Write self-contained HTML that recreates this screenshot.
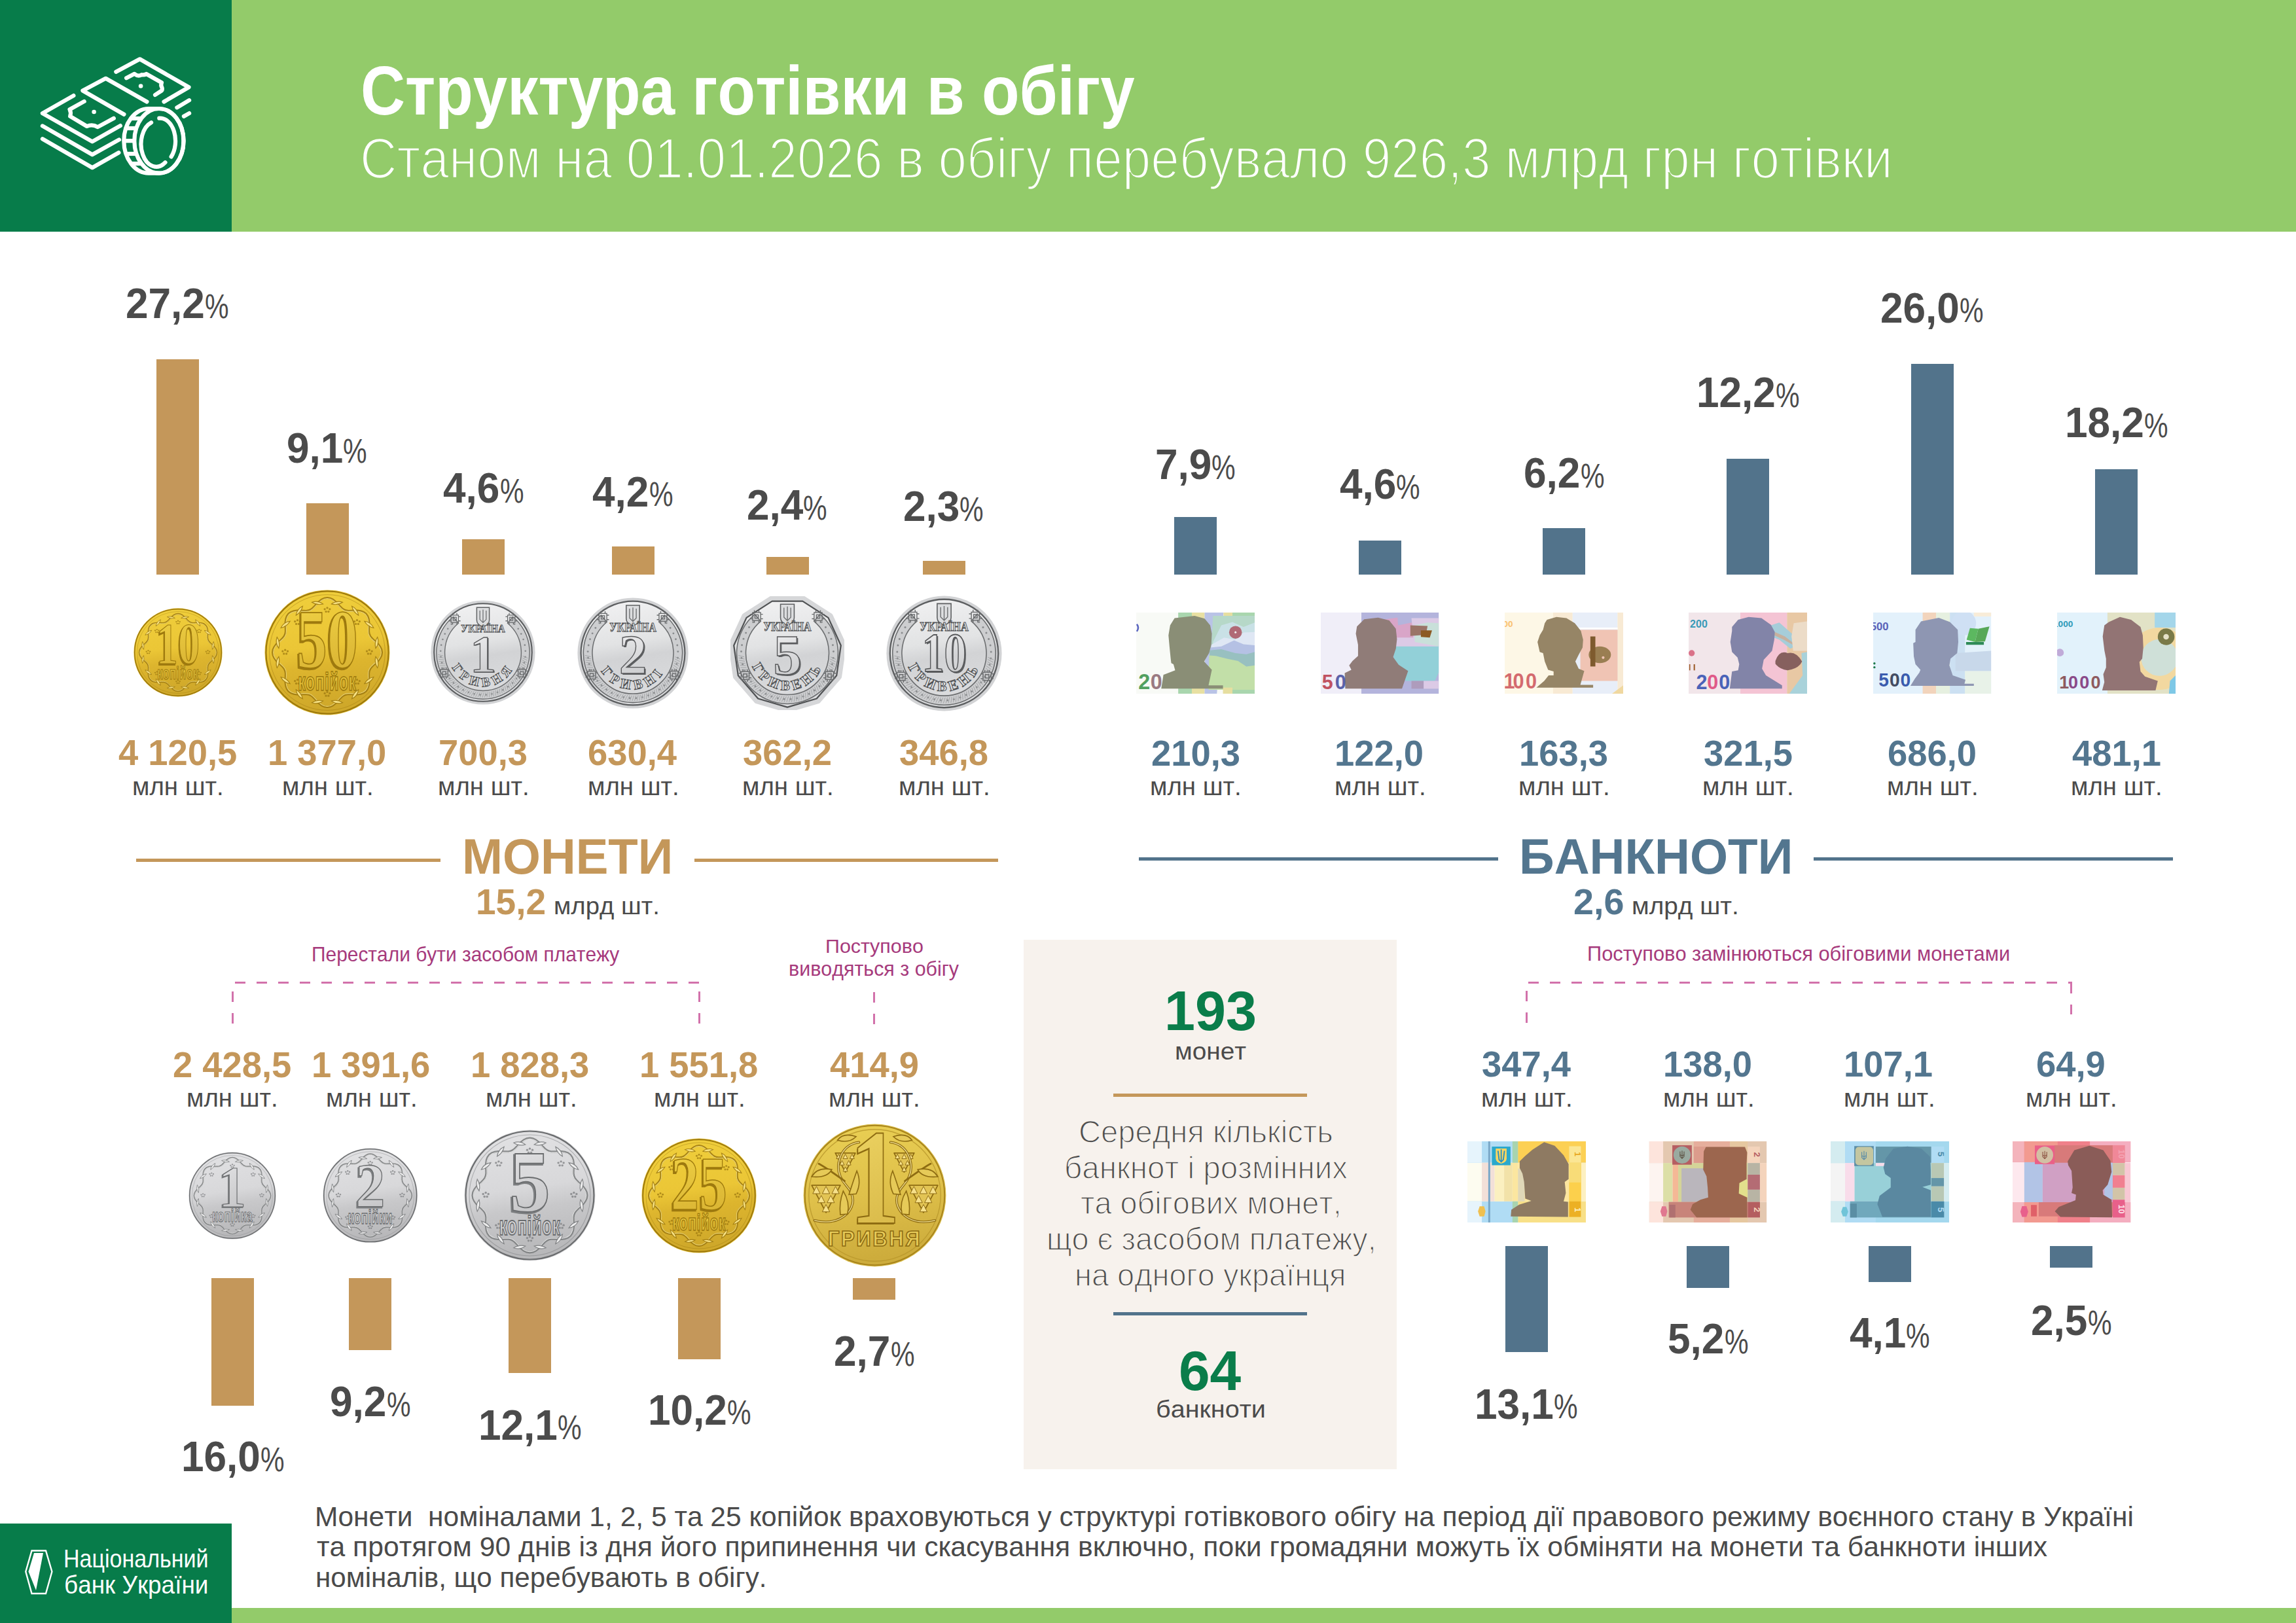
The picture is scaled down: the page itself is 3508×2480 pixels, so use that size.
<!DOCTYPE html>
<html lang="uk"><head><meta charset="utf-8"><title>Структура готівки в обігу</title>
<style>
html,body{margin:0;padding:0;}
body{width:3508px;height:2480px;position:relative;overflow:hidden;background:#fff;font-family:"Liberation Sans",sans-serif;}
.t{position:absolute;white-space:nowrap;line-height:1;transform-origin:0 0;font-kerning:none;font-family:"Liberation Sans",sans-serif;}
svg{overflow:hidden}
</style></head><body>
<div style="position:absolute;left:0.0px;top:0.0px;width:354.3px;height:354.4px;background:#077c4a;"></div>
<div style="position:absolute;left:354.3px;top:0.0px;width:3153.7px;height:354.4px;background:#93cb6a;"></div>
<svg style="position:absolute;left:0;top:0" width="354" height="354" viewBox="0 0 354 354"><g fill="none" stroke="#fff" stroke-width="6.2" stroke-linecap="round" stroke-linejoin="round"><path d="M177.3,109.8 L213.6,90.3 L288.5,133.3 L250.5,155.5"/><path d="M193.1,119.2 L205.4,112.8 Q210.7,117.5 216.5,114.2 Q220.0,115.1 223.6,113.0 L247.0,126.2 Q245.2,130.3 247.6,134.1 Q248.7,137.9 245.2,139.7 L237.0,145.0"/><path d="M224.4,155.5 L161.5,119.8 L126.4,138.5 L189.4,174.8"/><path d="M112.4,146.1 L64.9,173.1 L141.0,216.4 L183.8,192.1"/><path d="M128.7,154.9 L106.5,167.2 Q109.1,172.5 107.1,177.7 L132.8,193.0 Q141.0,189.1 149.2,194.1 L173.8,180.7"/><path d="M64.9,192.4 L141.0,236.3 L182.0,213.4"/><path d="M64.9,212.3 L141.0,256.2 L181.4,233.3"/><path d="M270.4,164.3 L289.1,153.2"/><path d="M280.9,177.7 L289.1,173.1"/><path d="M226.9,166.0 L242.9,166.0 A37.6,49.3 0 0 1 242.9,264.6 L226.9,264.6 A37.6,49.3 0 0 1 226.9,166.0 Z" fill="#077c4a"/><ellipse cx="242.9" cy="215.3" rx="37.6" ry="49.3"/><path d="M199.9,181 L215.9,181" stroke-linecap="butt"/><path d="M192.3,196 L208.3,196" stroke-linecap="butt"/><path d="M189.3,215.2 L205.3,215.2" stroke-linecap="butt"/><path d="M192.4,235 L208.4,235" stroke-linecap="butt"/><path d="M200.2,250 L216.2,250" stroke-linecap="butt"/><path d="M231.1,187.2 A23.3,34.8 0 1 0 252.5,248.2"/><path d="M243.3,180.7 A23.3,34.8 0 0 1 261.6,239.5"/></g><circle cx="215.1" cy="131.5" r="3.3" fill="#fff"/><circle cx="143.6" cy="171.0" r="3.3" fill="#fff"/></svg>
<div class="t" style="left:551.1px;top:86.9px;font-size:104.9px;font-weight:700;color:#fff;font-family:'Liberation Sans',sans-serif;transform:scaleX(0.8989);">Структура готівки в обігу</div>
<div class="t" style="left:549.7px;top:199.1px;font-size:86.8px;font-weight:400;color:#fff;font-family:'Liberation Sans',sans-serif;transform:scaleX(0.9018);-webkit-text-stroke:2.6px #93cb6a;paint-order:normal;">Станом на 01.01.2026 в обігу перебувало 926,3 млрд грн готівки</div>
<div style="position:absolute;left:239.0px;top:549.0px;width:65.0px;height:329.0px;background:#c4975a;"></div>
<div style="position:absolute;left:467.5px;top:769.0px;width:65.0px;height:109.0px;background:#c4975a;"></div>
<div style="position:absolute;left:705.5px;top:824.0px;width:65.0px;height:54.0px;background:#c4975a;"></div>
<div style="position:absolute;left:934.5px;top:834.5px;width:65.0px;height:43.5px;background:#c4975a;"></div>
<div style="position:absolute;left:1170.5px;top:851.0px;width:65.0px;height:27.0px;background:#c4975a;"></div>
<div style="position:absolute;left:1409.5px;top:856.6px;width:65.0px;height:21.4px;background:#c4975a;"></div>
<div class="t" style="left:192.4px;top:431.1px;font-size:65.4px;font-weight:700;color:#4b4b4b;transform:scaleX(0.9500);">27,2</div>
<div class="t" style="left:313.3px;top:441.9px;font-size:52.7px;font-weight:400;color:#4b4b4b;transform:scaleX(0.7800);">%</div>
<div class="t" style="left:437.9px;top:652.2px;font-size:65.4px;font-weight:700;color:#4b4b4b;transform:scaleX(0.9500);">9,1</div>
<div class="t" style="left:524.3px;top:663.0px;font-size:52.7px;font-weight:400;color:#4b4b4b;transform:scaleX(0.7800);">%</div>
<div class="t" style="left:677.1px;top:713.4px;font-size:65.4px;font-weight:700;color:#4b4b4b;transform:scaleX(0.9500);">4,6</div>
<div class="t" style="left:763.5px;top:724.2px;font-size:52.7px;font-weight:400;color:#4b4b4b;transform:scaleX(0.7800);">%</div>
<div class="t" style="left:905.3px;top:718.5px;font-size:65.4px;font-weight:700;color:#4b4b4b;transform:scaleX(0.9500);">4,2</div>
<div class="t" style="left:991.7px;top:729.3px;font-size:52.7px;font-weight:400;color:#4b4b4b;transform:scaleX(0.7800);">%</div>
<div class="t" style="left:1141.0px;top:739.3px;font-size:65.4px;font-weight:700;color:#4b4b4b;transform:scaleX(0.9500);">2,4</div>
<div class="t" style="left:1227.4px;top:750.1px;font-size:52.7px;font-weight:400;color:#4b4b4b;transform:scaleX(0.7800);">%</div>
<div class="t" style="left:1379.7px;top:741.2px;font-size:65.4px;font-weight:700;color:#4b4b4b;transform:scaleX(0.9500);">2,3</div>
<div class="t" style="left:1466.1px;top:752.0px;font-size:52.7px;font-weight:400;color:#4b4b4b;transform:scaleX(0.7800);">%</div>
<svg style="position:absolute;left:203.9px;top:928.5px" width="136.0" height="136.0" viewBox="-100 -100 200 200"><defs><linearGradient id="g1" x1="0" y1="0" x2="0.15" y2="1"><stop offset="0" stop-color="#f0cf3c"/><stop offset="0.5" stop-color="#ebc636"/><stop offset="0.66" stop-color="#ddb52e"/><stop offset="1" stop-color="#cfa82a"/></linearGradient><linearGradient id="gn2" x1="0" y1="0" x2="0.15" y2="1"><stop offset="0" stop-color="#f2d446"/><stop offset="1" stop-color="#d8b232"/></linearGradient></defs><circle r="99.5" fill="#e6c440"/><circle r="97.5" fill="url(#g1)" stroke="#9c780c" stroke-width="2.2"/><circle r="92" fill="none" stroke="#9e7a10" stroke-width="1" opacity="0.5"/><path d="M0.0,-87.0 L4.5,-86.3 L8.9,-84.2 L12.9,-81.2 L16.5,-77.5 L19.8,-73.9 L23.0,-70.7 L26.2,-68.3 L29.8,-66.8 L33.7,-66.2 L38.2,-66.3 L43.2,-66.5 L48.3,-66.5 L53.3,-65.8 L57.8,-64.2 L61.5,-61.5 L64.2,-57.8 L65.8,-53.3 L66.5,-48.3 L66.5,-43.2 L66.3,-38.3 L66.2,-33.7 L66.8,-29.8 L68.3,-26.2 L70.7,-23.0 L73.9,-19.8 L77.5,-16.5 L81.2,-12.9 L84.2,-8.9 L86.3,-4.5 L87.0,-0.0 L86.3,4.5 L84.2,8.9 L81.2,12.9 L77.5,16.5 L73.9,19.8 L70.7,23.0 L68.3,26.2 L66.8,29.8 L66.2,33.7 L66.3,38.2 L66.5,43.2 L66.5,48.3 L65.8,53.3 L64.2,57.8 L61.5,61.5 L57.8,64.2 L53.3,65.8 L48.3,66.5 L43.2,66.5 L38.2,66.3 L33.7,66.2 L29.8,66.8 L26.2,68.3 L23.0,70.7 L19.8,73.9 L16.5,77.5 L12.9,81.2 L8.9,84.2 L4.5,86.3 L0.0,87.0 L-4.5,86.3 L-8.9,84.2 L-12.9,81.2 L-16.5,77.5 L-19.8,73.9 L-23.0,70.7 L-26.2,68.3 L-29.8,66.8 L-33.7,66.2 L-38.3,66.3 L-43.2,66.5 L-48.3,66.5 L-53.3,65.8 L-57.8,64.2 L-61.5,61.5 L-64.2,57.8 L-65.8,53.3 L-66.5,48.3 L-66.5,43.2 L-66.3,38.3 L-66.2,33.7 L-66.8,29.8 L-68.3,26.2 L-70.7,23.0 L-73.9,19.8 L-77.5,16.5 L-81.2,12.9 L-84.2,8.9 L-86.3,4.5 L-87.0,0.0 L-86.3,-4.5 L-84.2,-8.9 L-81.2,-12.9 L-77.5,-16.5 L-73.9,-19.8 L-70.7,-23.0 L-68.3,-26.2 L-66.8,-29.8 L-66.2,-33.7 L-66.3,-38.3 L-66.5,-43.2 L-66.5,-48.3 L-65.8,-53.3 L-64.2,-57.8 L-61.5,-61.5 L-57.8,-64.2 L-53.3,-65.8 L-48.3,-66.5 L-43.2,-66.5 L-38.3,-66.3 L-33.7,-66.2 L-29.8,-66.8 L-26.2,-68.3 L-23.0,-70.7 L-19.8,-73.9 L-16.5,-77.5 L-12.9,-81.2 L-8.9,-84.2 L-4.5,-86.3 L-0.0,-87.0Z" fill="none" stroke="#9e7a10" stroke-width="3.2" opacity="0.9"/><path d="M0.0,-85.8 L4.5,-85.1 L8.7,-83.0 L12.7,-80.0 L16.2,-76.4 L19.5,-72.7 L22.6,-69.6 L25.8,-67.2 L29.3,-65.7 L33.2,-65.2 L37.6,-65.2 L42.5,-65.5 L47.6,-65.5 L52.5,-64.9 L57.0,-63.3 L60.7,-60.7 L63.3,-57.0 L64.9,-52.5 L65.5,-47.6 L65.5,-42.5 L65.2,-37.7 L65.2,-33.2 L65.7,-29.3 L67.2,-25.8 L69.6,-22.6 L72.7,-19.5 L76.4,-16.2 L80.0,-12.7 L83.0,-8.7 L85.1,-4.5 L85.8,-0.0 L85.1,4.5 L83.0,8.7 L80.0,12.7 L76.4,16.2 L72.7,19.5 L69.6,22.6 L67.2,25.8 L65.7,29.3 L65.2,33.2 L65.2,37.6 L65.5,42.5 L65.5,47.6 L64.9,52.5 L63.3,57.0 L60.7,60.7 L57.0,63.3 L52.5,64.9 L47.6,65.5 L42.5,65.5 L37.6,65.2 L33.2,65.2 L29.3,65.7 L25.8,67.2 L22.6,69.6 L19.5,72.7 L16.2,76.4 L12.7,80.0 L8.7,83.0 L4.5,85.1 L0.0,85.8 L-4.5,85.1 L-8.7,83.0 L-12.7,80.0 L-16.2,76.4 L-19.5,72.7 L-22.6,69.6 L-25.8,67.2 L-29.3,65.7 L-33.2,65.2 L-37.7,65.2 L-42.5,65.5 L-47.6,65.5 L-52.5,64.9 L-57.0,63.3 L-60.7,60.7 L-63.3,57.0 L-64.9,52.5 L-65.5,47.6 L-65.5,42.5 L-65.2,37.7 L-65.2,33.2 L-65.7,29.3 L-67.2,25.8 L-69.6,22.6 L-72.7,19.5 L-76.4,16.2 L-80.0,12.7 L-83.0,8.7 L-85.1,4.5 L-85.8,0.0 L-85.1,-4.5 L-83.0,-8.7 L-80.0,-12.7 L-76.4,-16.2 L-72.7,-19.5 L-69.6,-22.6 L-67.2,-25.8 L-65.7,-29.3 L-65.2,-33.2 L-65.2,-37.7 L-65.5,-42.5 L-65.5,-47.6 L-64.9,-52.5 L-63.3,-57.0 L-60.7,-60.7 L-57.0,-63.3 L-52.5,-64.9 L-47.6,-65.5 L-42.5,-65.5 L-37.7,-65.2 L-33.2,-65.2 L-29.3,-65.7 L-25.8,-67.2 L-22.6,-69.6 L-19.5,-72.7 L-16.2,-76.4 L-12.7,-80.0 L-8.7,-83.0 L-4.5,-85.1 L-0.0,-85.8Z" fill="none" stroke="#fae68a" stroke-width="1.2" opacity="0.8"/><path d="M-9,0 Q0,-5 9,0 Q0,4 -9,0Z" transform="translate(15.6,-78.5) rotate(-9)" fill="#fae68a" stroke="#9e7a10" stroke-width="1.2" opacity="0.9"/><path d="M-9,0 Q0,-5 9,0 Q0,4 -9,0Z" transform="translate(44.4,-66.5) rotate(54)" fill="#fae68a" stroke="#9e7a10" stroke-width="1.2" opacity="0.9"/><path d="M-9,0 Q0,-5 9,0 Q0,4 -9,0Z" transform="translate(66.5,-44.4) rotate(36)" fill="#fae68a" stroke="#9e7a10" stroke-width="1.2" opacity="0.9"/><path d="M-9,0 Q0,-5 9,0 Q0,4 -9,0Z" transform="translate(78.5,-15.6) rotate(99)" fill="#fae68a" stroke="#9e7a10" stroke-width="1.2" opacity="0.9"/><path d="M-9,0 Q0,-5 9,0 Q0,4 -9,0Z" transform="translate(78.5,15.6) rotate(81)" fill="#fae68a" stroke="#9e7a10" stroke-width="1.2" opacity="0.9"/><path d="M-9,0 Q0,-5 9,0 Q0,4 -9,0Z" transform="translate(66.5,44.4) rotate(144)" fill="#fae68a" stroke="#9e7a10" stroke-width="1.2" opacity="0.9"/><path d="M-9,0 Q0,-5 9,0 Q0,4 -9,0Z" transform="translate(44.4,66.5) rotate(126)" fill="#fae68a" stroke="#9e7a10" stroke-width="1.2" opacity="0.9"/><path d="M-9,0 Q0,-5 9,0 Q0,4 -9,0Z" transform="translate(15.6,78.5) rotate(189)" fill="#fae68a" stroke="#9e7a10" stroke-width="1.2" opacity="0.9"/><path d="M-9,0 Q0,-5 9,0 Q0,4 -9,0Z" transform="translate(-15.6,78.5) rotate(171)" fill="#fae68a" stroke="#9e7a10" stroke-width="1.2" opacity="0.9"/><path d="M-9,0 Q0,-5 9,0 Q0,4 -9,0Z" transform="translate(-44.4,66.5) rotate(234)" fill="#fae68a" stroke="#9e7a10" stroke-width="1.2" opacity="0.9"/><path d="M-9,0 Q0,-5 9,0 Q0,4 -9,0Z" transform="translate(-66.5,44.4) rotate(216)" fill="#fae68a" stroke="#9e7a10" stroke-width="1.2" opacity="0.9"/><path d="M-9,0 Q0,-5 9,0 Q0,4 -9,0Z" transform="translate(-78.5,15.6) rotate(279)" fill="#fae68a" stroke="#9e7a10" stroke-width="1.2" opacity="0.9"/><path d="M-9,0 Q0,-5 9,0 Q0,4 -9,0Z" transform="translate(-78.5,-15.6) rotate(261)" fill="#fae68a" stroke="#9e7a10" stroke-width="1.2" opacity="0.9"/><path d="M-9,0 Q0,-5 9,0 Q0,4 -9,0Z" transform="translate(-66.5,-44.4) rotate(324)" fill="#fae68a" stroke="#9e7a10" stroke-width="1.2" opacity="0.9"/><path d="M-9,0 Q0,-5 9,0 Q0,4 -9,0Z" transform="translate(-44.4,-66.5) rotate(306)" fill="#fae68a" stroke="#9e7a10" stroke-width="1.2" opacity="0.9"/><path d="M-9,0 Q0,-5 9,0 Q0,4 -9,0Z" transform="translate(-15.6,-78.5) rotate(369)" fill="#fae68a" stroke="#9e7a10" stroke-width="1.2" opacity="0.9"/><circle cx="-4.0" cy="-69.0" r="1.7" fill="#9e7a10" opacity="0.75"/><circle cx="0.0" cy="-71.0" r="1.7" fill="#9e7a10" opacity="0.75"/><circle cx="4.0" cy="-69.0" r="1.7" fill="#9e7a10" opacity="0.75"/><circle cx="-2.0" cy="-65.0" r="1.7" fill="#9e7a10" opacity="0.75"/><circle cx="2.0" cy="-65.0" r="1.7" fill="#9e7a10" opacity="0.75"/><circle cx="43.4" cy="-49.4" r="1.7" fill="#9e7a10" opacity="0.75"/><circle cx="47.4" cy="-51.4" r="1.7" fill="#9e7a10" opacity="0.75"/><circle cx="51.4" cy="-49.4" r="1.7" fill="#9e7a10" opacity="0.75"/><circle cx="45.4" cy="-45.4" r="1.7" fill="#9e7a10" opacity="0.75"/><circle cx="49.4" cy="-45.4" r="1.7" fill="#9e7a10" opacity="0.75"/><circle cx="63.0" cy="-2.0" r="1.7" fill="#9e7a10" opacity="0.75"/><circle cx="67.0" cy="-4.0" r="1.7" fill="#9e7a10" opacity="0.75"/><circle cx="71.0" cy="-2.0" r="1.7" fill="#9e7a10" opacity="0.75"/><circle cx="65.0" cy="2.0" r="1.7" fill="#9e7a10" opacity="0.75"/><circle cx="69.0" cy="2.0" r="1.7" fill="#9e7a10" opacity="0.75"/><circle cx="43.4" cy="45.4" r="1.7" fill="#9e7a10" opacity="0.75"/><circle cx="47.4" cy="43.4" r="1.7" fill="#9e7a10" opacity="0.75"/><circle cx="51.4" cy="45.4" r="1.7" fill="#9e7a10" opacity="0.75"/><circle cx="45.4" cy="49.4" r="1.7" fill="#9e7a10" opacity="0.75"/><circle cx="49.4" cy="49.4" r="1.7" fill="#9e7a10" opacity="0.75"/><circle cx="-4.0" cy="65.0" r="1.7" fill="#9e7a10" opacity="0.75"/><circle cx="0.0" cy="63.0" r="1.7" fill="#9e7a10" opacity="0.75"/><circle cx="4.0" cy="65.0" r="1.7" fill="#9e7a10" opacity="0.75"/><circle cx="-2.0" cy="69.0" r="1.7" fill="#9e7a10" opacity="0.75"/><circle cx="2.0" cy="69.0" r="1.7" fill="#9e7a10" opacity="0.75"/><circle cx="-51.4" cy="45.4" r="1.7" fill="#9e7a10" opacity="0.75"/><circle cx="-47.4" cy="43.4" r="1.7" fill="#9e7a10" opacity="0.75"/><circle cx="-43.4" cy="45.4" r="1.7" fill="#9e7a10" opacity="0.75"/><circle cx="-49.4" cy="49.4" r="1.7" fill="#9e7a10" opacity="0.75"/><circle cx="-45.4" cy="49.4" r="1.7" fill="#9e7a10" opacity="0.75"/><circle cx="-71.0" cy="-2.0" r="1.7" fill="#9e7a10" opacity="0.75"/><circle cx="-67.0" cy="-4.0" r="1.7" fill="#9e7a10" opacity="0.75"/><circle cx="-63.0" cy="-2.0" r="1.7" fill="#9e7a10" opacity="0.75"/><circle cx="-69.0" cy="2.0" r="1.7" fill="#9e7a10" opacity="0.75"/><circle cx="-65.0" cy="2.0" r="1.7" fill="#9e7a10" opacity="0.75"/><circle cx="-51.4" cy="-49.4" r="1.7" fill="#9e7a10" opacity="0.75"/><circle cx="-47.4" cy="-51.4" r="1.7" fill="#9e7a10" opacity="0.75"/><circle cx="-43.4" cy="-49.4" r="1.7" fill="#9e7a10" opacity="0.75"/><circle cx="-49.4" cy="-45.4" r="1.7" fill="#9e7a10" opacity="0.75"/><circle cx="-45.4" cy="-45.4" r="1.7" fill="#9e7a10" opacity="0.75"/><text x="-2.4" y="26.0" transform="scale(0.74,1)" text-anchor="middle" font-family="Liberation Serif" font-weight="700" font-size="132" fill="#9e7a10" stroke="#9e7a10" stroke-width="2.8">10</text><text x="0.0" y="24" transform="scale(0.74,1)" text-anchor="middle" font-family="Liberation Serif" font-weight="700" font-size="132" fill="url(#gn2)" stroke="#9c780c" stroke-width="1.8">10</text><text x="0" y="60" transform="scale(0.6,1)" text-anchor="middle" font-family="Liberation Sans" font-weight="700" font-size="40" fill="url(#gn2)" stroke="#9c780c" stroke-width="1.8" letter-spacing="1">копійок</text></svg>
<svg style="position:absolute;left:403.7px;top:901.3px" width="192.0" height="192.0" viewBox="-100 -100 200 200"><defs><linearGradient id="g3" x1="0" y1="0" x2="0.15" y2="1"><stop offset="0" stop-color="#f0cf3c"/><stop offset="0.5" stop-color="#ebc636"/><stop offset="0.66" stop-color="#ddb52e"/><stop offset="1" stop-color="#cfa82a"/></linearGradient><linearGradient id="gn4" x1="0" y1="0" x2="0.15" y2="1"><stop offset="0" stop-color="#f2d446"/><stop offset="1" stop-color="#d8b232"/></linearGradient></defs><circle r="99.5" fill="#e6c440"/><circle r="97.5" fill="url(#g3)" stroke="#9c780c" stroke-width="2.2"/><circle r="92" fill="none" stroke="#9e7a10" stroke-width="1" opacity="0.5"/><path d="M0.0,-87.0 L4.5,-86.3 L8.9,-84.2 L12.9,-81.2 L16.5,-77.5 L19.8,-73.9 L23.0,-70.7 L26.2,-68.3 L29.8,-66.8 L33.7,-66.2 L38.2,-66.3 L43.2,-66.5 L48.3,-66.5 L53.3,-65.8 L57.8,-64.2 L61.5,-61.5 L64.2,-57.8 L65.8,-53.3 L66.5,-48.3 L66.5,-43.2 L66.3,-38.3 L66.2,-33.7 L66.8,-29.8 L68.3,-26.2 L70.7,-23.0 L73.9,-19.8 L77.5,-16.5 L81.2,-12.9 L84.2,-8.9 L86.3,-4.5 L87.0,-0.0 L86.3,4.5 L84.2,8.9 L81.2,12.9 L77.5,16.5 L73.9,19.8 L70.7,23.0 L68.3,26.2 L66.8,29.8 L66.2,33.7 L66.3,38.2 L66.5,43.2 L66.5,48.3 L65.8,53.3 L64.2,57.8 L61.5,61.5 L57.8,64.2 L53.3,65.8 L48.3,66.5 L43.2,66.5 L38.2,66.3 L33.7,66.2 L29.8,66.8 L26.2,68.3 L23.0,70.7 L19.8,73.9 L16.5,77.5 L12.9,81.2 L8.9,84.2 L4.5,86.3 L0.0,87.0 L-4.5,86.3 L-8.9,84.2 L-12.9,81.2 L-16.5,77.5 L-19.8,73.9 L-23.0,70.7 L-26.2,68.3 L-29.8,66.8 L-33.7,66.2 L-38.3,66.3 L-43.2,66.5 L-48.3,66.5 L-53.3,65.8 L-57.8,64.2 L-61.5,61.5 L-64.2,57.8 L-65.8,53.3 L-66.5,48.3 L-66.5,43.2 L-66.3,38.3 L-66.2,33.7 L-66.8,29.8 L-68.3,26.2 L-70.7,23.0 L-73.9,19.8 L-77.5,16.5 L-81.2,12.9 L-84.2,8.9 L-86.3,4.5 L-87.0,0.0 L-86.3,-4.5 L-84.2,-8.9 L-81.2,-12.9 L-77.5,-16.5 L-73.9,-19.8 L-70.7,-23.0 L-68.3,-26.2 L-66.8,-29.8 L-66.2,-33.7 L-66.3,-38.3 L-66.5,-43.2 L-66.5,-48.3 L-65.8,-53.3 L-64.2,-57.8 L-61.5,-61.5 L-57.8,-64.2 L-53.3,-65.8 L-48.3,-66.5 L-43.2,-66.5 L-38.3,-66.3 L-33.7,-66.2 L-29.8,-66.8 L-26.2,-68.3 L-23.0,-70.7 L-19.8,-73.9 L-16.5,-77.5 L-12.9,-81.2 L-8.9,-84.2 L-4.5,-86.3 L-0.0,-87.0Z" fill="none" stroke="#9e7a10" stroke-width="3.2" opacity="0.9"/><path d="M0.0,-85.8 L4.5,-85.1 L8.7,-83.0 L12.7,-80.0 L16.2,-76.4 L19.5,-72.7 L22.6,-69.6 L25.8,-67.2 L29.3,-65.7 L33.2,-65.2 L37.6,-65.2 L42.5,-65.5 L47.6,-65.5 L52.5,-64.9 L57.0,-63.3 L60.7,-60.7 L63.3,-57.0 L64.9,-52.5 L65.5,-47.6 L65.5,-42.5 L65.2,-37.7 L65.2,-33.2 L65.7,-29.3 L67.2,-25.8 L69.6,-22.6 L72.7,-19.5 L76.4,-16.2 L80.0,-12.7 L83.0,-8.7 L85.1,-4.5 L85.8,-0.0 L85.1,4.5 L83.0,8.7 L80.0,12.7 L76.4,16.2 L72.7,19.5 L69.6,22.6 L67.2,25.8 L65.7,29.3 L65.2,33.2 L65.2,37.6 L65.5,42.5 L65.5,47.6 L64.9,52.5 L63.3,57.0 L60.7,60.7 L57.0,63.3 L52.5,64.9 L47.6,65.5 L42.5,65.5 L37.6,65.2 L33.2,65.2 L29.3,65.7 L25.8,67.2 L22.6,69.6 L19.5,72.7 L16.2,76.4 L12.7,80.0 L8.7,83.0 L4.5,85.1 L0.0,85.8 L-4.5,85.1 L-8.7,83.0 L-12.7,80.0 L-16.2,76.4 L-19.5,72.7 L-22.6,69.6 L-25.8,67.2 L-29.3,65.7 L-33.2,65.2 L-37.7,65.2 L-42.5,65.5 L-47.6,65.5 L-52.5,64.9 L-57.0,63.3 L-60.7,60.7 L-63.3,57.0 L-64.9,52.5 L-65.5,47.6 L-65.5,42.5 L-65.2,37.7 L-65.2,33.2 L-65.7,29.3 L-67.2,25.8 L-69.6,22.6 L-72.7,19.5 L-76.4,16.2 L-80.0,12.7 L-83.0,8.7 L-85.1,4.5 L-85.8,0.0 L-85.1,-4.5 L-83.0,-8.7 L-80.0,-12.7 L-76.4,-16.2 L-72.7,-19.5 L-69.6,-22.6 L-67.2,-25.8 L-65.7,-29.3 L-65.2,-33.2 L-65.2,-37.7 L-65.5,-42.5 L-65.5,-47.6 L-64.9,-52.5 L-63.3,-57.0 L-60.7,-60.7 L-57.0,-63.3 L-52.5,-64.9 L-47.6,-65.5 L-42.5,-65.5 L-37.7,-65.2 L-33.2,-65.2 L-29.3,-65.7 L-25.8,-67.2 L-22.6,-69.6 L-19.5,-72.7 L-16.2,-76.4 L-12.7,-80.0 L-8.7,-83.0 L-4.5,-85.1 L-0.0,-85.8Z" fill="none" stroke="#fae68a" stroke-width="1.2" opacity="0.8"/><path d="M-9,0 Q0,-5 9,0 Q0,4 -9,0Z" transform="translate(15.6,-78.5) rotate(-9)" fill="#fae68a" stroke="#9e7a10" stroke-width="1.2" opacity="0.9"/><path d="M-9,0 Q0,-5 9,0 Q0,4 -9,0Z" transform="translate(44.4,-66.5) rotate(54)" fill="#fae68a" stroke="#9e7a10" stroke-width="1.2" opacity="0.9"/><path d="M-9,0 Q0,-5 9,0 Q0,4 -9,0Z" transform="translate(66.5,-44.4) rotate(36)" fill="#fae68a" stroke="#9e7a10" stroke-width="1.2" opacity="0.9"/><path d="M-9,0 Q0,-5 9,0 Q0,4 -9,0Z" transform="translate(78.5,-15.6) rotate(99)" fill="#fae68a" stroke="#9e7a10" stroke-width="1.2" opacity="0.9"/><path d="M-9,0 Q0,-5 9,0 Q0,4 -9,0Z" transform="translate(78.5,15.6) rotate(81)" fill="#fae68a" stroke="#9e7a10" stroke-width="1.2" opacity="0.9"/><path d="M-9,0 Q0,-5 9,0 Q0,4 -9,0Z" transform="translate(66.5,44.4) rotate(144)" fill="#fae68a" stroke="#9e7a10" stroke-width="1.2" opacity="0.9"/><path d="M-9,0 Q0,-5 9,0 Q0,4 -9,0Z" transform="translate(44.4,66.5) rotate(126)" fill="#fae68a" stroke="#9e7a10" stroke-width="1.2" opacity="0.9"/><path d="M-9,0 Q0,-5 9,0 Q0,4 -9,0Z" transform="translate(15.6,78.5) rotate(189)" fill="#fae68a" stroke="#9e7a10" stroke-width="1.2" opacity="0.9"/><path d="M-9,0 Q0,-5 9,0 Q0,4 -9,0Z" transform="translate(-15.6,78.5) rotate(171)" fill="#fae68a" stroke="#9e7a10" stroke-width="1.2" opacity="0.9"/><path d="M-9,0 Q0,-5 9,0 Q0,4 -9,0Z" transform="translate(-44.4,66.5) rotate(234)" fill="#fae68a" stroke="#9e7a10" stroke-width="1.2" opacity="0.9"/><path d="M-9,0 Q0,-5 9,0 Q0,4 -9,0Z" transform="translate(-66.5,44.4) rotate(216)" fill="#fae68a" stroke="#9e7a10" stroke-width="1.2" opacity="0.9"/><path d="M-9,0 Q0,-5 9,0 Q0,4 -9,0Z" transform="translate(-78.5,15.6) rotate(279)" fill="#fae68a" stroke="#9e7a10" stroke-width="1.2" opacity="0.9"/><path d="M-9,0 Q0,-5 9,0 Q0,4 -9,0Z" transform="translate(-78.5,-15.6) rotate(261)" fill="#fae68a" stroke="#9e7a10" stroke-width="1.2" opacity="0.9"/><path d="M-9,0 Q0,-5 9,0 Q0,4 -9,0Z" transform="translate(-66.5,-44.4) rotate(324)" fill="#fae68a" stroke="#9e7a10" stroke-width="1.2" opacity="0.9"/><path d="M-9,0 Q0,-5 9,0 Q0,4 -9,0Z" transform="translate(-44.4,-66.5) rotate(306)" fill="#fae68a" stroke="#9e7a10" stroke-width="1.2" opacity="0.9"/><path d="M-9,0 Q0,-5 9,0 Q0,4 -9,0Z" transform="translate(-15.6,-78.5) rotate(369)" fill="#fae68a" stroke="#9e7a10" stroke-width="1.2" opacity="0.9"/><circle cx="-4.0" cy="-69.0" r="1.7" fill="#9e7a10" opacity="0.75"/><circle cx="0.0" cy="-71.0" r="1.7" fill="#9e7a10" opacity="0.75"/><circle cx="4.0" cy="-69.0" r="1.7" fill="#9e7a10" opacity="0.75"/><circle cx="-2.0" cy="-65.0" r="1.7" fill="#9e7a10" opacity="0.75"/><circle cx="2.0" cy="-65.0" r="1.7" fill="#9e7a10" opacity="0.75"/><circle cx="43.4" cy="-49.4" r="1.7" fill="#9e7a10" opacity="0.75"/><circle cx="47.4" cy="-51.4" r="1.7" fill="#9e7a10" opacity="0.75"/><circle cx="51.4" cy="-49.4" r="1.7" fill="#9e7a10" opacity="0.75"/><circle cx="45.4" cy="-45.4" r="1.7" fill="#9e7a10" opacity="0.75"/><circle cx="49.4" cy="-45.4" r="1.7" fill="#9e7a10" opacity="0.75"/><circle cx="63.0" cy="-2.0" r="1.7" fill="#9e7a10" opacity="0.75"/><circle cx="67.0" cy="-4.0" r="1.7" fill="#9e7a10" opacity="0.75"/><circle cx="71.0" cy="-2.0" r="1.7" fill="#9e7a10" opacity="0.75"/><circle cx="65.0" cy="2.0" r="1.7" fill="#9e7a10" opacity="0.75"/><circle cx="69.0" cy="2.0" r="1.7" fill="#9e7a10" opacity="0.75"/><circle cx="43.4" cy="45.4" r="1.7" fill="#9e7a10" opacity="0.75"/><circle cx="47.4" cy="43.4" r="1.7" fill="#9e7a10" opacity="0.75"/><circle cx="51.4" cy="45.4" r="1.7" fill="#9e7a10" opacity="0.75"/><circle cx="45.4" cy="49.4" r="1.7" fill="#9e7a10" opacity="0.75"/><circle cx="49.4" cy="49.4" r="1.7" fill="#9e7a10" opacity="0.75"/><circle cx="-4.0" cy="65.0" r="1.7" fill="#9e7a10" opacity="0.75"/><circle cx="0.0" cy="63.0" r="1.7" fill="#9e7a10" opacity="0.75"/><circle cx="4.0" cy="65.0" r="1.7" fill="#9e7a10" opacity="0.75"/><circle cx="-2.0" cy="69.0" r="1.7" fill="#9e7a10" opacity="0.75"/><circle cx="2.0" cy="69.0" r="1.7" fill="#9e7a10" opacity="0.75"/><circle cx="-51.4" cy="45.4" r="1.7" fill="#9e7a10" opacity="0.75"/><circle cx="-47.4" cy="43.4" r="1.7" fill="#9e7a10" opacity="0.75"/><circle cx="-43.4" cy="45.4" r="1.7" fill="#9e7a10" opacity="0.75"/><circle cx="-49.4" cy="49.4" r="1.7" fill="#9e7a10" opacity="0.75"/><circle cx="-45.4" cy="49.4" r="1.7" fill="#9e7a10" opacity="0.75"/><circle cx="-71.0" cy="-2.0" r="1.7" fill="#9e7a10" opacity="0.75"/><circle cx="-67.0" cy="-4.0" r="1.7" fill="#9e7a10" opacity="0.75"/><circle cx="-63.0" cy="-2.0" r="1.7" fill="#9e7a10" opacity="0.75"/><circle cx="-69.0" cy="2.0" r="1.7" fill="#9e7a10" opacity="0.75"/><circle cx="-65.0" cy="2.0" r="1.7" fill="#9e7a10" opacity="0.75"/><circle cx="-51.4" cy="-49.4" r="1.7" fill="#9e7a10" opacity="0.75"/><circle cx="-47.4" cy="-51.4" r="1.7" fill="#9e7a10" opacity="0.75"/><circle cx="-43.4" cy="-49.4" r="1.7" fill="#9e7a10" opacity="0.75"/><circle cx="-49.4" cy="-45.4" r="1.7" fill="#9e7a10" opacity="0.75"/><circle cx="-45.4" cy="-45.4" r="1.7" fill="#9e7a10" opacity="0.75"/><text x="-2.4" y="26.0" transform="scale(0.74,1)" text-anchor="middle" font-family="Liberation Serif" font-weight="700" font-size="132" fill="#9e7a10" stroke="#9e7a10" stroke-width="2.8">50</text><text x="0.0" y="24" transform="scale(0.74,1)" text-anchor="middle" font-family="Liberation Serif" font-weight="700" font-size="132" fill="url(#gn4)" stroke="#9c780c" stroke-width="1.8">50</text><text x="0" y="60" transform="scale(0.6,1)" text-anchor="middle" font-family="Liberation Sans" font-weight="700" font-size="40" fill="url(#gn4)" stroke="#9c780c" stroke-width="1.8" letter-spacing="1">копійок</text></svg>
<svg style="position:absolute;left:658.4px;top:917.3px" width="160.0" height="160.0" viewBox="-100 -100 200 200"><defs><linearGradient id="g5" x1="0" y1="0" x2="0.15" y2="1"><stop offset="0" stop-color="#f2f2f3"/><stop offset="0.45" stop-color="#e2e3e4"/><stop offset="0.6" stop-color="#d2d3d5"/><stop offset="1" stop-color="#dcdddf"/></linearGradient><linearGradient id="gn6" x1="0" y1="0" x2="0.15" y2="1"><stop offset="0" stop-color="#f4f4f5"/><stop offset="1" stop-color="#c8c9cb"/></linearGradient><path id="p7" d="M-66,-1 A66,66 0 0 0 66,-1"/></defs><circle r="99.5" fill="#d2d3d5"/><circle r="93.5" fill="url(#g5)" stroke="#5c5e60" stroke-width="2.6"/><path d="M57.2,-68.2 A89,89 0 1 1 -57.2,-68.2 L-46.9,-55.9 A73,73 0 1 0 46.9,-55.9Z" fill="#cdced0" stroke="#6c6e70" stroke-width="1.8"/><circle cx="60.2" cy="-54.2" r="1.7" fill="#8a8c8e"/><circle cx="67.2" cy="-45.3" r="1.7" fill="#8a8c8e"/><circle cx="72.8" cy="-35.5" r="1.7" fill="#8a8c8e"/><circle cx="77.0" cy="-25.0" r="1.7" fill="#8a8c8e"/><circle cx="79.8" cy="-14.1" r="1.7" fill="#8a8c8e"/><circle cx="81.0" cy="-2.8" r="1.7" fill="#8a8c8e"/><circle cx="80.6" cy="8.5" r="1.7" fill="#8a8c8e"/><circle cx="78.6" cy="19.6" r="1.7" fill="#8a8c8e"/><circle cx="75.1" cy="30.3" r="1.7" fill="#8a8c8e"/><circle cx="70.1" cy="40.5" r="1.7" fill="#8a8c8e"/><circle cx="63.8" cy="49.9" r="1.7" fill="#8a8c8e"/><circle cx="56.3" cy="58.3" r="1.7" fill="#8a8c8e"/><circle cx="47.6" cy="65.5" r="1.7" fill="#8a8c8e"/><circle cx="38.0" cy="71.5" r="1.7" fill="#8a8c8e"/><circle cx="27.7" cy="76.1" r="1.7" fill="#8a8c8e"/><circle cx="16.8" cy="79.2" r="1.7" fill="#8a8c8e"/><circle cx="5.7" cy="80.8" r="1.7" fill="#8a8c8e"/><circle cx="-5.7" cy="80.8" r="1.7" fill="#8a8c8e"/><circle cx="-16.8" cy="79.2" r="1.7" fill="#8a8c8e"/><circle cx="-27.7" cy="76.1" r="1.7" fill="#8a8c8e"/><circle cx="-38.0" cy="71.5" r="1.7" fill="#8a8c8e"/><circle cx="-47.6" cy="65.5" r="1.7" fill="#8a8c8e"/><circle cx="-56.3" cy="58.3" r="1.7" fill="#8a8c8e"/><circle cx="-63.8" cy="49.9" r="1.7" fill="#8a8c8e"/><circle cx="-70.1" cy="40.5" r="1.7" fill="#8a8c8e"/><circle cx="-75.1" cy="30.3" r="1.7" fill="#8a8c8e"/><circle cx="-78.6" cy="19.6" r="1.7" fill="#8a8c8e"/><circle cx="-80.6" cy="8.5" r="1.7" fill="#8a8c8e"/><circle cx="-81.0" cy="-2.8" r="1.7" fill="#8a8c8e"/><circle cx="-79.8" cy="-14.1" r="1.7" fill="#8a8c8e"/><circle cx="-77.0" cy="-25.0" r="1.7" fill="#8a8c8e"/><circle cx="-72.8" cy="-35.5" r="1.7" fill="#8a8c8e"/><circle cx="-67.2" cy="-45.3" r="1.7" fill="#8a8c8e"/><circle cx="-60.2" cy="-54.2" r="1.7" fill="#8a8c8e"/><path d="M75.7,6.6 L85.3,10.9" stroke="#9c9ea0" stroke-width="1"/><path d="M75.3,10.4 L84.6,15.2" stroke="#9c9ea0" stroke-width="1"/><path d="M74.7,14.2 L83.8,19.4" stroke="#9c9ea0" stroke-width="1"/><path d="M73.9,17.9 L82.7,23.6" stroke="#9c9ea0" stroke-width="1"/><path d="M72.9,21.6 L81.4,27.7" stroke="#9c9ea0" stroke-width="1"/><path d="M71.7,25.3 L79.9,31.8" stroke="#9c9ea0" stroke-width="1"/><path d="M70.3,28.8 L78.2,35.8" stroke="#9c9ea0" stroke-width="1"/><path d="M68.8,32.3 L76.3,39.7" stroke="#9c9ea0" stroke-width="1"/><path d="M67.1,35.7 L74.2,43.4" stroke="#9c9ea0" stroke-width="1"/><path d="M65.2,39.1 L71.9,47.1" stroke="#9c9ea0" stroke-width="1"/><path d="M63.1,42.3 L69.5,50.7" stroke="#9c9ea0" stroke-width="1"/><path d="M60.9,45.4 L66.8,54.1" stroke="#9c9ea0" stroke-width="1"/><path d="M58.6,48.4 L64.0,57.4" stroke="#9c9ea0" stroke-width="1"/><path d="M56.1,51.3 L61.1,60.5" stroke="#9c9ea0" stroke-width="1"/><path d="M53.4,54.1 L58.0,63.5" stroke="#9c9ea0" stroke-width="1"/><path d="M50.6,56.7 L54.7,66.4" stroke="#9c9ea0" stroke-width="1"/><path d="M47.7,59.1 L51.3,69.0" stroke="#9c9ea0" stroke-width="1"/><path d="M44.7,61.5 L47.7,71.5" stroke="#9c9ea0" stroke-width="1"/><path d="M41.5,63.6 L44.1,73.8" stroke="#9c9ea0" stroke-width="1"/><path d="M38.3,65.6 L40.3,76.0" stroke="#9c9ea0" stroke-width="1"/><path d="M34.9,67.5 L36.5,77.9" stroke="#9c9ea0" stroke-width="1"/><path d="M31.5,69.2 L32.5,79.6" stroke="#9c9ea0" stroke-width="1"/><path d="M28.0,70.7 L28.5,81.2" stroke="#9c9ea0" stroke-width="1"/><path d="M24.4,72.0 L24.3,82.5" stroke="#9c9ea0" stroke-width="1"/><path d="M20.8,73.1 L20.2,83.6" stroke="#9c9ea0" stroke-width="1"/><path d="M17.1,74.1 L15.9,84.5" stroke="#9c9ea0" stroke-width="1"/><path d="M13.3,74.8 L11.7,85.2" stroke="#9c9ea0" stroke-width="1"/><path d="M9.5,75.4 L7.4,85.7" stroke="#9c9ea0" stroke-width="1"/><path d="M5.7,75.8 L3.0,85.9" stroke="#9c9ea0" stroke-width="1"/><path d="M1.9,76.0 L-1.3,86.0" stroke="#9c9ea0" stroke-width="1"/><path d="M-1.9,76.0 L-5.6,85.8" stroke="#9c9ea0" stroke-width="1"/><path d="M-5.7,75.8 L-9.9,85.4" stroke="#9c9ea0" stroke-width="1"/><path d="M-9.5,75.4 L-14.2,84.8" stroke="#9c9ea0" stroke-width="1"/><path d="M-13.3,74.8 L-18.4,84.0" stroke="#9c9ea0" stroke-width="1"/><path d="M-17.1,74.1 L-22.6,83.0" stroke="#9c9ea0" stroke-width="1"/><path d="M-20.8,73.1 L-26.8,81.7" stroke="#9c9ea0" stroke-width="1"/><path d="M-24.4,72.0 L-30.8,80.3" stroke="#9c9ea0" stroke-width="1"/><path d="M-28.0,70.7 L-34.8,78.6" stroke="#9c9ea0" stroke-width="1"/><path d="M-31.5,69.2 L-38.8,76.8" stroke="#9c9ea0" stroke-width="1"/><path d="M-34.9,67.5 L-42.6,74.7" stroke="#9c9ea0" stroke-width="1"/><path d="M-38.3,65.6 L-46.3,72.5" stroke="#9c9ea0" stroke-width="1"/><path d="M-41.5,63.6 L-49.9,70.1" stroke="#9c9ea0" stroke-width="1"/><path d="M-44.7,61.5 L-53.3,67.5" stroke="#9c9ea0" stroke-width="1"/><path d="M-47.7,59.1 L-56.6,64.7" stroke="#9c9ea0" stroke-width="1"/><path d="M-50.6,56.7 L-59.8,61.8" stroke="#9c9ea0" stroke-width="1"/><path d="M-53.4,54.1 L-62.8,58.7" stroke="#9c9ea0" stroke-width="1"/><path d="M-56.1,51.3 L-65.7,55.5" stroke="#9c9ea0" stroke-width="1"/><path d="M-58.6,48.4 L-68.4,52.1" stroke="#9c9ea0" stroke-width="1"/><path d="M-60.9,45.4 L-71.0,48.6" stroke="#9c9ea0" stroke-width="1"/><path d="M-63.1,42.3 L-73.3,45.0" stroke="#9c9ea0" stroke-width="1"/><path d="M-65.2,39.1 L-75.5,41.2" stroke="#9c9ea0" stroke-width="1"/><path d="M-67.1,35.7 L-77.5,37.4" stroke="#9c9ea0" stroke-width="1"/><path d="M-68.8,32.3 L-79.2,33.4" stroke="#9c9ea0" stroke-width="1"/><path d="M-70.3,28.8 L-80.8,29.4" stroke="#9c9ea0" stroke-width="1"/><path d="M-71.7,25.3 L-82.2,25.3" stroke="#9c9ea0" stroke-width="1"/><path d="M-72.9,21.6 L-83.4,21.1" stroke="#9c9ea0" stroke-width="1"/><path d="M-73.9,17.9 L-84.3,16.9" stroke="#9c9ea0" stroke-width="1"/><path d="M-74.7,14.2 L-85.1,12.7" stroke="#9c9ea0" stroke-width="1"/><path d="M-75.3,10.4 L-85.6,8.4" stroke="#9c9ea0" stroke-width="1"/><path d="M-75.7,6.6 L-85.9,4.1" stroke="#9c9ea0" stroke-width="1"/><g transform="translate(54.0,-64.3) scale(1.0)" fill="none" stroke="#6a6c6e" stroke-width="1.6"><rect x="-7" y="-7" width="14" height="14"/><rect x="-3" y="-3" width="6" height="6"/><path d="M-11,-4 L-7,-4 M-11,4 L-7,4 M7,-4 L11,-4 M7,4 L11,4 M-4,-11 L-4,-7 M4,-11 L4,-7 M-4,7 L-4,11 M4,7 L4,11"/></g><g transform="translate(-54.0,-64.3) scale(1.0)" fill="none" stroke="#6a6c6e" stroke-width="1.6"><rect x="-7" y="-7" width="14" height="14"/><rect x="-3" y="-3" width="6" height="6"/><path d="M-11,-4 L-7,-4 M-11,4 L-7,4 M7,-4 L11,-4 M7,4 L11,4 M-4,-11 L-4,-7 M4,-11 L4,-7 M-4,7 L-4,11 M4,7 L4,11"/></g><g transform="translate(74.2,39.4) scale(1.0)" fill="none" stroke="#6a6c6e" stroke-width="1.6"><rect x="-7" y="-7" width="14" height="14"/><rect x="-3" y="-3" width="6" height="6"/><path d="M-11,-4 L-7,-4 M-11,4 L-7,4 M7,-4 L11,-4 M7,4 L11,4 M-4,-11 L-4,-7 M4,-11 L4,-7 M-4,7 L-4,11 M4,7 L4,11"/></g><g transform="translate(-74.2,39.4) scale(1.0)" fill="none" stroke="#6a6c6e" stroke-width="1.6"><rect x="-7" y="-7" width="14" height="14"/><rect x="-3" y="-3" width="6" height="6"/><path d="M-11,-4 L-7,-4 M-11,4 L-7,4 M7,-4 L11,-4 M7,4 L11,4 M-4,-11 L-4,-7 M4,-11 L4,-7 M-4,7 L-4,11 M4,7 L4,11"/></g><path d="M-12,-86 L12,-86 L12,-62 Q12,-53 0,-49 Q-12,-53 -12,-62Z" fill="#dcdddf" stroke="#5e6062" stroke-width="1.8"/><path d="M-6,-80 L-6,-63 L0,-57 L6,-63 L6,-80 M0,-82 L0,-57" fill="none" stroke="#6e7072" stroke-width="1.6"/><text x="0" y="-39" transform="scale(0.88,1)" text-anchor="middle" font-family="Liberation Serif" font-weight="700" font-size="21" fill="#e2e3e5" stroke="#4e5052" stroke-width="1.1">УКРАЇНА</text><text font-family="Liberation Serif" font-weight="700" font-size="25" fill="#e2e3e5" stroke="#4e5052" stroke-width="1.2" text-anchor="middle" letter-spacing="7"><textPath href="#p7" startOffset="50%">ГРИВНЯ</textPath></text><text x="2.2" y="39" transform="scale(1,1)" text-anchor="middle" font-family="Liberation Serif" font-weight="700" font-size="100" fill="#5e6062">1</text><text x="0" y="37" transform="scale(1,1)" text-anchor="middle" font-family="Liberation Serif" font-weight="700" font-size="100" fill="url(#gn6)" stroke="#58595b" stroke-width="1.6">1</text></svg>
<svg style="position:absolute;left:882.0px;top:913.0px" width="170.0" height="170.0" viewBox="-100 -100 200 200"><defs><linearGradient id="g8" x1="0" y1="0" x2="0.15" y2="1"><stop offset="0" stop-color="#f2f2f3"/><stop offset="0.45" stop-color="#e2e3e4"/><stop offset="0.6" stop-color="#d2d3d5"/><stop offset="1" stop-color="#dcdddf"/></linearGradient><linearGradient id="gn9" x1="0" y1="0" x2="0.15" y2="1"><stop offset="0" stop-color="#f4f4f5"/><stop offset="1" stop-color="#c8c9cb"/></linearGradient><path id="p10" d="M-66,-1 A66,66 0 0 0 66,-1"/></defs><circle r="99.5" fill="#d2d3d5"/><circle r="93.5" fill="url(#g8)" stroke="#5c5e60" stroke-width="2.6"/><path d="M57.2,-68.2 A89,89 0 1 1 -57.2,-68.2 L-46.9,-55.9 A73,73 0 1 0 46.9,-55.9Z" fill="#cdced0" stroke="#6c6e70" stroke-width="1.8"/><circle cx="60.2" cy="-54.2" r="1.7" fill="#8a8c8e"/><circle cx="67.2" cy="-45.3" r="1.7" fill="#8a8c8e"/><circle cx="72.8" cy="-35.5" r="1.7" fill="#8a8c8e"/><circle cx="77.0" cy="-25.0" r="1.7" fill="#8a8c8e"/><circle cx="79.8" cy="-14.1" r="1.7" fill="#8a8c8e"/><circle cx="81.0" cy="-2.8" r="1.7" fill="#8a8c8e"/><circle cx="80.6" cy="8.5" r="1.7" fill="#8a8c8e"/><circle cx="78.6" cy="19.6" r="1.7" fill="#8a8c8e"/><circle cx="75.1" cy="30.3" r="1.7" fill="#8a8c8e"/><circle cx="70.1" cy="40.5" r="1.7" fill="#8a8c8e"/><circle cx="63.8" cy="49.9" r="1.7" fill="#8a8c8e"/><circle cx="56.3" cy="58.3" r="1.7" fill="#8a8c8e"/><circle cx="47.6" cy="65.5" r="1.7" fill="#8a8c8e"/><circle cx="38.0" cy="71.5" r="1.7" fill="#8a8c8e"/><circle cx="27.7" cy="76.1" r="1.7" fill="#8a8c8e"/><circle cx="16.8" cy="79.2" r="1.7" fill="#8a8c8e"/><circle cx="5.7" cy="80.8" r="1.7" fill="#8a8c8e"/><circle cx="-5.7" cy="80.8" r="1.7" fill="#8a8c8e"/><circle cx="-16.8" cy="79.2" r="1.7" fill="#8a8c8e"/><circle cx="-27.7" cy="76.1" r="1.7" fill="#8a8c8e"/><circle cx="-38.0" cy="71.5" r="1.7" fill="#8a8c8e"/><circle cx="-47.6" cy="65.5" r="1.7" fill="#8a8c8e"/><circle cx="-56.3" cy="58.3" r="1.7" fill="#8a8c8e"/><circle cx="-63.8" cy="49.9" r="1.7" fill="#8a8c8e"/><circle cx="-70.1" cy="40.5" r="1.7" fill="#8a8c8e"/><circle cx="-75.1" cy="30.3" r="1.7" fill="#8a8c8e"/><circle cx="-78.6" cy="19.6" r="1.7" fill="#8a8c8e"/><circle cx="-80.6" cy="8.5" r="1.7" fill="#8a8c8e"/><circle cx="-81.0" cy="-2.8" r="1.7" fill="#8a8c8e"/><circle cx="-79.8" cy="-14.1" r="1.7" fill="#8a8c8e"/><circle cx="-77.0" cy="-25.0" r="1.7" fill="#8a8c8e"/><circle cx="-72.8" cy="-35.5" r="1.7" fill="#8a8c8e"/><circle cx="-67.2" cy="-45.3" r="1.7" fill="#8a8c8e"/><circle cx="-60.2" cy="-54.2" r="1.7" fill="#8a8c8e"/><path d="M75.7,6.6 L85.3,10.9" stroke="#9c9ea0" stroke-width="1"/><path d="M75.3,10.4 L84.6,15.2" stroke="#9c9ea0" stroke-width="1"/><path d="M74.7,14.2 L83.8,19.4" stroke="#9c9ea0" stroke-width="1"/><path d="M73.9,17.9 L82.7,23.6" stroke="#9c9ea0" stroke-width="1"/><path d="M72.9,21.6 L81.4,27.7" stroke="#9c9ea0" stroke-width="1"/><path d="M71.7,25.3 L79.9,31.8" stroke="#9c9ea0" stroke-width="1"/><path d="M70.3,28.8 L78.2,35.8" stroke="#9c9ea0" stroke-width="1"/><path d="M68.8,32.3 L76.3,39.7" stroke="#9c9ea0" stroke-width="1"/><path d="M67.1,35.7 L74.2,43.4" stroke="#9c9ea0" stroke-width="1"/><path d="M65.2,39.1 L71.9,47.1" stroke="#9c9ea0" stroke-width="1"/><path d="M63.1,42.3 L69.5,50.7" stroke="#9c9ea0" stroke-width="1"/><path d="M60.9,45.4 L66.8,54.1" stroke="#9c9ea0" stroke-width="1"/><path d="M58.6,48.4 L64.0,57.4" stroke="#9c9ea0" stroke-width="1"/><path d="M56.1,51.3 L61.1,60.5" stroke="#9c9ea0" stroke-width="1"/><path d="M53.4,54.1 L58.0,63.5" stroke="#9c9ea0" stroke-width="1"/><path d="M50.6,56.7 L54.7,66.4" stroke="#9c9ea0" stroke-width="1"/><path d="M47.7,59.1 L51.3,69.0" stroke="#9c9ea0" stroke-width="1"/><path d="M44.7,61.5 L47.7,71.5" stroke="#9c9ea0" stroke-width="1"/><path d="M41.5,63.6 L44.1,73.8" stroke="#9c9ea0" stroke-width="1"/><path d="M38.3,65.6 L40.3,76.0" stroke="#9c9ea0" stroke-width="1"/><path d="M34.9,67.5 L36.5,77.9" stroke="#9c9ea0" stroke-width="1"/><path d="M31.5,69.2 L32.5,79.6" stroke="#9c9ea0" stroke-width="1"/><path d="M28.0,70.7 L28.5,81.2" stroke="#9c9ea0" stroke-width="1"/><path d="M24.4,72.0 L24.3,82.5" stroke="#9c9ea0" stroke-width="1"/><path d="M20.8,73.1 L20.2,83.6" stroke="#9c9ea0" stroke-width="1"/><path d="M17.1,74.1 L15.9,84.5" stroke="#9c9ea0" stroke-width="1"/><path d="M13.3,74.8 L11.7,85.2" stroke="#9c9ea0" stroke-width="1"/><path d="M9.5,75.4 L7.4,85.7" stroke="#9c9ea0" stroke-width="1"/><path d="M5.7,75.8 L3.0,85.9" stroke="#9c9ea0" stroke-width="1"/><path d="M1.9,76.0 L-1.3,86.0" stroke="#9c9ea0" stroke-width="1"/><path d="M-1.9,76.0 L-5.6,85.8" stroke="#9c9ea0" stroke-width="1"/><path d="M-5.7,75.8 L-9.9,85.4" stroke="#9c9ea0" stroke-width="1"/><path d="M-9.5,75.4 L-14.2,84.8" stroke="#9c9ea0" stroke-width="1"/><path d="M-13.3,74.8 L-18.4,84.0" stroke="#9c9ea0" stroke-width="1"/><path d="M-17.1,74.1 L-22.6,83.0" stroke="#9c9ea0" stroke-width="1"/><path d="M-20.8,73.1 L-26.8,81.7" stroke="#9c9ea0" stroke-width="1"/><path d="M-24.4,72.0 L-30.8,80.3" stroke="#9c9ea0" stroke-width="1"/><path d="M-28.0,70.7 L-34.8,78.6" stroke="#9c9ea0" stroke-width="1"/><path d="M-31.5,69.2 L-38.8,76.8" stroke="#9c9ea0" stroke-width="1"/><path d="M-34.9,67.5 L-42.6,74.7" stroke="#9c9ea0" stroke-width="1"/><path d="M-38.3,65.6 L-46.3,72.5" stroke="#9c9ea0" stroke-width="1"/><path d="M-41.5,63.6 L-49.9,70.1" stroke="#9c9ea0" stroke-width="1"/><path d="M-44.7,61.5 L-53.3,67.5" stroke="#9c9ea0" stroke-width="1"/><path d="M-47.7,59.1 L-56.6,64.7" stroke="#9c9ea0" stroke-width="1"/><path d="M-50.6,56.7 L-59.8,61.8" stroke="#9c9ea0" stroke-width="1"/><path d="M-53.4,54.1 L-62.8,58.7" stroke="#9c9ea0" stroke-width="1"/><path d="M-56.1,51.3 L-65.7,55.5" stroke="#9c9ea0" stroke-width="1"/><path d="M-58.6,48.4 L-68.4,52.1" stroke="#9c9ea0" stroke-width="1"/><path d="M-60.9,45.4 L-71.0,48.6" stroke="#9c9ea0" stroke-width="1"/><path d="M-63.1,42.3 L-73.3,45.0" stroke="#9c9ea0" stroke-width="1"/><path d="M-65.2,39.1 L-75.5,41.2" stroke="#9c9ea0" stroke-width="1"/><path d="M-67.1,35.7 L-77.5,37.4" stroke="#9c9ea0" stroke-width="1"/><path d="M-68.8,32.3 L-79.2,33.4" stroke="#9c9ea0" stroke-width="1"/><path d="M-70.3,28.8 L-80.8,29.4" stroke="#9c9ea0" stroke-width="1"/><path d="M-71.7,25.3 L-82.2,25.3" stroke="#9c9ea0" stroke-width="1"/><path d="M-72.9,21.6 L-83.4,21.1" stroke="#9c9ea0" stroke-width="1"/><path d="M-73.9,17.9 L-84.3,16.9" stroke="#9c9ea0" stroke-width="1"/><path d="M-74.7,14.2 L-85.1,12.7" stroke="#9c9ea0" stroke-width="1"/><path d="M-75.3,10.4 L-85.6,8.4" stroke="#9c9ea0" stroke-width="1"/><path d="M-75.7,6.6 L-85.9,4.1" stroke="#9c9ea0" stroke-width="1"/><g transform="translate(54.0,-64.3) scale(1.0)" fill="none" stroke="#6a6c6e" stroke-width="1.6"><rect x="-7" y="-7" width="14" height="14"/><rect x="-3" y="-3" width="6" height="6"/><path d="M-11,-4 L-7,-4 M-11,4 L-7,4 M7,-4 L11,-4 M7,4 L11,4 M-4,-11 L-4,-7 M4,-11 L4,-7 M-4,7 L-4,11 M4,7 L4,11"/></g><g transform="translate(-54.0,-64.3) scale(1.0)" fill="none" stroke="#6a6c6e" stroke-width="1.6"><rect x="-7" y="-7" width="14" height="14"/><rect x="-3" y="-3" width="6" height="6"/><path d="M-11,-4 L-7,-4 M-11,4 L-7,4 M7,-4 L11,-4 M7,4 L11,4 M-4,-11 L-4,-7 M4,-11 L4,-7 M-4,7 L-4,11 M4,7 L4,11"/></g><g transform="translate(74.2,39.4) scale(1.0)" fill="none" stroke="#6a6c6e" stroke-width="1.6"><rect x="-7" y="-7" width="14" height="14"/><rect x="-3" y="-3" width="6" height="6"/><path d="M-11,-4 L-7,-4 M-11,4 L-7,4 M7,-4 L11,-4 M7,4 L11,4 M-4,-11 L-4,-7 M4,-11 L4,-7 M-4,7 L-4,11 M4,7 L4,11"/></g><g transform="translate(-74.2,39.4) scale(1.0)" fill="none" stroke="#6a6c6e" stroke-width="1.6"><rect x="-7" y="-7" width="14" height="14"/><rect x="-3" y="-3" width="6" height="6"/><path d="M-11,-4 L-7,-4 M-11,4 L-7,4 M7,-4 L11,-4 M7,4 L11,4 M-4,-11 L-4,-7 M4,-11 L4,-7 M-4,7 L-4,11 M4,7 L4,11"/></g><path d="M-12,-86 L12,-86 L12,-62 Q12,-53 0,-49 Q-12,-53 -12,-62Z" fill="#dcdddf" stroke="#5e6062" stroke-width="1.8"/><path d="M-6,-80 L-6,-63 L0,-57 L6,-63 L6,-80 M0,-82 L0,-57" fill="none" stroke="#6e7072" stroke-width="1.6"/><text x="0" y="-39" transform="scale(0.88,1)" text-anchor="middle" font-family="Liberation Serif" font-weight="700" font-size="21" fill="#e2e3e5" stroke="#4e5052" stroke-width="1.1">УКРАЇНА</text><text font-family="Liberation Serif" font-weight="700" font-size="25" fill="#e2e3e5" stroke="#4e5052" stroke-width="1.2" text-anchor="middle" letter-spacing="7"><textPath href="#p10" startOffset="50%">ГРИВНІ</textPath></text><text x="2.2" y="39" transform="scale(1,1)" text-anchor="middle" font-family="Liberation Serif" font-weight="700" font-size="100" fill="#5e6062">2</text><text x="0" y="37" transform="scale(1,1)" text-anchor="middle" font-family="Liberation Serif" font-weight="700" font-size="100" fill="url(#gn9)" stroke="#58595b" stroke-width="1.6">2</text></svg>
<svg style="position:absolute;left:1115.8px;top:910.7px" width="174.0" height="174.0" viewBox="-100 -100 200 200"><defs><linearGradient id="g11" x1="0" y1="0" x2="0.15" y2="1"><stop offset="0" stop-color="#f2f2f3"/><stop offset="0.45" stop-color="#e2e3e4"/><stop offset="0.6" stop-color="#d2d3d5"/><stop offset="1" stop-color="#dcdddf"/></linearGradient><linearGradient id="gn12" x1="0" y1="0" x2="0.15" y2="1"><stop offset="0" stop-color="#f4f4f5"/><stop offset="1" stop-color="#c8c9cb"/></linearGradient><path id="p13" d="M-66,-1 A66,66 0 0 0 66,-1"/></defs><path d="M28.2,-95.9 L75.6,-65.5 L99.0,-14.2 L91.0,41.5 L54.1,84.1 L0.0,100.0 L-54.1,84.1 L-91.0,41.5 L-99.0,-14.2 L-75.6,-65.5 L-28.2,-95.9Z" fill="#d6d7d9" stroke="#d6d7d9" stroke-width="9" stroke-linejoin="round"/><path d="M26.8,-91.2 L71.8,-62.2 L94.0,-13.5 L86.4,39.5 L51.4,79.9 L0.0,95.0 L-51.4,79.9 L-86.4,39.5 L-94.0,-13.5 L-71.8,-62.2 L-26.8,-91.2Z" fill="url(#g11)" stroke="#505254" stroke-width="2.6" stroke-linejoin="round"/><path d="M57.2,-68.2 A89,89 0 1 1 -57.2,-68.2 L-46.9,-55.9 A73,73 0 1 0 46.9,-55.9Z" fill="#cdced0" stroke="#6c6e70" stroke-width="1.8"/><circle cx="60.2" cy="-54.2" r="1.7" fill="#8a8c8e"/><circle cx="67.2" cy="-45.3" r="1.7" fill="#8a8c8e"/><circle cx="72.8" cy="-35.5" r="1.7" fill="#8a8c8e"/><circle cx="77.0" cy="-25.0" r="1.7" fill="#8a8c8e"/><circle cx="79.8" cy="-14.1" r="1.7" fill="#8a8c8e"/><circle cx="81.0" cy="-2.8" r="1.7" fill="#8a8c8e"/><circle cx="80.6" cy="8.5" r="1.7" fill="#8a8c8e"/><circle cx="78.6" cy="19.6" r="1.7" fill="#8a8c8e"/><circle cx="75.1" cy="30.3" r="1.7" fill="#8a8c8e"/><circle cx="70.1" cy="40.5" r="1.7" fill="#8a8c8e"/><circle cx="63.8" cy="49.9" r="1.7" fill="#8a8c8e"/><circle cx="56.3" cy="58.3" r="1.7" fill="#8a8c8e"/><circle cx="47.6" cy="65.5" r="1.7" fill="#8a8c8e"/><circle cx="38.0" cy="71.5" r="1.7" fill="#8a8c8e"/><circle cx="27.7" cy="76.1" r="1.7" fill="#8a8c8e"/><circle cx="16.8" cy="79.2" r="1.7" fill="#8a8c8e"/><circle cx="5.7" cy="80.8" r="1.7" fill="#8a8c8e"/><circle cx="-5.7" cy="80.8" r="1.7" fill="#8a8c8e"/><circle cx="-16.8" cy="79.2" r="1.7" fill="#8a8c8e"/><circle cx="-27.7" cy="76.1" r="1.7" fill="#8a8c8e"/><circle cx="-38.0" cy="71.5" r="1.7" fill="#8a8c8e"/><circle cx="-47.6" cy="65.5" r="1.7" fill="#8a8c8e"/><circle cx="-56.3" cy="58.3" r="1.7" fill="#8a8c8e"/><circle cx="-63.8" cy="49.9" r="1.7" fill="#8a8c8e"/><circle cx="-70.1" cy="40.5" r="1.7" fill="#8a8c8e"/><circle cx="-75.1" cy="30.3" r="1.7" fill="#8a8c8e"/><circle cx="-78.6" cy="19.6" r="1.7" fill="#8a8c8e"/><circle cx="-80.6" cy="8.5" r="1.7" fill="#8a8c8e"/><circle cx="-81.0" cy="-2.8" r="1.7" fill="#8a8c8e"/><circle cx="-79.8" cy="-14.1" r="1.7" fill="#8a8c8e"/><circle cx="-77.0" cy="-25.0" r="1.7" fill="#8a8c8e"/><circle cx="-72.8" cy="-35.5" r="1.7" fill="#8a8c8e"/><circle cx="-67.2" cy="-45.3" r="1.7" fill="#8a8c8e"/><circle cx="-60.2" cy="-54.2" r="1.7" fill="#8a8c8e"/><path d="M75.7,6.6 L85.3,10.9" stroke="#9c9ea0" stroke-width="1"/><path d="M75.3,10.4 L84.6,15.2" stroke="#9c9ea0" stroke-width="1"/><path d="M74.7,14.2 L83.8,19.4" stroke="#9c9ea0" stroke-width="1"/><path d="M73.9,17.9 L82.7,23.6" stroke="#9c9ea0" stroke-width="1"/><path d="M72.9,21.6 L81.4,27.7" stroke="#9c9ea0" stroke-width="1"/><path d="M71.7,25.3 L79.9,31.8" stroke="#9c9ea0" stroke-width="1"/><path d="M70.3,28.8 L78.2,35.8" stroke="#9c9ea0" stroke-width="1"/><path d="M68.8,32.3 L76.3,39.7" stroke="#9c9ea0" stroke-width="1"/><path d="M67.1,35.7 L74.2,43.4" stroke="#9c9ea0" stroke-width="1"/><path d="M65.2,39.1 L71.9,47.1" stroke="#9c9ea0" stroke-width="1"/><path d="M63.1,42.3 L69.5,50.7" stroke="#9c9ea0" stroke-width="1"/><path d="M60.9,45.4 L66.8,54.1" stroke="#9c9ea0" stroke-width="1"/><path d="M58.6,48.4 L64.0,57.4" stroke="#9c9ea0" stroke-width="1"/><path d="M56.1,51.3 L61.1,60.5" stroke="#9c9ea0" stroke-width="1"/><path d="M53.4,54.1 L58.0,63.5" stroke="#9c9ea0" stroke-width="1"/><path d="M50.6,56.7 L54.7,66.4" stroke="#9c9ea0" stroke-width="1"/><path d="M47.7,59.1 L51.3,69.0" stroke="#9c9ea0" stroke-width="1"/><path d="M44.7,61.5 L47.7,71.5" stroke="#9c9ea0" stroke-width="1"/><path d="M41.5,63.6 L44.1,73.8" stroke="#9c9ea0" stroke-width="1"/><path d="M38.3,65.6 L40.3,76.0" stroke="#9c9ea0" stroke-width="1"/><path d="M34.9,67.5 L36.5,77.9" stroke="#9c9ea0" stroke-width="1"/><path d="M31.5,69.2 L32.5,79.6" stroke="#9c9ea0" stroke-width="1"/><path d="M28.0,70.7 L28.5,81.2" stroke="#9c9ea0" stroke-width="1"/><path d="M24.4,72.0 L24.3,82.5" stroke="#9c9ea0" stroke-width="1"/><path d="M20.8,73.1 L20.2,83.6" stroke="#9c9ea0" stroke-width="1"/><path d="M17.1,74.1 L15.9,84.5" stroke="#9c9ea0" stroke-width="1"/><path d="M13.3,74.8 L11.7,85.2" stroke="#9c9ea0" stroke-width="1"/><path d="M9.5,75.4 L7.4,85.7" stroke="#9c9ea0" stroke-width="1"/><path d="M5.7,75.8 L3.0,85.9" stroke="#9c9ea0" stroke-width="1"/><path d="M1.9,76.0 L-1.3,86.0" stroke="#9c9ea0" stroke-width="1"/><path d="M-1.9,76.0 L-5.6,85.8" stroke="#9c9ea0" stroke-width="1"/><path d="M-5.7,75.8 L-9.9,85.4" stroke="#9c9ea0" stroke-width="1"/><path d="M-9.5,75.4 L-14.2,84.8" stroke="#9c9ea0" stroke-width="1"/><path d="M-13.3,74.8 L-18.4,84.0" stroke="#9c9ea0" stroke-width="1"/><path d="M-17.1,74.1 L-22.6,83.0" stroke="#9c9ea0" stroke-width="1"/><path d="M-20.8,73.1 L-26.8,81.7" stroke="#9c9ea0" stroke-width="1"/><path d="M-24.4,72.0 L-30.8,80.3" stroke="#9c9ea0" stroke-width="1"/><path d="M-28.0,70.7 L-34.8,78.6" stroke="#9c9ea0" stroke-width="1"/><path d="M-31.5,69.2 L-38.8,76.8" stroke="#9c9ea0" stroke-width="1"/><path d="M-34.9,67.5 L-42.6,74.7" stroke="#9c9ea0" stroke-width="1"/><path d="M-38.3,65.6 L-46.3,72.5" stroke="#9c9ea0" stroke-width="1"/><path d="M-41.5,63.6 L-49.9,70.1" stroke="#9c9ea0" stroke-width="1"/><path d="M-44.7,61.5 L-53.3,67.5" stroke="#9c9ea0" stroke-width="1"/><path d="M-47.7,59.1 L-56.6,64.7" stroke="#9c9ea0" stroke-width="1"/><path d="M-50.6,56.7 L-59.8,61.8" stroke="#9c9ea0" stroke-width="1"/><path d="M-53.4,54.1 L-62.8,58.7" stroke="#9c9ea0" stroke-width="1"/><path d="M-56.1,51.3 L-65.7,55.5" stroke="#9c9ea0" stroke-width="1"/><path d="M-58.6,48.4 L-68.4,52.1" stroke="#9c9ea0" stroke-width="1"/><path d="M-60.9,45.4 L-71.0,48.6" stroke="#9c9ea0" stroke-width="1"/><path d="M-63.1,42.3 L-73.3,45.0" stroke="#9c9ea0" stroke-width="1"/><path d="M-65.2,39.1 L-75.5,41.2" stroke="#9c9ea0" stroke-width="1"/><path d="M-67.1,35.7 L-77.5,37.4" stroke="#9c9ea0" stroke-width="1"/><path d="M-68.8,32.3 L-79.2,33.4" stroke="#9c9ea0" stroke-width="1"/><path d="M-70.3,28.8 L-80.8,29.4" stroke="#9c9ea0" stroke-width="1"/><path d="M-71.7,25.3 L-82.2,25.3" stroke="#9c9ea0" stroke-width="1"/><path d="M-72.9,21.6 L-83.4,21.1" stroke="#9c9ea0" stroke-width="1"/><path d="M-73.9,17.9 L-84.3,16.9" stroke="#9c9ea0" stroke-width="1"/><path d="M-74.7,14.2 L-85.1,12.7" stroke="#9c9ea0" stroke-width="1"/><path d="M-75.3,10.4 L-85.6,8.4" stroke="#9c9ea0" stroke-width="1"/><path d="M-75.7,6.6 L-85.9,4.1" stroke="#9c9ea0" stroke-width="1"/><g transform="translate(54.0,-64.3) scale(1.0)" fill="none" stroke="#6a6c6e" stroke-width="1.6"><rect x="-7" y="-7" width="14" height="14"/><rect x="-3" y="-3" width="6" height="6"/><path d="M-11,-4 L-7,-4 M-11,4 L-7,4 M7,-4 L11,-4 M7,4 L11,4 M-4,-11 L-4,-7 M4,-11 L4,-7 M-4,7 L-4,11 M4,7 L4,11"/></g><g transform="translate(-54.0,-64.3) scale(1.0)" fill="none" stroke="#6a6c6e" stroke-width="1.6"><rect x="-7" y="-7" width="14" height="14"/><rect x="-3" y="-3" width="6" height="6"/><path d="M-11,-4 L-7,-4 M-11,4 L-7,4 M7,-4 L11,-4 M7,4 L11,4 M-4,-11 L-4,-7 M4,-11 L4,-7 M-4,7 L-4,11 M4,7 L4,11"/></g><g transform="translate(74.2,39.4) scale(1.0)" fill="none" stroke="#6a6c6e" stroke-width="1.6"><rect x="-7" y="-7" width="14" height="14"/><rect x="-3" y="-3" width="6" height="6"/><path d="M-11,-4 L-7,-4 M-11,4 L-7,4 M7,-4 L11,-4 M7,4 L11,4 M-4,-11 L-4,-7 M4,-11 L4,-7 M-4,7 L-4,11 M4,7 L4,11"/></g><g transform="translate(-74.2,39.4) scale(1.0)" fill="none" stroke="#6a6c6e" stroke-width="1.6"><rect x="-7" y="-7" width="14" height="14"/><rect x="-3" y="-3" width="6" height="6"/><path d="M-11,-4 L-7,-4 M-11,4 L-7,4 M7,-4 L11,-4 M7,4 L11,4 M-4,-11 L-4,-7 M4,-11 L4,-7 M-4,7 L-4,11 M4,7 L4,11"/></g><path d="M-12,-86 L12,-86 L12,-62 Q12,-53 0,-49 Q-12,-53 -12,-62Z" fill="#dcdddf" stroke="#5e6062" stroke-width="1.8"/><path d="M-6,-80 L-6,-63 L0,-57 L6,-63 L6,-80 M0,-82 L0,-57" fill="none" stroke="#6e7072" stroke-width="1.6"/><text x="0" y="-39" transform="scale(0.88,1)" text-anchor="middle" font-family="Liberation Serif" font-weight="700" font-size="21" fill="#e2e3e5" stroke="#4e5052" stroke-width="1.1">УКРАЇНА</text><text font-family="Liberation Serif" font-weight="700" font-size="25" fill="#e2e3e5" stroke="#4e5052" stroke-width="1.2" text-anchor="middle" letter-spacing="5.5"><textPath href="#p13" startOffset="50%">ГРИВЕНЬ</textPath></text><text x="2.2" y="39" transform="scale(1,1)" text-anchor="middle" font-family="Liberation Serif" font-weight="700" font-size="100" fill="#5e6062">5</text><text x="0" y="37" transform="scale(1,1)" text-anchor="middle" font-family="Liberation Serif" font-weight="700" font-size="100" fill="url(#gn12)" stroke="#58595b" stroke-width="1.6">5</text></svg>
<svg style="position:absolute;left:1353.5px;top:909.5px" width="177.0" height="177.0" viewBox="-100 -100 200 200"><defs><linearGradient id="g14" x1="0" y1="0" x2="0.15" y2="1"><stop offset="0" stop-color="#f2f2f3"/><stop offset="0.45" stop-color="#e2e3e4"/><stop offset="0.6" stop-color="#d2d3d5"/><stop offset="1" stop-color="#dcdddf"/></linearGradient><linearGradient id="gn15" x1="0" y1="0" x2="0.15" y2="1"><stop offset="0" stop-color="#f4f4f5"/><stop offset="1" stop-color="#c8c9cb"/></linearGradient><path id="p16" d="M-66,-1 A66,66 0 0 0 66,-1"/></defs><circle r="99.5" fill="#d2d3d5"/><circle r="93.5" fill="url(#g14)" stroke="#5c5e60" stroke-width="2.6"/><path d="M57.2,-68.2 A89,89 0 1 1 -57.2,-68.2 L-46.9,-55.9 A73,73 0 1 0 46.9,-55.9Z" fill="#cdced0" stroke="#6c6e70" stroke-width="1.8"/><circle cx="60.2" cy="-54.2" r="1.7" fill="#8a8c8e"/><circle cx="67.2" cy="-45.3" r="1.7" fill="#8a8c8e"/><circle cx="72.8" cy="-35.5" r="1.7" fill="#8a8c8e"/><circle cx="77.0" cy="-25.0" r="1.7" fill="#8a8c8e"/><circle cx="79.8" cy="-14.1" r="1.7" fill="#8a8c8e"/><circle cx="81.0" cy="-2.8" r="1.7" fill="#8a8c8e"/><circle cx="80.6" cy="8.5" r="1.7" fill="#8a8c8e"/><circle cx="78.6" cy="19.6" r="1.7" fill="#8a8c8e"/><circle cx="75.1" cy="30.3" r="1.7" fill="#8a8c8e"/><circle cx="70.1" cy="40.5" r="1.7" fill="#8a8c8e"/><circle cx="63.8" cy="49.9" r="1.7" fill="#8a8c8e"/><circle cx="56.3" cy="58.3" r="1.7" fill="#8a8c8e"/><circle cx="47.6" cy="65.5" r="1.7" fill="#8a8c8e"/><circle cx="38.0" cy="71.5" r="1.7" fill="#8a8c8e"/><circle cx="27.7" cy="76.1" r="1.7" fill="#8a8c8e"/><circle cx="16.8" cy="79.2" r="1.7" fill="#8a8c8e"/><circle cx="5.7" cy="80.8" r="1.7" fill="#8a8c8e"/><circle cx="-5.7" cy="80.8" r="1.7" fill="#8a8c8e"/><circle cx="-16.8" cy="79.2" r="1.7" fill="#8a8c8e"/><circle cx="-27.7" cy="76.1" r="1.7" fill="#8a8c8e"/><circle cx="-38.0" cy="71.5" r="1.7" fill="#8a8c8e"/><circle cx="-47.6" cy="65.5" r="1.7" fill="#8a8c8e"/><circle cx="-56.3" cy="58.3" r="1.7" fill="#8a8c8e"/><circle cx="-63.8" cy="49.9" r="1.7" fill="#8a8c8e"/><circle cx="-70.1" cy="40.5" r="1.7" fill="#8a8c8e"/><circle cx="-75.1" cy="30.3" r="1.7" fill="#8a8c8e"/><circle cx="-78.6" cy="19.6" r="1.7" fill="#8a8c8e"/><circle cx="-80.6" cy="8.5" r="1.7" fill="#8a8c8e"/><circle cx="-81.0" cy="-2.8" r="1.7" fill="#8a8c8e"/><circle cx="-79.8" cy="-14.1" r="1.7" fill="#8a8c8e"/><circle cx="-77.0" cy="-25.0" r="1.7" fill="#8a8c8e"/><circle cx="-72.8" cy="-35.5" r="1.7" fill="#8a8c8e"/><circle cx="-67.2" cy="-45.3" r="1.7" fill="#8a8c8e"/><circle cx="-60.2" cy="-54.2" r="1.7" fill="#8a8c8e"/><path d="M75.7,6.6 L85.3,10.9" stroke="#9c9ea0" stroke-width="1"/><path d="M75.3,10.4 L84.6,15.2" stroke="#9c9ea0" stroke-width="1"/><path d="M74.7,14.2 L83.8,19.4" stroke="#9c9ea0" stroke-width="1"/><path d="M73.9,17.9 L82.7,23.6" stroke="#9c9ea0" stroke-width="1"/><path d="M72.9,21.6 L81.4,27.7" stroke="#9c9ea0" stroke-width="1"/><path d="M71.7,25.3 L79.9,31.8" stroke="#9c9ea0" stroke-width="1"/><path d="M70.3,28.8 L78.2,35.8" stroke="#9c9ea0" stroke-width="1"/><path d="M68.8,32.3 L76.3,39.7" stroke="#9c9ea0" stroke-width="1"/><path d="M67.1,35.7 L74.2,43.4" stroke="#9c9ea0" stroke-width="1"/><path d="M65.2,39.1 L71.9,47.1" stroke="#9c9ea0" stroke-width="1"/><path d="M63.1,42.3 L69.5,50.7" stroke="#9c9ea0" stroke-width="1"/><path d="M60.9,45.4 L66.8,54.1" stroke="#9c9ea0" stroke-width="1"/><path d="M58.6,48.4 L64.0,57.4" stroke="#9c9ea0" stroke-width="1"/><path d="M56.1,51.3 L61.1,60.5" stroke="#9c9ea0" stroke-width="1"/><path d="M53.4,54.1 L58.0,63.5" stroke="#9c9ea0" stroke-width="1"/><path d="M50.6,56.7 L54.7,66.4" stroke="#9c9ea0" stroke-width="1"/><path d="M47.7,59.1 L51.3,69.0" stroke="#9c9ea0" stroke-width="1"/><path d="M44.7,61.5 L47.7,71.5" stroke="#9c9ea0" stroke-width="1"/><path d="M41.5,63.6 L44.1,73.8" stroke="#9c9ea0" stroke-width="1"/><path d="M38.3,65.6 L40.3,76.0" stroke="#9c9ea0" stroke-width="1"/><path d="M34.9,67.5 L36.5,77.9" stroke="#9c9ea0" stroke-width="1"/><path d="M31.5,69.2 L32.5,79.6" stroke="#9c9ea0" stroke-width="1"/><path d="M28.0,70.7 L28.5,81.2" stroke="#9c9ea0" stroke-width="1"/><path d="M24.4,72.0 L24.3,82.5" stroke="#9c9ea0" stroke-width="1"/><path d="M20.8,73.1 L20.2,83.6" stroke="#9c9ea0" stroke-width="1"/><path d="M17.1,74.1 L15.9,84.5" stroke="#9c9ea0" stroke-width="1"/><path d="M13.3,74.8 L11.7,85.2" stroke="#9c9ea0" stroke-width="1"/><path d="M9.5,75.4 L7.4,85.7" stroke="#9c9ea0" stroke-width="1"/><path d="M5.7,75.8 L3.0,85.9" stroke="#9c9ea0" stroke-width="1"/><path d="M1.9,76.0 L-1.3,86.0" stroke="#9c9ea0" stroke-width="1"/><path d="M-1.9,76.0 L-5.6,85.8" stroke="#9c9ea0" stroke-width="1"/><path d="M-5.7,75.8 L-9.9,85.4" stroke="#9c9ea0" stroke-width="1"/><path d="M-9.5,75.4 L-14.2,84.8" stroke="#9c9ea0" stroke-width="1"/><path d="M-13.3,74.8 L-18.4,84.0" stroke="#9c9ea0" stroke-width="1"/><path d="M-17.1,74.1 L-22.6,83.0" stroke="#9c9ea0" stroke-width="1"/><path d="M-20.8,73.1 L-26.8,81.7" stroke="#9c9ea0" stroke-width="1"/><path d="M-24.4,72.0 L-30.8,80.3" stroke="#9c9ea0" stroke-width="1"/><path d="M-28.0,70.7 L-34.8,78.6" stroke="#9c9ea0" stroke-width="1"/><path d="M-31.5,69.2 L-38.8,76.8" stroke="#9c9ea0" stroke-width="1"/><path d="M-34.9,67.5 L-42.6,74.7" stroke="#9c9ea0" stroke-width="1"/><path d="M-38.3,65.6 L-46.3,72.5" stroke="#9c9ea0" stroke-width="1"/><path d="M-41.5,63.6 L-49.9,70.1" stroke="#9c9ea0" stroke-width="1"/><path d="M-44.7,61.5 L-53.3,67.5" stroke="#9c9ea0" stroke-width="1"/><path d="M-47.7,59.1 L-56.6,64.7" stroke="#9c9ea0" stroke-width="1"/><path d="M-50.6,56.7 L-59.8,61.8" stroke="#9c9ea0" stroke-width="1"/><path d="M-53.4,54.1 L-62.8,58.7" stroke="#9c9ea0" stroke-width="1"/><path d="M-56.1,51.3 L-65.7,55.5" stroke="#9c9ea0" stroke-width="1"/><path d="M-58.6,48.4 L-68.4,52.1" stroke="#9c9ea0" stroke-width="1"/><path d="M-60.9,45.4 L-71.0,48.6" stroke="#9c9ea0" stroke-width="1"/><path d="M-63.1,42.3 L-73.3,45.0" stroke="#9c9ea0" stroke-width="1"/><path d="M-65.2,39.1 L-75.5,41.2" stroke="#9c9ea0" stroke-width="1"/><path d="M-67.1,35.7 L-77.5,37.4" stroke="#9c9ea0" stroke-width="1"/><path d="M-68.8,32.3 L-79.2,33.4" stroke="#9c9ea0" stroke-width="1"/><path d="M-70.3,28.8 L-80.8,29.4" stroke="#9c9ea0" stroke-width="1"/><path d="M-71.7,25.3 L-82.2,25.3" stroke="#9c9ea0" stroke-width="1"/><path d="M-72.9,21.6 L-83.4,21.1" stroke="#9c9ea0" stroke-width="1"/><path d="M-73.9,17.9 L-84.3,16.9" stroke="#9c9ea0" stroke-width="1"/><path d="M-74.7,14.2 L-85.1,12.7" stroke="#9c9ea0" stroke-width="1"/><path d="M-75.3,10.4 L-85.6,8.4" stroke="#9c9ea0" stroke-width="1"/><path d="M-75.7,6.6 L-85.9,4.1" stroke="#9c9ea0" stroke-width="1"/><g transform="translate(54.0,-64.3) scale(1.0)" fill="none" stroke="#6a6c6e" stroke-width="1.6"><rect x="-7" y="-7" width="14" height="14"/><rect x="-3" y="-3" width="6" height="6"/><path d="M-11,-4 L-7,-4 M-11,4 L-7,4 M7,-4 L11,-4 M7,4 L11,4 M-4,-11 L-4,-7 M4,-11 L4,-7 M-4,7 L-4,11 M4,7 L4,11"/></g><g transform="translate(-54.0,-64.3) scale(1.0)" fill="none" stroke="#6a6c6e" stroke-width="1.6"><rect x="-7" y="-7" width="14" height="14"/><rect x="-3" y="-3" width="6" height="6"/><path d="M-11,-4 L-7,-4 M-11,4 L-7,4 M7,-4 L11,-4 M7,4 L11,4 M-4,-11 L-4,-7 M4,-11 L4,-7 M-4,7 L-4,11 M4,7 L4,11"/></g><g transform="translate(74.2,39.4) scale(1.0)" fill="none" stroke="#6a6c6e" stroke-width="1.6"><rect x="-7" y="-7" width="14" height="14"/><rect x="-3" y="-3" width="6" height="6"/><path d="M-11,-4 L-7,-4 M-11,4 L-7,4 M7,-4 L11,-4 M7,4 L11,4 M-4,-11 L-4,-7 M4,-11 L4,-7 M-4,7 L-4,11 M4,7 L4,11"/></g><g transform="translate(-74.2,39.4) scale(1.0)" fill="none" stroke="#6a6c6e" stroke-width="1.6"><rect x="-7" y="-7" width="14" height="14"/><rect x="-3" y="-3" width="6" height="6"/><path d="M-11,-4 L-7,-4 M-11,4 L-7,4 M7,-4 L11,-4 M7,4 L11,4 M-4,-11 L-4,-7 M4,-11 L4,-7 M-4,7 L-4,11 M4,7 L4,11"/></g><path d="M-12,-86 L12,-86 L12,-62 Q12,-53 0,-49 Q-12,-53 -12,-62Z" fill="#dcdddf" stroke="#5e6062" stroke-width="1.8"/><path d="M-6,-80 L-6,-63 L0,-57 L6,-63 L6,-80 M0,-82 L0,-57" fill="none" stroke="#6e7072" stroke-width="1.6"/><text x="0" y="-39" transform="scale(0.88,1)" text-anchor="middle" font-family="Liberation Serif" font-weight="700" font-size="21" fill="#e2e3e5" stroke="#4e5052" stroke-width="1.1">УКРАЇНА</text><text font-family="Liberation Serif" font-weight="700" font-size="25" fill="#e2e3e5" stroke="#4e5052" stroke-width="1.2" text-anchor="middle" letter-spacing="5.5"><textPath href="#p16" startOffset="50%">ГРИВЕНЬ</textPath></text><text x="2.8" y="33" transform="scale(0.8,1)" text-anchor="middle" font-family="Liberation Serif" font-weight="700" font-size="96" fill="#5e6062">10</text><text x="0" y="31" transform="scale(0.8,1)" text-anchor="middle" font-family="Liberation Serif" font-weight="700" font-size="96" fill="url(#gn15)" stroke="#58595b" stroke-width="2.0">10</text></svg>
<div class="t" style="left:181.1px;top:1123.3px;font-size:54.9px;font-weight:700;color:#c4975a;font-family:'Liberation Sans',sans-serif;transform:scaleX(0.9900);">4 120,5</div>
<div class="t" style="left:202.2px;top:1182.7px;font-size:38.0px;font-weight:400;color:#4b4b4b;font-family:'Liberation Sans',sans-serif;transform:scaleX(1.0100);">млн шт.</div>
<div class="t" style="left:408.7px;top:1123.3px;font-size:54.9px;font-weight:700;color:#c4975a;font-family:'Liberation Sans',sans-serif;transform:scaleX(0.9900);">1 377,0</div>
<div class="t" style="left:430.7px;top:1182.7px;font-size:38.0px;font-weight:400;color:#4b4b4b;font-family:'Liberation Sans',sans-serif;transform:scaleX(1.0100);">млн шт.</div>
<div class="t" style="left:669.8px;top:1123.3px;font-size:54.9px;font-weight:700;color:#c4975a;font-family:'Liberation Sans',sans-serif;transform:scaleX(0.9900);">700,3</div>
<div class="t" style="left:668.7px;top:1182.7px;font-size:38.0px;font-weight:400;color:#4b4b4b;font-family:'Liberation Sans',sans-serif;transform:scaleX(1.0100);">млн шт.</div>
<div class="t" style="left:898.1px;top:1123.3px;font-size:54.9px;font-weight:700;color:#c4975a;font-family:'Liberation Sans',sans-serif;transform:scaleX(0.9900);">630,4</div>
<div class="t" style="left:897.7px;top:1182.7px;font-size:38.0px;font-weight:400;color:#4b4b4b;font-family:'Liberation Sans',sans-serif;transform:scaleX(1.0100);">млн шт.</div>
<div class="t" style="left:1135.4px;top:1123.3px;font-size:54.9px;font-weight:700;color:#c4975a;font-family:'Liberation Sans',sans-serif;transform:scaleX(0.9900);">362,2</div>
<div class="t" style="left:1133.7px;top:1182.7px;font-size:38.0px;font-weight:400;color:#4b4b4b;font-family:'Liberation Sans',sans-serif;transform:scaleX(1.0100);">млн шт.</div>
<div class="t" style="left:1374.2px;top:1123.3px;font-size:54.9px;font-weight:700;color:#c4975a;font-family:'Liberation Sans',sans-serif;transform:scaleX(0.9900);">346,8</div>
<div class="t" style="left:1372.7px;top:1182.7px;font-size:38.0px;font-weight:400;color:#4b4b4b;font-family:'Liberation Sans',sans-serif;transform:scaleX(1.0100);">млн шт.</div>
<div style="position:absolute;left:1794.1px;top:790.4px;width:65.0px;height:87.6px;background:#52738b;"></div>
<div style="position:absolute;left:2075.5px;top:825.7px;width:65.0px;height:52.3px;background:#52738b;"></div>
<div style="position:absolute;left:2357.0px;top:807.3px;width:65.0px;height:70.7px;background:#52738b;"></div>
<div style="position:absolute;left:2638.2px;top:701.0px;width:65.0px;height:177.0px;background:#52738b;"></div>
<div style="position:absolute;left:2919.5px;top:555.5px;width:65.0px;height:322.5px;background:#52738b;"></div>
<div style="position:absolute;left:3200.9px;top:717.2px;width:65.0px;height:160.8px;background:#52738b;"></div>
<div class="t" style="left:1764.6px;top:677.0px;font-size:65.4px;font-weight:700;color:#4b4b4b;transform:scaleX(0.9500);">7,9</div>
<div class="t" style="left:1851.0px;top:687.8px;font-size:52.7px;font-weight:400;color:#4b4b4b;transform:scaleX(0.7800);">%</div>
<div class="t" style="left:2046.5px;top:706.8px;font-size:65.4px;font-weight:700;color:#4b4b4b;transform:scaleX(0.9500);">4,6</div>
<div class="t" style="left:2132.9px;top:717.6px;font-size:52.7px;font-weight:400;color:#4b4b4b;transform:scaleX(0.7800);">%</div>
<div class="t" style="left:2328.1px;top:690.0px;font-size:65.4px;font-weight:700;color:#4b4b4b;transform:scaleX(0.9500);">6,2</div>
<div class="t" style="left:2414.5px;top:700.8px;font-size:52.7px;font-weight:400;color:#4b4b4b;transform:scaleX(0.7800);">%</div>
<div class="t" style="left:2592.1px;top:566.7px;font-size:65.4px;font-weight:700;color:#4b4b4b;transform:scaleX(0.9500);">12,2</div>
<div class="t" style="left:2713.1px;top:577.5px;font-size:52.7px;font-weight:400;color:#4b4b4b;transform:scaleX(0.7800);">%</div>
<div class="t" style="left:2873.0px;top:437.5px;font-size:65.4px;font-weight:700;color:#4b4b4b;transform:scaleX(0.9500);">26,0</div>
<div class="t" style="left:2993.9px;top:448.3px;font-size:52.7px;font-weight:400;color:#4b4b4b;transform:scaleX(0.7800);">%</div>
<div class="t" style="left:3155.2px;top:613.4px;font-size:65.4px;font-weight:700;color:#4b4b4b;transform:scaleX(0.9500);">18,2</div>
<div class="t" style="left:3276.1px;top:624.2px;font-size:52.7px;font-weight:400;color:#4b4b4b;transform:scaleX(0.7800);">%</div>
<svg style="position:absolute;left:1736px;top:936px" width="181" height="124" viewBox="70 70 2130 1460" preserveAspectRatio="none"><rect x="70" y="70" width="2130" height="1460" fill="#f8faf6" /><rect x="825" y="70" width="245" height="1460" fill="#a9d6ae" /><rect x="1070" y="70" width="230" height="1460" fill="#e8e0a2" /><polygon points="1300,70 1640,70 1520,1530 1300,1530" fill="#b9c3e6" /><polygon points="1640,70 1800,70 1780,1530 1640,1530" fill="#e6dea0" /><rect x="1800" y="70" width="400" height="1460" fill="#a9d6ae" /><polygon points="1450,130 2200,130 2200,1460 1380,1460" fill="#b6d8c8" /><polygon points="1450,600 1600,300 1800,240 2000,330 2200,250 2200,1460 1400,1460" fill="#c9e1e6" /><polygon points="1420,650 1650,520 1850,560 2000,430 2200,420 2200,1460 1400,1460" fill="#dfe7f4" /><polygon points="1400,700 1600,680 1830,570 2000,640 2200,660 2200,1460 1390,1460" fill="#b5c1e4" /><polygon points="1390,750 1600,730 1850,800 2050,820 2200,780 2200,1460 1380,1460" fill="#98c0c0" /><polygon points="1380,840 1500,850 1700,900 1900,940 2050,1040 2200,1020 2200,1460 1370,1460" fill="#c2dfa8" /><rect x="1630" y="1420" width="170" height="110" fill="#e6dea0" /><circle cx="1855" cy="425" r="115" fill="#b06a76"/><circle cx="1855" cy="425" r="18" fill="#f0f0f0"/><polygon points="760,170 1120,130 1300,180 1400,300 1430,450 1420,650 1380,800 1290,950 1430,1100 1370,1380 1630,1380 1630,1440 520,1440 560,1190 770,1110 740,1000 700,980 690,900 670,700 650,480 680,300" fill="#8a8e76" /><text x="226" y="1445" transform="scale(0.95,1)" text-anchor="middle" font-family="Liberation Sans" font-weight="700" font-size="400" fill="#52a060">2</text><text x="455" y="1445" transform="scale(0.95,1)" text-anchor="middle" font-family="Liberation Sans" font-weight="700" font-size="400" fill="#9a7a82">0</text><path d="M80,280 Q130,340 80,410" stroke="#5a64c0" stroke-width="30" fill="none"/></svg>
<svg style="position:absolute;left:2018px;top:936px" width="181" height="124" viewBox="70 70 2130 1460" preserveAspectRatio="none"><rect x="70" y="70" width="2120" height="1460" fill="#f0eef8" /><rect x="800" y="70" width="1390" height="1460" fill="#b4b4dc" /><polygon points="1160,200 1450,160 1460,300 1750,240 1750,600 1440,620" fill="#d9a5c8" /><rect x="1420" y="520" width="770" height="170" fill="#dccae6" /><polygon points="1700,170 2190,170 2190,680 1750,680" fill="#dccae6" /><polygon points="1750,300 1990,250 2190,260 2190,680 1760,600" fill="#c9e0da" /><polygon points="1380,680 2190,680 2190,1150 2120,1300 1600,1300 1380,1100" fill="#92d0d8" /><rect x="1700" y="1300" width="220" height="140" fill="#ae9cbc" /><rect x="1920" y="1300" width="270" height="140" fill="#dccae6" /><polygon points="1680,300 1990,310 1960,470 1680,490" fill="#9a7468" /><polygon points="1870,390 2070,390 2030,520 1870,510" fill="#8c5a24" /><polygon points="850,190 1100,160 1300,210 1420,360 1440,550 1420,720 1370,870 1470,1010 1640,1120 1530,1440 510,1440 500,1160 620,1100 580,1020 640,940 740,850 740,650 700,450 720,320" fill="#907c78" /><text x="200" y="1445" transform="scale(0.95,1)" text-anchor="middle" font-family="Liberation Sans" font-weight="700" font-size="378" fill="#c05262">5</text><text x="447" y="1445" transform="scale(0.95,1)" text-anchor="middle" font-family="Liberation Sans" font-weight="700" font-size="378" fill="#5a62aa">0</text></svg>
<svg style="position:absolute;left:2299px;top:936px" width="181" height="124" viewBox="70 70 2130 1460" preserveAspectRatio="none"><rect x="70" y="70" width="2130" height="1460" fill="#fdf7e6" /><rect x="940" y="70" width="350" height="1460" fill="#f8ead4" /><rect x="1290" y="70" width="810" height="1460" fill="#e8eef8" /><rect x="2100" y="70" width="100" height="1460" fill="#f8ead4" /><rect x="1430" y="380" width="670" height="920" fill="#f0c4b4" /><rect x="1290" y="340" width="810" height="30" fill="#ffffff" /><polygon points="2000,1530 2200,1380 2200,1530" fill="#f0d8a0" /><ellipse cx="1780" cy="830" rx="200" ry="150" fill="#9a7e52"/><circle cx="1840" cy="880" r="25" fill="#f0c4b4"/><rect x="1610" y="500" width="90" height="540" fill="#7e5a2e" /><polygon points="830,200 1000,150 1180,170 1330,260 1440,400 1480,560 1470,700 1400,830 1340,950 1400,1080 1500,1120 1430,1370 1660,1370 1660,1420 640,1420 780,1300 860,1200 950,1200 950,1130 850,1100 790,950 760,800 700,780 660,600 700,480 760,380 790,260" fill="#968566" /><text x="165" y="1435" transform="scale(0.92,1)" text-anchor="middle" font-family="Liberation Sans" font-weight="700" font-size="392" fill="#d46a6e">1</text><text x="345" y="1435" transform="scale(0.92,1)" text-anchor="middle" font-family="Liberation Sans" font-weight="700" font-size="392" fill="#d46a6e">0</text><text x="595" y="1435" transform="scale(0.92,1)" text-anchor="middle" font-family="Liberation Sans" font-weight="700" font-size="392" fill="#d46a6e">0</text><text x="40" y="330" font-family="Liberation Sans" font-weight="700" font-size="160" fill="#fac070" >00</text></svg>
<svg style="position:absolute;left:2580px;top:936px" width="181" height="124" viewBox="70 70 2130 1460" preserveAspectRatio="none"><rect x="70" y="70" width="2130" height="1460" fill="#f2e6ea" /><rect x="1000" y="70" width="840" height="1460" fill="#f4c4d4" /><rect x="1840" y="70" width="360" height="1460" fill="#e8c8a4" /><polygon points="1550,300 1700,250 1960,480 2040,650 1900,720 1700,560 1600,520" fill="#a6cdd9" /><polygon points="1620,420 1800,500 1980,640 1960,660 1780,560 1610,480" fill="#c7b09e" /><polygon points="1960,260 2200,230 2200,760 1950,760 1920,500" fill="#ecdcc8" /><polygon points="2100,800 2200,780 2200,1530 1880,1530 2120,1200" fill="#a9d2da" /><path d="M1630,940 Q1700,740 1850,800 Q2000,760 2110,950 Q2050,1080 1850,1110 Q1700,1090 1630,990Z" fill="#86605e"/><polygon points="850,330 960,200 1150,150 1380,170 1550,290 1620,420 1610,560 1570,760 1420,920 1390,1080 1460,1200 1750,1380 1750,1440 810,1440 850,1130 960,1110 980,1000 950,880 850,780 820,600 850,400" fill="#8284a8" /><text x="321" y="1445" transform="scale(0.95,1)" text-anchor="middle" font-family="Liberation Sans" font-weight="700" font-size="378" fill="#4a62b8">2</text><text x="528" y="1445" transform="scale(0.95,1)" text-anchor="middle" font-family="Liberation Sans" font-weight="700" font-size="378" fill="#e05a88">0</text><text x="753" y="1445" transform="scale(0.95,1)" text-anchor="middle" font-family="Liberation Sans" font-weight="700" font-size="378" fill="#4a62b8">0</text><text x="95" y="345" font-family="Liberation Sans" font-weight="700" font-size="189" fill="#3a9ab8" >200</text><rect x="80" y="1000" width="20" height="110" fill="#a06030" /><rect x="160" y="1000" width="25" height="110" fill="#a06030" /><circle cx="125" cy="800" r="55" fill="#d04060" opacity="0.7"/></svg>
<svg style="position:absolute;left:2862px;top:936px" width="181" height="124" viewBox="70 70 2130 1460" preserveAspectRatio="none"><rect x="70" y="70" width="2120" height="1460" fill="#e3f1fb" /><rect x="960" y="70" width="240" height="1460" fill="#f2d4bc" /><rect x="1200" y="70" width="250" height="1460" fill="#e6f0e0" /><rect x="1450" y="70" width="270" height="1460" fill="#cce0f2" /><rect x="1720" y="1120" width="470" height="410" fill="#e8f2e8" /><circle cx="1700" cy="260" r="220" fill="#cfe0f4"/><rect x="1880" y="70" width="310" height="70" fill="#f8ecd8" /><polygon points="1550,800 2190,760 2190,1120 1550,1120" fill="#c8d8ea" /><polygon points="1750,560 1810,350 1960,360 1900,600" fill="#5cb860" /><polygon points="1900,600 1960,360 2160,320 2080,590" fill="#58a858" /><rect x="1740" y="600" width="320" height="50" fill="#2e8a58" /><polygon points="830,380 930,230 1250,165 1450,240 1590,380 1600,600 1580,800 1460,900 1440,1020 1500,1200 1730,1280 1710,1350 1880,1350 1880,1390 740,1390 820,1260 900,1150 920,1100 830,1000 800,860 790,620 830,600" fill="#8e96b2" /><text x="274" y="1400" transform="scale(0.95,1)" text-anchor="middle" font-family="Liberation Sans" font-weight="700" font-size="349" fill="#3a5cae">5</text><text x="481" y="1400" transform="scale(0.95,1)" text-anchor="middle" font-family="Liberation Sans" font-weight="700" font-size="349" fill="#434c62">0</text><text x="684" y="1400" transform="scale(0.95,1)" text-anchor="middle" font-family="Liberation Sans" font-weight="700" font-size="349" fill="#3a5cae">0</text><text x="20" y="390" font-family="Liberation Sans" font-weight="700" font-size="196" fill="#5a62b8" >500</text><circle cx="92" cy="985" r="20" fill="#1e7a4a"/><circle cx="92" cy="1055" r="20" fill="#1e7a4a"/></svg>
<svg style="position:absolute;left:3143px;top:936px" width="181" height="124" viewBox="70 70 2130 1460" preserveAspectRatio="none"><rect x="70" y="70" width="2130" height="1460" fill="#e2f2fb" /><rect x="975" y="70" width="1225" height="1460" fill="#e2e2c6" /><rect x="1825" y="70" width="375" height="270" fill="#a4d6ea" /><circle cx="1910" cy="900" r="560" fill="#f2d8a0"/><circle cx="1910" cy="880" r="330" fill="#cfe0d8"/><polygon points="2100,1300 2200,1200 2200,1530 2080,1530" fill="#7ec8e6" /><circle cx="2030" cy="505" r="150" fill="#7a7a48"/><circle cx="2030" cy="505" r="50" fill="#e6e2c8"/><polygon points="920,300 1000,240 1200,150 1400,200 1570,330 1610,480 1620,700 1600,900 1550,960 1570,1130 1650,1220 1880,1300 1840,1470 880,1470 920,1320 900,1180 950,1060 950,900 920,750 890,500" fill="#927474" /><text x="207" y="1440" transform="scale(0.95,1)" text-anchor="middle" font-family="Liberation Sans" font-weight="700" font-size="334" fill="#8e5a5e">1</text><text x="376" y="1440" transform="scale(0.95,1)" text-anchor="middle" font-family="Liberation Sans" font-weight="700" font-size="334" fill="#8a4a88">0</text><text x="592" y="1440" transform="scale(0.95,1)" text-anchor="middle" font-family="Liberation Sans" font-weight="700" font-size="334" fill="#8a4a88">0</text><text x="805" y="1440" transform="scale(0.95,1)" text-anchor="middle" font-family="Liberation Sans" font-weight="700" font-size="334" fill="#8e5a5e">0</text><text x="0" y="325" font-family="Liberation Sans" font-weight="700" font-size="160" fill="#2e9ab8" >1000</text><circle cx="120" cy="790" r="70" fill="#b898d0" opacity="0.8"/></svg>
<div class="t" style="left:1758.6px;top:1123.6px;font-size:54.9px;font-weight:700;color:#53768f;font-family:'Liberation Sans',sans-serif;transform:scaleX(0.9900);">210,3</div>
<div class="t" style="left:1757.3px;top:1182.7px;font-size:38.0px;font-weight:400;color:#4b4b4b;font-family:'Liberation Sans',sans-serif;transform:scaleX(1.0100);">млн шт.</div>
<div class="t" style="left:2039.3px;top:1123.6px;font-size:54.9px;font-weight:700;color:#53768f;font-family:'Liberation Sans',sans-serif;transform:scaleX(0.9900);">122,0</div>
<div class="t" style="left:2038.7px;top:1182.7px;font-size:38.0px;font-weight:400;color:#4b4b4b;font-family:'Liberation Sans',sans-serif;transform:scaleX(1.0100);">млн шт.</div>
<div class="t" style="left:2320.7px;top:1123.6px;font-size:54.9px;font-weight:700;color:#53768f;font-family:'Liberation Sans',sans-serif;transform:scaleX(0.9900);">163,3</div>
<div class="t" style="left:2320.2px;top:1182.7px;font-size:38.0px;font-weight:400;color:#4b4b4b;font-family:'Liberation Sans',sans-serif;transform:scaleX(1.0100);">млн шт.</div>
<div class="t" style="left:2602.8px;top:1123.6px;font-size:54.9px;font-weight:700;color:#53768f;font-family:'Liberation Sans',sans-serif;transform:scaleX(0.9900);">321,5</div>
<div class="t" style="left:2601.4px;top:1182.7px;font-size:38.0px;font-weight:400;color:#4b4b4b;font-family:'Liberation Sans',sans-serif;transform:scaleX(1.0100);">млн шт.</div>
<div class="t" style="left:2884.1px;top:1123.6px;font-size:54.9px;font-weight:700;color:#53768f;font-family:'Liberation Sans',sans-serif;transform:scaleX(0.9900);">686,0</div>
<div class="t" style="left:2882.7px;top:1182.7px;font-size:38.0px;font-weight:400;color:#4b4b4b;font-family:'Liberation Sans',sans-serif;transform:scaleX(1.0100);">млн шт.</div>
<div class="t" style="left:3165.7px;top:1123.6px;font-size:54.9px;font-weight:700;color:#53768f;font-family:'Liberation Sans',sans-serif;transform:scaleX(0.9900);">481,1</div>
<div class="t" style="left:3164.1px;top:1182.7px;font-size:38.0px;font-weight:400;color:#4b4b4b;font-family:'Liberation Sans',sans-serif;transform:scaleX(1.0100);">млн шт.</div>
<div style="position:absolute;left:208.0px;top:1312.0px;width:465.0px;height:4.5px;background:#c4975a;"></div>
<div style="position:absolute;left:1060.5px;top:1312.0px;width:464.5px;height:4.5px;background:#c4975a;"></div>
<div class="t" style="left:705.7px;top:1271.0px;font-size:76.7px;font-weight:700;color:#c4975a;font-family:'Liberation Sans',sans-serif;transform:scaleX(0.9708);">МОНЕТИ</div>
<div class="t" style="left:726.7px;top:1351.2px;font-size:55.1px;font-weight:700;color:#c4975a;transform:scaleX(0.9986);">15,2</div>
<div class="t" style="left:845.9px;top:1366.0px;font-size:37.6px;font-weight:400;color:#4b4b4b;transform:scaleX(1.0188);">млрд шт.</div>
<div style="position:absolute;left:1740.0px;top:1310.0px;width:549.0px;height:4.5px;background:#52738b;"></div>
<div style="position:absolute;left:2771.0px;top:1310.0px;width:549.0px;height:4.5px;background:#52738b;"></div>
<div class="t" style="left:2320.7px;top:1271.0px;font-size:76.7px;font-weight:700;color:#53768f;font-family:'Liberation Sans',sans-serif;transform:scaleX(0.9735);">БАНКНОТИ</div>
<div class="t" style="left:2403.8px;top:1351.2px;font-size:55.1px;font-weight:700;color:#53768f;transform:scaleX(1.0106);">2,6</div>
<div class="t" style="left:2493.4px;top:1366.0px;font-size:37.6px;font-weight:400;color:#4b4b4b;transform:scaleX(1.0310);">млрд шт.</div>
<div class="t" style="left:476.0px;top:1442.8px;font-size:30.5px;font-weight:400;color:#a63a7c;font-family:'Liberation Sans',sans-serif;transform:scaleX(0.9807);">Перестали бути засобом платежу</div>
<div class="t" style="left:1260.7px;top:1430.5px;font-size:30.1px;font-weight:400;color:#a63a7c;font-family:'Liberation Sans',sans-serif;transform:scaleX(1.0127);">Поступово</div>
<div class="t" style="left:1205.1px;top:1463.9px;font-size:32.2px;font-weight:400;color:#a63a7c;font-family:'Liberation Sans',sans-serif;transform:scaleX(0.9446);">виводяться з обігу</div>
<div style="position:absolute;left:359.0px;top:1500.0px;width:713.0px;height:3px;background:repeating-linear-gradient(90deg,#d272ab 0 16px,transparent 16px 33px);"></div>
<div style="position:absolute;left:354.0px;top:1515.0px;width:3px;height:51.0px;background:repeating-linear-gradient(180deg,#d272ab 0 16px,transparent 16px 33px);"></div>
<div style="position:absolute;left:1067.0px;top:1515.0px;width:3px;height:51.0px;background:repeating-linear-gradient(180deg,#d272ab 0 16px,transparent 16px 33px);"></div>
<div style="position:absolute;left:1333.9px;top:1515.5px;width:3px;height:50.5px;background:repeating-linear-gradient(180deg,#d272ab 0 16px,transparent 16px 33px);"></div>
<div class="t" style="left:263.7px;top:1599.8px;font-size:54.9px;font-weight:700;color:#c4975a;font-family:'Liberation Sans',sans-serif;transform:scaleX(0.9900);">2 428,5</div>
<div class="t" style="left:285.3px;top:1658.6px;font-size:38.0px;font-weight:400;color:#4b4b4b;font-family:'Liberation Sans',sans-serif;transform:scaleX(1.0100);">млн шт.</div>
<div class="t" style="left:475.5px;top:1599.8px;font-size:54.9px;font-weight:700;color:#c4975a;font-family:'Liberation Sans',sans-serif;transform:scaleX(0.9900);">1 391,6</div>
<div class="t" style="left:497.7px;top:1658.6px;font-size:38.0px;font-weight:400;color:#4b4b4b;font-family:'Liberation Sans',sans-serif;transform:scaleX(1.0100);">млн шт.</div>
<div class="t" style="left:719.3px;top:1599.8px;font-size:54.9px;font-weight:700;color:#c4975a;font-family:'Liberation Sans',sans-serif;transform:scaleX(0.9900);">1 828,3</div>
<div class="t" style="left:741.5px;top:1658.6px;font-size:38.0px;font-weight:400;color:#4b4b4b;font-family:'Liberation Sans',sans-serif;transform:scaleX(1.0100);">млн шт.</div>
<div class="t" style="left:976.9px;top:1599.8px;font-size:54.9px;font-weight:700;color:#c4975a;font-family:'Liberation Sans',sans-serif;transform:scaleX(0.9900);">1 551,8</div>
<div class="t" style="left:999.2px;top:1658.6px;font-size:38.0px;font-weight:400;color:#4b4b4b;font-family:'Liberation Sans',sans-serif;transform:scaleX(1.0100);">млн шт.</div>
<div class="t" style="left:1267.5px;top:1599.8px;font-size:54.9px;font-weight:700;color:#c4975a;font-family:'Liberation Sans',sans-serif;transform:scaleX(0.9900);">414,9</div>
<div class="t" style="left:1265.7px;top:1658.6px;font-size:38.0px;font-weight:400;color:#4b4b4b;font-family:'Liberation Sans',sans-serif;transform:scaleX(1.0100);">млн шт.</div>
<svg style="position:absolute;left:288.0px;top:1759.7px" width="134.0" height="134.0" viewBox="-100 -100 200 200"><defs><linearGradient id="g17" x1="0" y1="0" x2="0.15" y2="1"><stop offset="0" stop-color="#e2e2e4"/><stop offset="0.5" stop-color="#d8d8da"/><stop offset="0.66" stop-color="#c8c8ca"/><stop offset="1" stop-color="#b8b8ba"/></linearGradient><linearGradient id="gn18" x1="0" y1="0" x2="0.15" y2="1"><stop offset="0" stop-color="#e6e6e8"/><stop offset="1" stop-color="#c4c4c6"/></linearGradient></defs><circle r="99.5" fill="#d8d8da"/><circle r="97.5" fill="url(#g17)" stroke="#6a6c6e" stroke-width="2.2"/><circle r="92" fill="none" stroke="#7c7e80" stroke-width="1" opacity="0.5"/><path d="M0.0,-87.0 L4.5,-86.3 L8.9,-84.2 L12.9,-81.2 L16.5,-77.5 L19.8,-73.9 L23.0,-70.7 L26.2,-68.3 L29.8,-66.8 L33.7,-66.2 L38.2,-66.3 L43.2,-66.5 L48.3,-66.5 L53.3,-65.8 L57.8,-64.2 L61.5,-61.5 L64.2,-57.8 L65.8,-53.3 L66.5,-48.3 L66.5,-43.2 L66.3,-38.3 L66.2,-33.7 L66.8,-29.8 L68.3,-26.2 L70.7,-23.0 L73.9,-19.8 L77.5,-16.5 L81.2,-12.9 L84.2,-8.9 L86.3,-4.5 L87.0,-0.0 L86.3,4.5 L84.2,8.9 L81.2,12.9 L77.5,16.5 L73.9,19.8 L70.7,23.0 L68.3,26.2 L66.8,29.8 L66.2,33.7 L66.3,38.2 L66.5,43.2 L66.5,48.3 L65.8,53.3 L64.2,57.8 L61.5,61.5 L57.8,64.2 L53.3,65.8 L48.3,66.5 L43.2,66.5 L38.2,66.3 L33.7,66.2 L29.8,66.8 L26.2,68.3 L23.0,70.7 L19.8,73.9 L16.5,77.5 L12.9,81.2 L8.9,84.2 L4.5,86.3 L0.0,87.0 L-4.5,86.3 L-8.9,84.2 L-12.9,81.2 L-16.5,77.5 L-19.8,73.9 L-23.0,70.7 L-26.2,68.3 L-29.8,66.8 L-33.7,66.2 L-38.3,66.3 L-43.2,66.5 L-48.3,66.5 L-53.3,65.8 L-57.8,64.2 L-61.5,61.5 L-64.2,57.8 L-65.8,53.3 L-66.5,48.3 L-66.5,43.2 L-66.3,38.3 L-66.2,33.7 L-66.8,29.8 L-68.3,26.2 L-70.7,23.0 L-73.9,19.8 L-77.5,16.5 L-81.2,12.9 L-84.2,8.9 L-86.3,4.5 L-87.0,0.0 L-86.3,-4.5 L-84.2,-8.9 L-81.2,-12.9 L-77.5,-16.5 L-73.9,-19.8 L-70.7,-23.0 L-68.3,-26.2 L-66.8,-29.8 L-66.2,-33.7 L-66.3,-38.3 L-66.5,-43.2 L-66.5,-48.3 L-65.8,-53.3 L-64.2,-57.8 L-61.5,-61.5 L-57.8,-64.2 L-53.3,-65.8 L-48.3,-66.5 L-43.2,-66.5 L-38.3,-66.3 L-33.7,-66.2 L-29.8,-66.8 L-26.2,-68.3 L-23.0,-70.7 L-19.8,-73.9 L-16.5,-77.5 L-12.9,-81.2 L-8.9,-84.2 L-4.5,-86.3 L-0.0,-87.0Z" fill="none" stroke="#7c7e80" stroke-width="3.2" opacity="0.9"/><path d="M0.0,-85.8 L4.5,-85.1 L8.7,-83.0 L12.7,-80.0 L16.2,-76.4 L19.5,-72.7 L22.6,-69.6 L25.8,-67.2 L29.3,-65.7 L33.2,-65.2 L37.6,-65.2 L42.5,-65.5 L47.6,-65.5 L52.5,-64.9 L57.0,-63.3 L60.7,-60.7 L63.3,-57.0 L64.9,-52.5 L65.5,-47.6 L65.5,-42.5 L65.2,-37.7 L65.2,-33.2 L65.7,-29.3 L67.2,-25.8 L69.6,-22.6 L72.7,-19.5 L76.4,-16.2 L80.0,-12.7 L83.0,-8.7 L85.1,-4.5 L85.8,-0.0 L85.1,4.5 L83.0,8.7 L80.0,12.7 L76.4,16.2 L72.7,19.5 L69.6,22.6 L67.2,25.8 L65.7,29.3 L65.2,33.2 L65.2,37.6 L65.5,42.5 L65.5,47.6 L64.9,52.5 L63.3,57.0 L60.7,60.7 L57.0,63.3 L52.5,64.9 L47.6,65.5 L42.5,65.5 L37.6,65.2 L33.2,65.2 L29.3,65.7 L25.8,67.2 L22.6,69.6 L19.5,72.7 L16.2,76.4 L12.7,80.0 L8.7,83.0 L4.5,85.1 L0.0,85.8 L-4.5,85.1 L-8.7,83.0 L-12.7,80.0 L-16.2,76.4 L-19.5,72.7 L-22.6,69.6 L-25.8,67.2 L-29.3,65.7 L-33.2,65.2 L-37.7,65.2 L-42.5,65.5 L-47.6,65.5 L-52.5,64.9 L-57.0,63.3 L-60.7,60.7 L-63.3,57.0 L-64.9,52.5 L-65.5,47.6 L-65.5,42.5 L-65.2,37.7 L-65.2,33.2 L-65.7,29.3 L-67.2,25.8 L-69.6,22.6 L-72.7,19.5 L-76.4,16.2 L-80.0,12.7 L-83.0,8.7 L-85.1,4.5 L-85.8,0.0 L-85.1,-4.5 L-83.0,-8.7 L-80.0,-12.7 L-76.4,-16.2 L-72.7,-19.5 L-69.6,-22.6 L-67.2,-25.8 L-65.7,-29.3 L-65.2,-33.2 L-65.2,-37.7 L-65.5,-42.5 L-65.5,-47.6 L-64.9,-52.5 L-63.3,-57.0 L-60.7,-60.7 L-57.0,-63.3 L-52.5,-64.9 L-47.6,-65.5 L-42.5,-65.5 L-37.7,-65.2 L-33.2,-65.2 L-29.3,-65.7 L-25.8,-67.2 L-22.6,-69.6 L-19.5,-72.7 L-16.2,-76.4 L-12.7,-80.0 L-8.7,-83.0 L-4.5,-85.1 L-0.0,-85.8Z" fill="none" stroke="#f4f4f4" stroke-width="1.2" opacity="0.8"/><path d="M-9,0 Q0,-5 9,0 Q0,4 -9,0Z" transform="translate(15.6,-78.5) rotate(-9)" fill="#f4f4f4" stroke="#7c7e80" stroke-width="1.2" opacity="0.9"/><path d="M-9,0 Q0,-5 9,0 Q0,4 -9,0Z" transform="translate(44.4,-66.5) rotate(54)" fill="#f4f4f4" stroke="#7c7e80" stroke-width="1.2" opacity="0.9"/><path d="M-9,0 Q0,-5 9,0 Q0,4 -9,0Z" transform="translate(66.5,-44.4) rotate(36)" fill="#f4f4f4" stroke="#7c7e80" stroke-width="1.2" opacity="0.9"/><path d="M-9,0 Q0,-5 9,0 Q0,4 -9,0Z" transform="translate(78.5,-15.6) rotate(99)" fill="#f4f4f4" stroke="#7c7e80" stroke-width="1.2" opacity="0.9"/><path d="M-9,0 Q0,-5 9,0 Q0,4 -9,0Z" transform="translate(78.5,15.6) rotate(81)" fill="#f4f4f4" stroke="#7c7e80" stroke-width="1.2" opacity="0.9"/><path d="M-9,0 Q0,-5 9,0 Q0,4 -9,0Z" transform="translate(66.5,44.4) rotate(144)" fill="#f4f4f4" stroke="#7c7e80" stroke-width="1.2" opacity="0.9"/><path d="M-9,0 Q0,-5 9,0 Q0,4 -9,0Z" transform="translate(44.4,66.5) rotate(126)" fill="#f4f4f4" stroke="#7c7e80" stroke-width="1.2" opacity="0.9"/><path d="M-9,0 Q0,-5 9,0 Q0,4 -9,0Z" transform="translate(15.6,78.5) rotate(189)" fill="#f4f4f4" stroke="#7c7e80" stroke-width="1.2" opacity="0.9"/><path d="M-9,0 Q0,-5 9,0 Q0,4 -9,0Z" transform="translate(-15.6,78.5) rotate(171)" fill="#f4f4f4" stroke="#7c7e80" stroke-width="1.2" opacity="0.9"/><path d="M-9,0 Q0,-5 9,0 Q0,4 -9,0Z" transform="translate(-44.4,66.5) rotate(234)" fill="#f4f4f4" stroke="#7c7e80" stroke-width="1.2" opacity="0.9"/><path d="M-9,0 Q0,-5 9,0 Q0,4 -9,0Z" transform="translate(-66.5,44.4) rotate(216)" fill="#f4f4f4" stroke="#7c7e80" stroke-width="1.2" opacity="0.9"/><path d="M-9,0 Q0,-5 9,0 Q0,4 -9,0Z" transform="translate(-78.5,15.6) rotate(279)" fill="#f4f4f4" stroke="#7c7e80" stroke-width="1.2" opacity="0.9"/><path d="M-9,0 Q0,-5 9,0 Q0,4 -9,0Z" transform="translate(-78.5,-15.6) rotate(261)" fill="#f4f4f4" stroke="#7c7e80" stroke-width="1.2" opacity="0.9"/><path d="M-9,0 Q0,-5 9,0 Q0,4 -9,0Z" transform="translate(-66.5,-44.4) rotate(324)" fill="#f4f4f4" stroke="#7c7e80" stroke-width="1.2" opacity="0.9"/><path d="M-9,0 Q0,-5 9,0 Q0,4 -9,0Z" transform="translate(-44.4,-66.5) rotate(306)" fill="#f4f4f4" stroke="#7c7e80" stroke-width="1.2" opacity="0.9"/><path d="M-9,0 Q0,-5 9,0 Q0,4 -9,0Z" transform="translate(-15.6,-78.5) rotate(369)" fill="#f4f4f4" stroke="#7c7e80" stroke-width="1.2" opacity="0.9"/><circle cx="-4.0" cy="-69.0" r="1.7" fill="#7c7e80" opacity="0.75"/><circle cx="0.0" cy="-71.0" r="1.7" fill="#7c7e80" opacity="0.75"/><circle cx="4.0" cy="-69.0" r="1.7" fill="#7c7e80" opacity="0.75"/><circle cx="-2.0" cy="-65.0" r="1.7" fill="#7c7e80" opacity="0.75"/><circle cx="2.0" cy="-65.0" r="1.7" fill="#7c7e80" opacity="0.75"/><circle cx="43.4" cy="-49.4" r="1.7" fill="#7c7e80" opacity="0.75"/><circle cx="47.4" cy="-51.4" r="1.7" fill="#7c7e80" opacity="0.75"/><circle cx="51.4" cy="-49.4" r="1.7" fill="#7c7e80" opacity="0.75"/><circle cx="45.4" cy="-45.4" r="1.7" fill="#7c7e80" opacity="0.75"/><circle cx="49.4" cy="-45.4" r="1.7" fill="#7c7e80" opacity="0.75"/><circle cx="63.0" cy="-2.0" r="1.7" fill="#7c7e80" opacity="0.75"/><circle cx="67.0" cy="-4.0" r="1.7" fill="#7c7e80" opacity="0.75"/><circle cx="71.0" cy="-2.0" r="1.7" fill="#7c7e80" opacity="0.75"/><circle cx="65.0" cy="2.0" r="1.7" fill="#7c7e80" opacity="0.75"/><circle cx="69.0" cy="2.0" r="1.7" fill="#7c7e80" opacity="0.75"/><circle cx="43.4" cy="45.4" r="1.7" fill="#7c7e80" opacity="0.75"/><circle cx="47.4" cy="43.4" r="1.7" fill="#7c7e80" opacity="0.75"/><circle cx="51.4" cy="45.4" r="1.7" fill="#7c7e80" opacity="0.75"/><circle cx="45.4" cy="49.4" r="1.7" fill="#7c7e80" opacity="0.75"/><circle cx="49.4" cy="49.4" r="1.7" fill="#7c7e80" opacity="0.75"/><circle cx="-4.0" cy="65.0" r="1.7" fill="#7c7e80" opacity="0.75"/><circle cx="0.0" cy="63.0" r="1.7" fill="#7c7e80" opacity="0.75"/><circle cx="4.0" cy="65.0" r="1.7" fill="#7c7e80" opacity="0.75"/><circle cx="-2.0" cy="69.0" r="1.7" fill="#7c7e80" opacity="0.75"/><circle cx="2.0" cy="69.0" r="1.7" fill="#7c7e80" opacity="0.75"/><circle cx="-51.4" cy="45.4" r="1.7" fill="#7c7e80" opacity="0.75"/><circle cx="-47.4" cy="43.4" r="1.7" fill="#7c7e80" opacity="0.75"/><circle cx="-43.4" cy="45.4" r="1.7" fill="#7c7e80" opacity="0.75"/><circle cx="-49.4" cy="49.4" r="1.7" fill="#7c7e80" opacity="0.75"/><circle cx="-45.4" cy="49.4" r="1.7" fill="#7c7e80" opacity="0.75"/><circle cx="-71.0" cy="-2.0" r="1.7" fill="#7c7e80" opacity="0.75"/><circle cx="-67.0" cy="-4.0" r="1.7" fill="#7c7e80" opacity="0.75"/><circle cx="-63.0" cy="-2.0" r="1.7" fill="#7c7e80" opacity="0.75"/><circle cx="-69.0" cy="2.0" r="1.7" fill="#7c7e80" opacity="0.75"/><circle cx="-65.0" cy="2.0" r="1.7" fill="#7c7e80" opacity="0.75"/><circle cx="-51.4" cy="-49.4" r="1.7" fill="#7c7e80" opacity="0.75"/><circle cx="-47.4" cy="-51.4" r="1.7" fill="#7c7e80" opacity="0.75"/><circle cx="-43.4" cy="-49.4" r="1.7" fill="#7c7e80" opacity="0.75"/><circle cx="-49.4" cy="-45.4" r="1.7" fill="#7c7e80" opacity="0.75"/><circle cx="-45.4" cy="-45.4" r="1.7" fill="#7c7e80" opacity="0.75"/><text x="-1.9" y="26.0" transform="scale(0.95,1)" text-anchor="middle" font-family="Liberation Serif" font-weight="700" font-size="132" fill="#7c7e80" stroke="#7c7e80" stroke-width="2.8">1</text><text x="0.0" y="24" transform="scale(0.95,1)" text-anchor="middle" font-family="Liberation Serif" font-weight="700" font-size="132" fill="url(#gn18)" stroke="#6a6c6e" stroke-width="1.8">1</text><text x="0" y="60" transform="scale(0.6,1)" text-anchor="middle" font-family="Liberation Sans" font-weight="700" font-size="40" fill="url(#gn18)" stroke="#6a6c6e" stroke-width="1.8" letter-spacing="1">копійка</text></svg>
<svg style="position:absolute;left:493.0px;top:1753.8px" width="145.4" height="145.4" viewBox="-100 -100 200 200"><defs><linearGradient id="g19" x1="0" y1="0" x2="0.15" y2="1"><stop offset="0" stop-color="#e2e2e4"/><stop offset="0.5" stop-color="#d8d8da"/><stop offset="0.66" stop-color="#c8c8ca"/><stop offset="1" stop-color="#b8b8ba"/></linearGradient><linearGradient id="gn20" x1="0" y1="0" x2="0.15" y2="1"><stop offset="0" stop-color="#e6e6e8"/><stop offset="1" stop-color="#c4c4c6"/></linearGradient></defs><circle r="99.5" fill="#d8d8da"/><circle r="97.5" fill="url(#g19)" stroke="#6a6c6e" stroke-width="2.2"/><circle r="92" fill="none" stroke="#7c7e80" stroke-width="1" opacity="0.5"/><path d="M0.0,-87.0 L4.5,-86.3 L8.9,-84.2 L12.9,-81.2 L16.5,-77.5 L19.8,-73.9 L23.0,-70.7 L26.2,-68.3 L29.8,-66.8 L33.7,-66.2 L38.2,-66.3 L43.2,-66.5 L48.3,-66.5 L53.3,-65.8 L57.8,-64.2 L61.5,-61.5 L64.2,-57.8 L65.8,-53.3 L66.5,-48.3 L66.5,-43.2 L66.3,-38.3 L66.2,-33.7 L66.8,-29.8 L68.3,-26.2 L70.7,-23.0 L73.9,-19.8 L77.5,-16.5 L81.2,-12.9 L84.2,-8.9 L86.3,-4.5 L87.0,-0.0 L86.3,4.5 L84.2,8.9 L81.2,12.9 L77.5,16.5 L73.9,19.8 L70.7,23.0 L68.3,26.2 L66.8,29.8 L66.2,33.7 L66.3,38.2 L66.5,43.2 L66.5,48.3 L65.8,53.3 L64.2,57.8 L61.5,61.5 L57.8,64.2 L53.3,65.8 L48.3,66.5 L43.2,66.5 L38.2,66.3 L33.7,66.2 L29.8,66.8 L26.2,68.3 L23.0,70.7 L19.8,73.9 L16.5,77.5 L12.9,81.2 L8.9,84.2 L4.5,86.3 L0.0,87.0 L-4.5,86.3 L-8.9,84.2 L-12.9,81.2 L-16.5,77.5 L-19.8,73.9 L-23.0,70.7 L-26.2,68.3 L-29.8,66.8 L-33.7,66.2 L-38.3,66.3 L-43.2,66.5 L-48.3,66.5 L-53.3,65.8 L-57.8,64.2 L-61.5,61.5 L-64.2,57.8 L-65.8,53.3 L-66.5,48.3 L-66.5,43.2 L-66.3,38.3 L-66.2,33.7 L-66.8,29.8 L-68.3,26.2 L-70.7,23.0 L-73.9,19.8 L-77.5,16.5 L-81.2,12.9 L-84.2,8.9 L-86.3,4.5 L-87.0,0.0 L-86.3,-4.5 L-84.2,-8.9 L-81.2,-12.9 L-77.5,-16.5 L-73.9,-19.8 L-70.7,-23.0 L-68.3,-26.2 L-66.8,-29.8 L-66.2,-33.7 L-66.3,-38.3 L-66.5,-43.2 L-66.5,-48.3 L-65.8,-53.3 L-64.2,-57.8 L-61.5,-61.5 L-57.8,-64.2 L-53.3,-65.8 L-48.3,-66.5 L-43.2,-66.5 L-38.3,-66.3 L-33.7,-66.2 L-29.8,-66.8 L-26.2,-68.3 L-23.0,-70.7 L-19.8,-73.9 L-16.5,-77.5 L-12.9,-81.2 L-8.9,-84.2 L-4.5,-86.3 L-0.0,-87.0Z" fill="none" stroke="#7c7e80" stroke-width="3.2" opacity="0.9"/><path d="M0.0,-85.8 L4.5,-85.1 L8.7,-83.0 L12.7,-80.0 L16.2,-76.4 L19.5,-72.7 L22.6,-69.6 L25.8,-67.2 L29.3,-65.7 L33.2,-65.2 L37.6,-65.2 L42.5,-65.5 L47.6,-65.5 L52.5,-64.9 L57.0,-63.3 L60.7,-60.7 L63.3,-57.0 L64.9,-52.5 L65.5,-47.6 L65.5,-42.5 L65.2,-37.7 L65.2,-33.2 L65.7,-29.3 L67.2,-25.8 L69.6,-22.6 L72.7,-19.5 L76.4,-16.2 L80.0,-12.7 L83.0,-8.7 L85.1,-4.5 L85.8,-0.0 L85.1,4.5 L83.0,8.7 L80.0,12.7 L76.4,16.2 L72.7,19.5 L69.6,22.6 L67.2,25.8 L65.7,29.3 L65.2,33.2 L65.2,37.6 L65.5,42.5 L65.5,47.6 L64.9,52.5 L63.3,57.0 L60.7,60.7 L57.0,63.3 L52.5,64.9 L47.6,65.5 L42.5,65.5 L37.6,65.2 L33.2,65.2 L29.3,65.7 L25.8,67.2 L22.6,69.6 L19.5,72.7 L16.2,76.4 L12.7,80.0 L8.7,83.0 L4.5,85.1 L0.0,85.8 L-4.5,85.1 L-8.7,83.0 L-12.7,80.0 L-16.2,76.4 L-19.5,72.7 L-22.6,69.6 L-25.8,67.2 L-29.3,65.7 L-33.2,65.2 L-37.7,65.2 L-42.5,65.5 L-47.6,65.5 L-52.5,64.9 L-57.0,63.3 L-60.7,60.7 L-63.3,57.0 L-64.9,52.5 L-65.5,47.6 L-65.5,42.5 L-65.2,37.7 L-65.2,33.2 L-65.7,29.3 L-67.2,25.8 L-69.6,22.6 L-72.7,19.5 L-76.4,16.2 L-80.0,12.7 L-83.0,8.7 L-85.1,4.5 L-85.8,0.0 L-85.1,-4.5 L-83.0,-8.7 L-80.0,-12.7 L-76.4,-16.2 L-72.7,-19.5 L-69.6,-22.6 L-67.2,-25.8 L-65.7,-29.3 L-65.2,-33.2 L-65.2,-37.7 L-65.5,-42.5 L-65.5,-47.6 L-64.9,-52.5 L-63.3,-57.0 L-60.7,-60.7 L-57.0,-63.3 L-52.5,-64.9 L-47.6,-65.5 L-42.5,-65.5 L-37.7,-65.2 L-33.2,-65.2 L-29.3,-65.7 L-25.8,-67.2 L-22.6,-69.6 L-19.5,-72.7 L-16.2,-76.4 L-12.7,-80.0 L-8.7,-83.0 L-4.5,-85.1 L-0.0,-85.8Z" fill="none" stroke="#f4f4f4" stroke-width="1.2" opacity="0.8"/><path d="M-9,0 Q0,-5 9,0 Q0,4 -9,0Z" transform="translate(15.6,-78.5) rotate(-9)" fill="#f4f4f4" stroke="#7c7e80" stroke-width="1.2" opacity="0.9"/><path d="M-9,0 Q0,-5 9,0 Q0,4 -9,0Z" transform="translate(44.4,-66.5) rotate(54)" fill="#f4f4f4" stroke="#7c7e80" stroke-width="1.2" opacity="0.9"/><path d="M-9,0 Q0,-5 9,0 Q0,4 -9,0Z" transform="translate(66.5,-44.4) rotate(36)" fill="#f4f4f4" stroke="#7c7e80" stroke-width="1.2" opacity="0.9"/><path d="M-9,0 Q0,-5 9,0 Q0,4 -9,0Z" transform="translate(78.5,-15.6) rotate(99)" fill="#f4f4f4" stroke="#7c7e80" stroke-width="1.2" opacity="0.9"/><path d="M-9,0 Q0,-5 9,0 Q0,4 -9,0Z" transform="translate(78.5,15.6) rotate(81)" fill="#f4f4f4" stroke="#7c7e80" stroke-width="1.2" opacity="0.9"/><path d="M-9,0 Q0,-5 9,0 Q0,4 -9,0Z" transform="translate(66.5,44.4) rotate(144)" fill="#f4f4f4" stroke="#7c7e80" stroke-width="1.2" opacity="0.9"/><path d="M-9,0 Q0,-5 9,0 Q0,4 -9,0Z" transform="translate(44.4,66.5) rotate(126)" fill="#f4f4f4" stroke="#7c7e80" stroke-width="1.2" opacity="0.9"/><path d="M-9,0 Q0,-5 9,0 Q0,4 -9,0Z" transform="translate(15.6,78.5) rotate(189)" fill="#f4f4f4" stroke="#7c7e80" stroke-width="1.2" opacity="0.9"/><path d="M-9,0 Q0,-5 9,0 Q0,4 -9,0Z" transform="translate(-15.6,78.5) rotate(171)" fill="#f4f4f4" stroke="#7c7e80" stroke-width="1.2" opacity="0.9"/><path d="M-9,0 Q0,-5 9,0 Q0,4 -9,0Z" transform="translate(-44.4,66.5) rotate(234)" fill="#f4f4f4" stroke="#7c7e80" stroke-width="1.2" opacity="0.9"/><path d="M-9,0 Q0,-5 9,0 Q0,4 -9,0Z" transform="translate(-66.5,44.4) rotate(216)" fill="#f4f4f4" stroke="#7c7e80" stroke-width="1.2" opacity="0.9"/><path d="M-9,0 Q0,-5 9,0 Q0,4 -9,0Z" transform="translate(-78.5,15.6) rotate(279)" fill="#f4f4f4" stroke="#7c7e80" stroke-width="1.2" opacity="0.9"/><path d="M-9,0 Q0,-5 9,0 Q0,4 -9,0Z" transform="translate(-78.5,-15.6) rotate(261)" fill="#f4f4f4" stroke="#7c7e80" stroke-width="1.2" opacity="0.9"/><path d="M-9,0 Q0,-5 9,0 Q0,4 -9,0Z" transform="translate(-66.5,-44.4) rotate(324)" fill="#f4f4f4" stroke="#7c7e80" stroke-width="1.2" opacity="0.9"/><path d="M-9,0 Q0,-5 9,0 Q0,4 -9,0Z" transform="translate(-44.4,-66.5) rotate(306)" fill="#f4f4f4" stroke="#7c7e80" stroke-width="1.2" opacity="0.9"/><path d="M-9,0 Q0,-5 9,0 Q0,4 -9,0Z" transform="translate(-15.6,-78.5) rotate(369)" fill="#f4f4f4" stroke="#7c7e80" stroke-width="1.2" opacity="0.9"/><circle cx="-4.0" cy="-69.0" r="1.7" fill="#7c7e80" opacity="0.75"/><circle cx="0.0" cy="-71.0" r="1.7" fill="#7c7e80" opacity="0.75"/><circle cx="4.0" cy="-69.0" r="1.7" fill="#7c7e80" opacity="0.75"/><circle cx="-2.0" cy="-65.0" r="1.7" fill="#7c7e80" opacity="0.75"/><circle cx="2.0" cy="-65.0" r="1.7" fill="#7c7e80" opacity="0.75"/><circle cx="43.4" cy="-49.4" r="1.7" fill="#7c7e80" opacity="0.75"/><circle cx="47.4" cy="-51.4" r="1.7" fill="#7c7e80" opacity="0.75"/><circle cx="51.4" cy="-49.4" r="1.7" fill="#7c7e80" opacity="0.75"/><circle cx="45.4" cy="-45.4" r="1.7" fill="#7c7e80" opacity="0.75"/><circle cx="49.4" cy="-45.4" r="1.7" fill="#7c7e80" opacity="0.75"/><circle cx="63.0" cy="-2.0" r="1.7" fill="#7c7e80" opacity="0.75"/><circle cx="67.0" cy="-4.0" r="1.7" fill="#7c7e80" opacity="0.75"/><circle cx="71.0" cy="-2.0" r="1.7" fill="#7c7e80" opacity="0.75"/><circle cx="65.0" cy="2.0" r="1.7" fill="#7c7e80" opacity="0.75"/><circle cx="69.0" cy="2.0" r="1.7" fill="#7c7e80" opacity="0.75"/><circle cx="43.4" cy="45.4" r="1.7" fill="#7c7e80" opacity="0.75"/><circle cx="47.4" cy="43.4" r="1.7" fill="#7c7e80" opacity="0.75"/><circle cx="51.4" cy="45.4" r="1.7" fill="#7c7e80" opacity="0.75"/><circle cx="45.4" cy="49.4" r="1.7" fill="#7c7e80" opacity="0.75"/><circle cx="49.4" cy="49.4" r="1.7" fill="#7c7e80" opacity="0.75"/><circle cx="-4.0" cy="65.0" r="1.7" fill="#7c7e80" opacity="0.75"/><circle cx="0.0" cy="63.0" r="1.7" fill="#7c7e80" opacity="0.75"/><circle cx="4.0" cy="65.0" r="1.7" fill="#7c7e80" opacity="0.75"/><circle cx="-2.0" cy="69.0" r="1.7" fill="#7c7e80" opacity="0.75"/><circle cx="2.0" cy="69.0" r="1.7" fill="#7c7e80" opacity="0.75"/><circle cx="-51.4" cy="45.4" r="1.7" fill="#7c7e80" opacity="0.75"/><circle cx="-47.4" cy="43.4" r="1.7" fill="#7c7e80" opacity="0.75"/><circle cx="-43.4" cy="45.4" r="1.7" fill="#7c7e80" opacity="0.75"/><circle cx="-49.4" cy="49.4" r="1.7" fill="#7c7e80" opacity="0.75"/><circle cx="-45.4" cy="49.4" r="1.7" fill="#7c7e80" opacity="0.75"/><circle cx="-71.0" cy="-2.0" r="1.7" fill="#7c7e80" opacity="0.75"/><circle cx="-67.0" cy="-4.0" r="1.7" fill="#7c7e80" opacity="0.75"/><circle cx="-63.0" cy="-2.0" r="1.7" fill="#7c7e80" opacity="0.75"/><circle cx="-69.0" cy="2.0" r="1.7" fill="#7c7e80" opacity="0.75"/><circle cx="-65.0" cy="2.0" r="1.7" fill="#7c7e80" opacity="0.75"/><circle cx="-51.4" cy="-49.4" r="1.7" fill="#7c7e80" opacity="0.75"/><circle cx="-47.4" cy="-51.4" r="1.7" fill="#7c7e80" opacity="0.75"/><circle cx="-43.4" cy="-49.4" r="1.7" fill="#7c7e80" opacity="0.75"/><circle cx="-49.4" cy="-45.4" r="1.7" fill="#7c7e80" opacity="0.75"/><circle cx="-45.4" cy="-45.4" r="1.7" fill="#7c7e80" opacity="0.75"/><text x="-1.9" y="26.0" transform="scale(0.95,1)" text-anchor="middle" font-family="Liberation Serif" font-weight="700" font-size="132" fill="#7c7e80" stroke="#7c7e80" stroke-width="2.8">2</text><text x="0.0" y="24" transform="scale(0.95,1)" text-anchor="middle" font-family="Liberation Serif" font-weight="700" font-size="132" fill="url(#gn20)" stroke="#6a6c6e" stroke-width="1.8">2</text><text x="0" y="60" transform="scale(0.6,1)" text-anchor="middle" font-family="Liberation Sans" font-weight="700" font-size="40" fill="url(#gn20)" stroke="#6a6c6e" stroke-width="1.8" letter-spacing="1">копійки</text></svg>
<svg style="position:absolute;left:709.1px;top:1726.0px" width="201.0" height="201.0" viewBox="-100 -100 200 200"><defs><linearGradient id="g21" x1="0" y1="0" x2="0.15" y2="1"><stop offset="0" stop-color="#e2e2e4"/><stop offset="0.5" stop-color="#d8d8da"/><stop offset="0.66" stop-color="#c8c8ca"/><stop offset="1" stop-color="#b8b8ba"/></linearGradient><linearGradient id="gn22" x1="0" y1="0" x2="0.15" y2="1"><stop offset="0" stop-color="#e6e6e8"/><stop offset="1" stop-color="#c4c4c6"/></linearGradient></defs><circle r="99.5" fill="#d8d8da"/><circle r="97.5" fill="url(#g21)" stroke="#6a6c6e" stroke-width="2.2"/><circle r="92" fill="none" stroke="#7c7e80" stroke-width="1" opacity="0.5"/><path d="M0.0,-87.0 L4.5,-86.3 L8.9,-84.2 L12.9,-81.2 L16.5,-77.5 L19.8,-73.9 L23.0,-70.7 L26.2,-68.3 L29.8,-66.8 L33.7,-66.2 L38.2,-66.3 L43.2,-66.5 L48.3,-66.5 L53.3,-65.8 L57.8,-64.2 L61.5,-61.5 L64.2,-57.8 L65.8,-53.3 L66.5,-48.3 L66.5,-43.2 L66.3,-38.3 L66.2,-33.7 L66.8,-29.8 L68.3,-26.2 L70.7,-23.0 L73.9,-19.8 L77.5,-16.5 L81.2,-12.9 L84.2,-8.9 L86.3,-4.5 L87.0,-0.0 L86.3,4.5 L84.2,8.9 L81.2,12.9 L77.5,16.5 L73.9,19.8 L70.7,23.0 L68.3,26.2 L66.8,29.8 L66.2,33.7 L66.3,38.2 L66.5,43.2 L66.5,48.3 L65.8,53.3 L64.2,57.8 L61.5,61.5 L57.8,64.2 L53.3,65.8 L48.3,66.5 L43.2,66.5 L38.2,66.3 L33.7,66.2 L29.8,66.8 L26.2,68.3 L23.0,70.7 L19.8,73.9 L16.5,77.5 L12.9,81.2 L8.9,84.2 L4.5,86.3 L0.0,87.0 L-4.5,86.3 L-8.9,84.2 L-12.9,81.2 L-16.5,77.5 L-19.8,73.9 L-23.0,70.7 L-26.2,68.3 L-29.8,66.8 L-33.7,66.2 L-38.3,66.3 L-43.2,66.5 L-48.3,66.5 L-53.3,65.8 L-57.8,64.2 L-61.5,61.5 L-64.2,57.8 L-65.8,53.3 L-66.5,48.3 L-66.5,43.2 L-66.3,38.3 L-66.2,33.7 L-66.8,29.8 L-68.3,26.2 L-70.7,23.0 L-73.9,19.8 L-77.5,16.5 L-81.2,12.9 L-84.2,8.9 L-86.3,4.5 L-87.0,0.0 L-86.3,-4.5 L-84.2,-8.9 L-81.2,-12.9 L-77.5,-16.5 L-73.9,-19.8 L-70.7,-23.0 L-68.3,-26.2 L-66.8,-29.8 L-66.2,-33.7 L-66.3,-38.3 L-66.5,-43.2 L-66.5,-48.3 L-65.8,-53.3 L-64.2,-57.8 L-61.5,-61.5 L-57.8,-64.2 L-53.3,-65.8 L-48.3,-66.5 L-43.2,-66.5 L-38.3,-66.3 L-33.7,-66.2 L-29.8,-66.8 L-26.2,-68.3 L-23.0,-70.7 L-19.8,-73.9 L-16.5,-77.5 L-12.9,-81.2 L-8.9,-84.2 L-4.5,-86.3 L-0.0,-87.0Z" fill="none" stroke="#7c7e80" stroke-width="3.2" opacity="0.9"/><path d="M0.0,-85.8 L4.5,-85.1 L8.7,-83.0 L12.7,-80.0 L16.2,-76.4 L19.5,-72.7 L22.6,-69.6 L25.8,-67.2 L29.3,-65.7 L33.2,-65.2 L37.6,-65.2 L42.5,-65.5 L47.6,-65.5 L52.5,-64.9 L57.0,-63.3 L60.7,-60.7 L63.3,-57.0 L64.9,-52.5 L65.5,-47.6 L65.5,-42.5 L65.2,-37.7 L65.2,-33.2 L65.7,-29.3 L67.2,-25.8 L69.6,-22.6 L72.7,-19.5 L76.4,-16.2 L80.0,-12.7 L83.0,-8.7 L85.1,-4.5 L85.8,-0.0 L85.1,4.5 L83.0,8.7 L80.0,12.7 L76.4,16.2 L72.7,19.5 L69.6,22.6 L67.2,25.8 L65.7,29.3 L65.2,33.2 L65.2,37.6 L65.5,42.5 L65.5,47.6 L64.9,52.5 L63.3,57.0 L60.7,60.7 L57.0,63.3 L52.5,64.9 L47.6,65.5 L42.5,65.5 L37.6,65.2 L33.2,65.2 L29.3,65.7 L25.8,67.2 L22.6,69.6 L19.5,72.7 L16.2,76.4 L12.7,80.0 L8.7,83.0 L4.5,85.1 L0.0,85.8 L-4.5,85.1 L-8.7,83.0 L-12.7,80.0 L-16.2,76.4 L-19.5,72.7 L-22.6,69.6 L-25.8,67.2 L-29.3,65.7 L-33.2,65.2 L-37.7,65.2 L-42.5,65.5 L-47.6,65.5 L-52.5,64.9 L-57.0,63.3 L-60.7,60.7 L-63.3,57.0 L-64.9,52.5 L-65.5,47.6 L-65.5,42.5 L-65.2,37.7 L-65.2,33.2 L-65.7,29.3 L-67.2,25.8 L-69.6,22.6 L-72.7,19.5 L-76.4,16.2 L-80.0,12.7 L-83.0,8.7 L-85.1,4.5 L-85.8,0.0 L-85.1,-4.5 L-83.0,-8.7 L-80.0,-12.7 L-76.4,-16.2 L-72.7,-19.5 L-69.6,-22.6 L-67.2,-25.8 L-65.7,-29.3 L-65.2,-33.2 L-65.2,-37.7 L-65.5,-42.5 L-65.5,-47.6 L-64.9,-52.5 L-63.3,-57.0 L-60.7,-60.7 L-57.0,-63.3 L-52.5,-64.9 L-47.6,-65.5 L-42.5,-65.5 L-37.7,-65.2 L-33.2,-65.2 L-29.3,-65.7 L-25.8,-67.2 L-22.6,-69.6 L-19.5,-72.7 L-16.2,-76.4 L-12.7,-80.0 L-8.7,-83.0 L-4.5,-85.1 L-0.0,-85.8Z" fill="none" stroke="#f4f4f4" stroke-width="1.2" opacity="0.8"/><path d="M-9,0 Q0,-5 9,0 Q0,4 -9,0Z" transform="translate(15.6,-78.5) rotate(-9)" fill="#f4f4f4" stroke="#7c7e80" stroke-width="1.2" opacity="0.9"/><path d="M-9,0 Q0,-5 9,0 Q0,4 -9,0Z" transform="translate(44.4,-66.5) rotate(54)" fill="#f4f4f4" stroke="#7c7e80" stroke-width="1.2" opacity="0.9"/><path d="M-9,0 Q0,-5 9,0 Q0,4 -9,0Z" transform="translate(66.5,-44.4) rotate(36)" fill="#f4f4f4" stroke="#7c7e80" stroke-width="1.2" opacity="0.9"/><path d="M-9,0 Q0,-5 9,0 Q0,4 -9,0Z" transform="translate(78.5,-15.6) rotate(99)" fill="#f4f4f4" stroke="#7c7e80" stroke-width="1.2" opacity="0.9"/><path d="M-9,0 Q0,-5 9,0 Q0,4 -9,0Z" transform="translate(78.5,15.6) rotate(81)" fill="#f4f4f4" stroke="#7c7e80" stroke-width="1.2" opacity="0.9"/><path d="M-9,0 Q0,-5 9,0 Q0,4 -9,0Z" transform="translate(66.5,44.4) rotate(144)" fill="#f4f4f4" stroke="#7c7e80" stroke-width="1.2" opacity="0.9"/><path d="M-9,0 Q0,-5 9,0 Q0,4 -9,0Z" transform="translate(44.4,66.5) rotate(126)" fill="#f4f4f4" stroke="#7c7e80" stroke-width="1.2" opacity="0.9"/><path d="M-9,0 Q0,-5 9,0 Q0,4 -9,0Z" transform="translate(15.6,78.5) rotate(189)" fill="#f4f4f4" stroke="#7c7e80" stroke-width="1.2" opacity="0.9"/><path d="M-9,0 Q0,-5 9,0 Q0,4 -9,0Z" transform="translate(-15.6,78.5) rotate(171)" fill="#f4f4f4" stroke="#7c7e80" stroke-width="1.2" opacity="0.9"/><path d="M-9,0 Q0,-5 9,0 Q0,4 -9,0Z" transform="translate(-44.4,66.5) rotate(234)" fill="#f4f4f4" stroke="#7c7e80" stroke-width="1.2" opacity="0.9"/><path d="M-9,0 Q0,-5 9,0 Q0,4 -9,0Z" transform="translate(-66.5,44.4) rotate(216)" fill="#f4f4f4" stroke="#7c7e80" stroke-width="1.2" opacity="0.9"/><path d="M-9,0 Q0,-5 9,0 Q0,4 -9,0Z" transform="translate(-78.5,15.6) rotate(279)" fill="#f4f4f4" stroke="#7c7e80" stroke-width="1.2" opacity="0.9"/><path d="M-9,0 Q0,-5 9,0 Q0,4 -9,0Z" transform="translate(-78.5,-15.6) rotate(261)" fill="#f4f4f4" stroke="#7c7e80" stroke-width="1.2" opacity="0.9"/><path d="M-9,0 Q0,-5 9,0 Q0,4 -9,0Z" transform="translate(-66.5,-44.4) rotate(324)" fill="#f4f4f4" stroke="#7c7e80" stroke-width="1.2" opacity="0.9"/><path d="M-9,0 Q0,-5 9,0 Q0,4 -9,0Z" transform="translate(-44.4,-66.5) rotate(306)" fill="#f4f4f4" stroke="#7c7e80" stroke-width="1.2" opacity="0.9"/><path d="M-9,0 Q0,-5 9,0 Q0,4 -9,0Z" transform="translate(-15.6,-78.5) rotate(369)" fill="#f4f4f4" stroke="#7c7e80" stroke-width="1.2" opacity="0.9"/><circle cx="-4.0" cy="-69.0" r="1.7" fill="#7c7e80" opacity="0.75"/><circle cx="0.0" cy="-71.0" r="1.7" fill="#7c7e80" opacity="0.75"/><circle cx="4.0" cy="-69.0" r="1.7" fill="#7c7e80" opacity="0.75"/><circle cx="-2.0" cy="-65.0" r="1.7" fill="#7c7e80" opacity="0.75"/><circle cx="2.0" cy="-65.0" r="1.7" fill="#7c7e80" opacity="0.75"/><circle cx="43.4" cy="-49.4" r="1.7" fill="#7c7e80" opacity="0.75"/><circle cx="47.4" cy="-51.4" r="1.7" fill="#7c7e80" opacity="0.75"/><circle cx="51.4" cy="-49.4" r="1.7" fill="#7c7e80" opacity="0.75"/><circle cx="45.4" cy="-45.4" r="1.7" fill="#7c7e80" opacity="0.75"/><circle cx="49.4" cy="-45.4" r="1.7" fill="#7c7e80" opacity="0.75"/><circle cx="63.0" cy="-2.0" r="1.7" fill="#7c7e80" opacity="0.75"/><circle cx="67.0" cy="-4.0" r="1.7" fill="#7c7e80" opacity="0.75"/><circle cx="71.0" cy="-2.0" r="1.7" fill="#7c7e80" opacity="0.75"/><circle cx="65.0" cy="2.0" r="1.7" fill="#7c7e80" opacity="0.75"/><circle cx="69.0" cy="2.0" r="1.7" fill="#7c7e80" opacity="0.75"/><circle cx="43.4" cy="45.4" r="1.7" fill="#7c7e80" opacity="0.75"/><circle cx="47.4" cy="43.4" r="1.7" fill="#7c7e80" opacity="0.75"/><circle cx="51.4" cy="45.4" r="1.7" fill="#7c7e80" opacity="0.75"/><circle cx="45.4" cy="49.4" r="1.7" fill="#7c7e80" opacity="0.75"/><circle cx="49.4" cy="49.4" r="1.7" fill="#7c7e80" opacity="0.75"/><circle cx="-4.0" cy="65.0" r="1.7" fill="#7c7e80" opacity="0.75"/><circle cx="0.0" cy="63.0" r="1.7" fill="#7c7e80" opacity="0.75"/><circle cx="4.0" cy="65.0" r="1.7" fill="#7c7e80" opacity="0.75"/><circle cx="-2.0" cy="69.0" r="1.7" fill="#7c7e80" opacity="0.75"/><circle cx="2.0" cy="69.0" r="1.7" fill="#7c7e80" opacity="0.75"/><circle cx="-51.4" cy="45.4" r="1.7" fill="#7c7e80" opacity="0.75"/><circle cx="-47.4" cy="43.4" r="1.7" fill="#7c7e80" opacity="0.75"/><circle cx="-43.4" cy="45.4" r="1.7" fill="#7c7e80" opacity="0.75"/><circle cx="-49.4" cy="49.4" r="1.7" fill="#7c7e80" opacity="0.75"/><circle cx="-45.4" cy="49.4" r="1.7" fill="#7c7e80" opacity="0.75"/><circle cx="-71.0" cy="-2.0" r="1.7" fill="#7c7e80" opacity="0.75"/><circle cx="-67.0" cy="-4.0" r="1.7" fill="#7c7e80" opacity="0.75"/><circle cx="-63.0" cy="-2.0" r="1.7" fill="#7c7e80" opacity="0.75"/><circle cx="-69.0" cy="2.0" r="1.7" fill="#7c7e80" opacity="0.75"/><circle cx="-65.0" cy="2.0" r="1.7" fill="#7c7e80" opacity="0.75"/><circle cx="-51.4" cy="-49.4" r="1.7" fill="#7c7e80" opacity="0.75"/><circle cx="-47.4" cy="-51.4" r="1.7" fill="#7c7e80" opacity="0.75"/><circle cx="-43.4" cy="-49.4" r="1.7" fill="#7c7e80" opacity="0.75"/><circle cx="-49.4" cy="-45.4" r="1.7" fill="#7c7e80" opacity="0.75"/><circle cx="-45.4" cy="-45.4" r="1.7" fill="#7c7e80" opacity="0.75"/><text x="-1.9" y="26.0" transform="scale(0.95,1)" text-anchor="middle" font-family="Liberation Serif" font-weight="700" font-size="132" fill="#7c7e80" stroke="#7c7e80" stroke-width="2.8">5</text><text x="0.0" y="24" transform="scale(0.95,1)" text-anchor="middle" font-family="Liberation Serif" font-weight="700" font-size="132" fill="url(#gn22)" stroke="#6a6c6e" stroke-width="1.8">5</text><text x="0" y="60" transform="scale(0.6,1)" text-anchor="middle" font-family="Liberation Sans" font-weight="700" font-size="40" fill="url(#gn22)" stroke="#6a6c6e" stroke-width="1.8" letter-spacing="1">копійок</text></svg>
<svg style="position:absolute;left:980.3px;top:1738.5px" width="176.0" height="176.0" viewBox="-100 -100 200 200"><defs><linearGradient id="g23" x1="0" y1="0" x2="0.15" y2="1"><stop offset="0" stop-color="#f0cf3c"/><stop offset="0.5" stop-color="#ebc636"/><stop offset="0.66" stop-color="#ddb52e"/><stop offset="1" stop-color="#cfa82a"/></linearGradient><linearGradient id="gn24" x1="0" y1="0" x2="0.15" y2="1"><stop offset="0" stop-color="#f2d446"/><stop offset="1" stop-color="#d8b232"/></linearGradient></defs><circle r="99.5" fill="#e6c440"/><circle r="97.5" fill="url(#g23)" stroke="#9c780c" stroke-width="2.2"/><circle r="92" fill="none" stroke="#9e7a10" stroke-width="1" opacity="0.5"/><path d="M0.0,-87.0 L4.5,-86.3 L8.9,-84.2 L12.9,-81.2 L16.5,-77.5 L19.8,-73.9 L23.0,-70.7 L26.2,-68.3 L29.8,-66.8 L33.7,-66.2 L38.2,-66.3 L43.2,-66.5 L48.3,-66.5 L53.3,-65.8 L57.8,-64.2 L61.5,-61.5 L64.2,-57.8 L65.8,-53.3 L66.5,-48.3 L66.5,-43.2 L66.3,-38.3 L66.2,-33.7 L66.8,-29.8 L68.3,-26.2 L70.7,-23.0 L73.9,-19.8 L77.5,-16.5 L81.2,-12.9 L84.2,-8.9 L86.3,-4.5 L87.0,-0.0 L86.3,4.5 L84.2,8.9 L81.2,12.9 L77.5,16.5 L73.9,19.8 L70.7,23.0 L68.3,26.2 L66.8,29.8 L66.2,33.7 L66.3,38.2 L66.5,43.2 L66.5,48.3 L65.8,53.3 L64.2,57.8 L61.5,61.5 L57.8,64.2 L53.3,65.8 L48.3,66.5 L43.2,66.5 L38.2,66.3 L33.7,66.2 L29.8,66.8 L26.2,68.3 L23.0,70.7 L19.8,73.9 L16.5,77.5 L12.9,81.2 L8.9,84.2 L4.5,86.3 L0.0,87.0 L-4.5,86.3 L-8.9,84.2 L-12.9,81.2 L-16.5,77.5 L-19.8,73.9 L-23.0,70.7 L-26.2,68.3 L-29.8,66.8 L-33.7,66.2 L-38.3,66.3 L-43.2,66.5 L-48.3,66.5 L-53.3,65.8 L-57.8,64.2 L-61.5,61.5 L-64.2,57.8 L-65.8,53.3 L-66.5,48.3 L-66.5,43.2 L-66.3,38.3 L-66.2,33.7 L-66.8,29.8 L-68.3,26.2 L-70.7,23.0 L-73.9,19.8 L-77.5,16.5 L-81.2,12.9 L-84.2,8.9 L-86.3,4.5 L-87.0,0.0 L-86.3,-4.5 L-84.2,-8.9 L-81.2,-12.9 L-77.5,-16.5 L-73.9,-19.8 L-70.7,-23.0 L-68.3,-26.2 L-66.8,-29.8 L-66.2,-33.7 L-66.3,-38.3 L-66.5,-43.2 L-66.5,-48.3 L-65.8,-53.3 L-64.2,-57.8 L-61.5,-61.5 L-57.8,-64.2 L-53.3,-65.8 L-48.3,-66.5 L-43.2,-66.5 L-38.3,-66.3 L-33.7,-66.2 L-29.8,-66.8 L-26.2,-68.3 L-23.0,-70.7 L-19.8,-73.9 L-16.5,-77.5 L-12.9,-81.2 L-8.9,-84.2 L-4.5,-86.3 L-0.0,-87.0Z" fill="none" stroke="#9e7a10" stroke-width="3.2" opacity="0.9"/><path d="M0.0,-85.8 L4.5,-85.1 L8.7,-83.0 L12.7,-80.0 L16.2,-76.4 L19.5,-72.7 L22.6,-69.6 L25.8,-67.2 L29.3,-65.7 L33.2,-65.2 L37.6,-65.2 L42.5,-65.5 L47.6,-65.5 L52.5,-64.9 L57.0,-63.3 L60.7,-60.7 L63.3,-57.0 L64.9,-52.5 L65.5,-47.6 L65.5,-42.5 L65.2,-37.7 L65.2,-33.2 L65.7,-29.3 L67.2,-25.8 L69.6,-22.6 L72.7,-19.5 L76.4,-16.2 L80.0,-12.7 L83.0,-8.7 L85.1,-4.5 L85.8,-0.0 L85.1,4.5 L83.0,8.7 L80.0,12.7 L76.4,16.2 L72.7,19.5 L69.6,22.6 L67.2,25.8 L65.7,29.3 L65.2,33.2 L65.2,37.6 L65.5,42.5 L65.5,47.6 L64.9,52.5 L63.3,57.0 L60.7,60.7 L57.0,63.3 L52.5,64.9 L47.6,65.5 L42.5,65.5 L37.6,65.2 L33.2,65.2 L29.3,65.7 L25.8,67.2 L22.6,69.6 L19.5,72.7 L16.2,76.4 L12.7,80.0 L8.7,83.0 L4.5,85.1 L0.0,85.8 L-4.5,85.1 L-8.7,83.0 L-12.7,80.0 L-16.2,76.4 L-19.5,72.7 L-22.6,69.6 L-25.8,67.2 L-29.3,65.7 L-33.2,65.2 L-37.7,65.2 L-42.5,65.5 L-47.6,65.5 L-52.5,64.9 L-57.0,63.3 L-60.7,60.7 L-63.3,57.0 L-64.9,52.5 L-65.5,47.6 L-65.5,42.5 L-65.2,37.7 L-65.2,33.2 L-65.7,29.3 L-67.2,25.8 L-69.6,22.6 L-72.7,19.5 L-76.4,16.2 L-80.0,12.7 L-83.0,8.7 L-85.1,4.5 L-85.8,0.0 L-85.1,-4.5 L-83.0,-8.7 L-80.0,-12.7 L-76.4,-16.2 L-72.7,-19.5 L-69.6,-22.6 L-67.2,-25.8 L-65.7,-29.3 L-65.2,-33.2 L-65.2,-37.7 L-65.5,-42.5 L-65.5,-47.6 L-64.9,-52.5 L-63.3,-57.0 L-60.7,-60.7 L-57.0,-63.3 L-52.5,-64.9 L-47.6,-65.5 L-42.5,-65.5 L-37.7,-65.2 L-33.2,-65.2 L-29.3,-65.7 L-25.8,-67.2 L-22.6,-69.6 L-19.5,-72.7 L-16.2,-76.4 L-12.7,-80.0 L-8.7,-83.0 L-4.5,-85.1 L-0.0,-85.8Z" fill="none" stroke="#fae68a" stroke-width="1.2" opacity="0.8"/><path d="M-9,0 Q0,-5 9,0 Q0,4 -9,0Z" transform="translate(15.6,-78.5) rotate(-9)" fill="#fae68a" stroke="#9e7a10" stroke-width="1.2" opacity="0.9"/><path d="M-9,0 Q0,-5 9,0 Q0,4 -9,0Z" transform="translate(44.4,-66.5) rotate(54)" fill="#fae68a" stroke="#9e7a10" stroke-width="1.2" opacity="0.9"/><path d="M-9,0 Q0,-5 9,0 Q0,4 -9,0Z" transform="translate(66.5,-44.4) rotate(36)" fill="#fae68a" stroke="#9e7a10" stroke-width="1.2" opacity="0.9"/><path d="M-9,0 Q0,-5 9,0 Q0,4 -9,0Z" transform="translate(78.5,-15.6) rotate(99)" fill="#fae68a" stroke="#9e7a10" stroke-width="1.2" opacity="0.9"/><path d="M-9,0 Q0,-5 9,0 Q0,4 -9,0Z" transform="translate(78.5,15.6) rotate(81)" fill="#fae68a" stroke="#9e7a10" stroke-width="1.2" opacity="0.9"/><path d="M-9,0 Q0,-5 9,0 Q0,4 -9,0Z" transform="translate(66.5,44.4) rotate(144)" fill="#fae68a" stroke="#9e7a10" stroke-width="1.2" opacity="0.9"/><path d="M-9,0 Q0,-5 9,0 Q0,4 -9,0Z" transform="translate(44.4,66.5) rotate(126)" fill="#fae68a" stroke="#9e7a10" stroke-width="1.2" opacity="0.9"/><path d="M-9,0 Q0,-5 9,0 Q0,4 -9,0Z" transform="translate(15.6,78.5) rotate(189)" fill="#fae68a" stroke="#9e7a10" stroke-width="1.2" opacity="0.9"/><path d="M-9,0 Q0,-5 9,0 Q0,4 -9,0Z" transform="translate(-15.6,78.5) rotate(171)" fill="#fae68a" stroke="#9e7a10" stroke-width="1.2" opacity="0.9"/><path d="M-9,0 Q0,-5 9,0 Q0,4 -9,0Z" transform="translate(-44.4,66.5) rotate(234)" fill="#fae68a" stroke="#9e7a10" stroke-width="1.2" opacity="0.9"/><path d="M-9,0 Q0,-5 9,0 Q0,4 -9,0Z" transform="translate(-66.5,44.4) rotate(216)" fill="#fae68a" stroke="#9e7a10" stroke-width="1.2" opacity="0.9"/><path d="M-9,0 Q0,-5 9,0 Q0,4 -9,0Z" transform="translate(-78.5,15.6) rotate(279)" fill="#fae68a" stroke="#9e7a10" stroke-width="1.2" opacity="0.9"/><path d="M-9,0 Q0,-5 9,0 Q0,4 -9,0Z" transform="translate(-78.5,-15.6) rotate(261)" fill="#fae68a" stroke="#9e7a10" stroke-width="1.2" opacity="0.9"/><path d="M-9,0 Q0,-5 9,0 Q0,4 -9,0Z" transform="translate(-66.5,-44.4) rotate(324)" fill="#fae68a" stroke="#9e7a10" stroke-width="1.2" opacity="0.9"/><path d="M-9,0 Q0,-5 9,0 Q0,4 -9,0Z" transform="translate(-44.4,-66.5) rotate(306)" fill="#fae68a" stroke="#9e7a10" stroke-width="1.2" opacity="0.9"/><path d="M-9,0 Q0,-5 9,0 Q0,4 -9,0Z" transform="translate(-15.6,-78.5) rotate(369)" fill="#fae68a" stroke="#9e7a10" stroke-width="1.2" opacity="0.9"/><circle cx="-4.0" cy="-69.0" r="1.7" fill="#9e7a10" opacity="0.75"/><circle cx="0.0" cy="-71.0" r="1.7" fill="#9e7a10" opacity="0.75"/><circle cx="4.0" cy="-69.0" r="1.7" fill="#9e7a10" opacity="0.75"/><circle cx="-2.0" cy="-65.0" r="1.7" fill="#9e7a10" opacity="0.75"/><circle cx="2.0" cy="-65.0" r="1.7" fill="#9e7a10" opacity="0.75"/><circle cx="43.4" cy="-49.4" r="1.7" fill="#9e7a10" opacity="0.75"/><circle cx="47.4" cy="-51.4" r="1.7" fill="#9e7a10" opacity="0.75"/><circle cx="51.4" cy="-49.4" r="1.7" fill="#9e7a10" opacity="0.75"/><circle cx="45.4" cy="-45.4" r="1.7" fill="#9e7a10" opacity="0.75"/><circle cx="49.4" cy="-45.4" r="1.7" fill="#9e7a10" opacity="0.75"/><circle cx="63.0" cy="-2.0" r="1.7" fill="#9e7a10" opacity="0.75"/><circle cx="67.0" cy="-4.0" r="1.7" fill="#9e7a10" opacity="0.75"/><circle cx="71.0" cy="-2.0" r="1.7" fill="#9e7a10" opacity="0.75"/><circle cx="65.0" cy="2.0" r="1.7" fill="#9e7a10" opacity="0.75"/><circle cx="69.0" cy="2.0" r="1.7" fill="#9e7a10" opacity="0.75"/><circle cx="43.4" cy="45.4" r="1.7" fill="#9e7a10" opacity="0.75"/><circle cx="47.4" cy="43.4" r="1.7" fill="#9e7a10" opacity="0.75"/><circle cx="51.4" cy="45.4" r="1.7" fill="#9e7a10" opacity="0.75"/><circle cx="45.4" cy="49.4" r="1.7" fill="#9e7a10" opacity="0.75"/><circle cx="49.4" cy="49.4" r="1.7" fill="#9e7a10" opacity="0.75"/><circle cx="-4.0" cy="65.0" r="1.7" fill="#9e7a10" opacity="0.75"/><circle cx="0.0" cy="63.0" r="1.7" fill="#9e7a10" opacity="0.75"/><circle cx="4.0" cy="65.0" r="1.7" fill="#9e7a10" opacity="0.75"/><circle cx="-2.0" cy="69.0" r="1.7" fill="#9e7a10" opacity="0.75"/><circle cx="2.0" cy="69.0" r="1.7" fill="#9e7a10" opacity="0.75"/><circle cx="-51.4" cy="45.4" r="1.7" fill="#9e7a10" opacity="0.75"/><circle cx="-47.4" cy="43.4" r="1.7" fill="#9e7a10" opacity="0.75"/><circle cx="-43.4" cy="45.4" r="1.7" fill="#9e7a10" opacity="0.75"/><circle cx="-49.4" cy="49.4" r="1.7" fill="#9e7a10" opacity="0.75"/><circle cx="-45.4" cy="49.4" r="1.7" fill="#9e7a10" opacity="0.75"/><circle cx="-71.0" cy="-2.0" r="1.7" fill="#9e7a10" opacity="0.75"/><circle cx="-67.0" cy="-4.0" r="1.7" fill="#9e7a10" opacity="0.75"/><circle cx="-63.0" cy="-2.0" r="1.7" fill="#9e7a10" opacity="0.75"/><circle cx="-69.0" cy="2.0" r="1.7" fill="#9e7a10" opacity="0.75"/><circle cx="-65.0" cy="2.0" r="1.7" fill="#9e7a10" opacity="0.75"/><circle cx="-51.4" cy="-49.4" r="1.7" fill="#9e7a10" opacity="0.75"/><circle cx="-47.4" cy="-51.4" r="1.7" fill="#9e7a10" opacity="0.75"/><circle cx="-43.4" cy="-49.4" r="1.7" fill="#9e7a10" opacity="0.75"/><circle cx="-49.4" cy="-45.4" r="1.7" fill="#9e7a10" opacity="0.75"/><circle cx="-45.4" cy="-45.4" r="1.7" fill="#9e7a10" opacity="0.75"/><text x="-2.4" y="26.0" transform="scale(0.74,1)" text-anchor="middle" font-family="Liberation Serif" font-weight="700" font-size="132" fill="#9e7a10" stroke="#9e7a10" stroke-width="2.8">25</text><text x="0.0" y="24" transform="scale(0.74,1)" text-anchor="middle" font-family="Liberation Serif" font-weight="700" font-size="132" fill="url(#gn24)" stroke="#9c780c" stroke-width="1.8">25</text><text x="0" y="60" transform="scale(0.6,1)" text-anchor="middle" font-family="Liberation Sans" font-weight="700" font-size="40" fill="url(#gn24)" stroke="#9c780c" stroke-width="1.8" letter-spacing="1">копійок</text></svg>
<svg style="position:absolute;left:1226.5px;top:1716.5px" width="219.0" height="219.0" viewBox="-100 -100 200 200"><defs><linearGradient id="g25" x1="0" y1="0" x2="0.15" y2="1"><stop offset="0" stop-color="#ead054"/><stop offset="0.55" stop-color="#dfc04a"/><stop offset="1" stop-color="#cdac3c"/></linearGradient><linearGradient id="gn26" x1="0" y1="0" x2="0.15" y2="1"><stop offset="0" stop-color="#f0d866"/><stop offset="1" stop-color="#d8b848"/></linearGradient></defs><circle r="99.5" fill="#dcc050"/><circle r="97.5" fill="url(#g25)" stroke="#a8841c" stroke-width="1.8"/><circle r="92" fill="none" stroke="#b8962a" stroke-width="1.2" opacity="0.8"/><g transform="scale(-1,1)"><path d="M-88.0,-14.0 L-48.0,-14.0 L-68.0,24.0Z" fill="#e2c454" stroke="#8e6c12" stroke-width="1.6" stroke-linejoin="round"/><path d="M-81.3,-12.5 L-76.2,-2.3 L-86.5,-2.3Z" fill="#f6e08a" stroke="#8e6c12" stroke-width="0.9"/><path d="M-68.0,-12.5 L-62.8,-2.3 L-73.2,-2.3Z" fill="#f6e08a" stroke="#8e6c12" stroke-width="0.9"/><path d="M-54.7,-12.5 L-49.5,-2.3 L-59.8,-2.3Z" fill="#f6e08a" stroke="#8e6c12" stroke-width="0.9"/><path d="M-74.7,0.2 L-69.5,10.3 L-79.8,10.3Z" fill="#f6e08a" stroke="#8e6c12" stroke-width="0.9"/><path d="M-61.3,0.2 L-56.2,10.3 L-66.5,10.3Z" fill="#f6e08a" stroke="#8e6c12" stroke-width="0.9"/><path d="M-68.0,12.8 L-62.8,23.0 L-73.2,23.0Z" fill="#f6e08a" stroke="#8e6c12" stroke-width="0.9"/><path d="M-55.0,-59.0 L-27.0,-59.0 L-41.0,-32.4Z" fill="#e2c454" stroke="#8e6c12" stroke-width="1.6" stroke-linejoin="round"/><path d="M-50.3,-57.5 L-47.2,-51.1 L-53.5,-51.1Z" fill="#f6e08a" stroke="#8e6c12" stroke-width="0.9"/><path d="M-41.0,-57.5 L-37.8,-51.1 L-44.2,-51.1Z" fill="#f6e08a" stroke="#8e6c12" stroke-width="0.9"/><path d="M-31.7,-57.5 L-28.5,-51.1 L-34.8,-51.1Z" fill="#f6e08a" stroke="#8e6c12" stroke-width="0.9"/><path d="M-45.7,-48.6 L-42.5,-42.3 L-48.8,-42.3Z" fill="#f6e08a" stroke="#8e6c12" stroke-width="0.9"/><path d="M-36.3,-48.6 L-33.2,-42.3 L-39.5,-42.3Z" fill="#f6e08a" stroke="#8e6c12" stroke-width="0.9"/><path d="M-41.0,-39.8 L-37.8,-33.4 L-44.2,-33.4Z" fill="#f6e08a" stroke="#8e6c12" stroke-width="0.9"/><path d="M-84,35 Q-55,42 -38,25 Q-22,6 -40,-14 Q-58,-34 -46,-58 Q-38,-72 -22,-74" fill="none" stroke="#8e6c12" stroke-width="3.4" stroke-linecap="round"/><path d="M-84,35 Q-55,42 -38,25 Q-22,6 -40,-14 Q-58,-34 -46,-58 Q-38,-72 -22,-74" fill="none" stroke="#f4e294" stroke-width="1.2" stroke-linecap="round"/><path d="M-42,-20 Q-70,-40 -78,-44" fill="none" stroke="#8e6c12" stroke-width="2.6" stroke-linecap="round"/><path d="M-88,-26 Q-80,-40 -60,-36 Q-66,-24 -88,-26Z" fill="#e6ca58" stroke="#8e6c12" stroke-width="1.5"/><path d="M-52,-77 Q-44,-88 -26,-82 Q-36,-72 -52,-77Z" fill="#e6ca58" stroke="#8e6c12" stroke-width="1.5"/><path d="M-36,-1 Q-30,-20 -25,-34 Q-18,-18 -26,-2Z" fill="#e6ca58" stroke="#8e6c12" stroke-width="1.5"/><path d="M-48,27 Q-50,10 -44,-6 Q-34,10 -38,26Z" fill="#e6ca58" stroke="#8e6c12" stroke-width="1.5"/></g><g transform="scale(1,1)"><path d="M-88.0,-14.0 L-48.0,-14.0 L-68.0,24.0Z" fill="#e2c454" stroke="#8e6c12" stroke-width="1.6" stroke-linejoin="round"/><path d="M-81.3,-12.5 L-76.2,-2.3 L-86.5,-2.3Z" fill="#f6e08a" stroke="#8e6c12" stroke-width="0.9"/><path d="M-68.0,-12.5 L-62.8,-2.3 L-73.2,-2.3Z" fill="#f6e08a" stroke="#8e6c12" stroke-width="0.9"/><path d="M-54.7,-12.5 L-49.5,-2.3 L-59.8,-2.3Z" fill="#f6e08a" stroke="#8e6c12" stroke-width="0.9"/><path d="M-74.7,0.2 L-69.5,10.3 L-79.8,10.3Z" fill="#f6e08a" stroke="#8e6c12" stroke-width="0.9"/><path d="M-61.3,0.2 L-56.2,10.3 L-66.5,10.3Z" fill="#f6e08a" stroke="#8e6c12" stroke-width="0.9"/><path d="M-68.0,12.8 L-62.8,23.0 L-73.2,23.0Z" fill="#f6e08a" stroke="#8e6c12" stroke-width="0.9"/><path d="M-55.0,-59.0 L-27.0,-59.0 L-41.0,-32.4Z" fill="#e2c454" stroke="#8e6c12" stroke-width="1.6" stroke-linejoin="round"/><path d="M-50.3,-57.5 L-47.2,-51.1 L-53.5,-51.1Z" fill="#f6e08a" stroke="#8e6c12" stroke-width="0.9"/><path d="M-41.0,-57.5 L-37.8,-51.1 L-44.2,-51.1Z" fill="#f6e08a" stroke="#8e6c12" stroke-width="0.9"/><path d="M-31.7,-57.5 L-28.5,-51.1 L-34.8,-51.1Z" fill="#f6e08a" stroke="#8e6c12" stroke-width="0.9"/><path d="M-45.7,-48.6 L-42.5,-42.3 L-48.8,-42.3Z" fill="#f6e08a" stroke="#8e6c12" stroke-width="0.9"/><path d="M-36.3,-48.6 L-33.2,-42.3 L-39.5,-42.3Z" fill="#f6e08a" stroke="#8e6c12" stroke-width="0.9"/><path d="M-41.0,-39.8 L-37.8,-33.4 L-44.2,-33.4Z" fill="#f6e08a" stroke="#8e6c12" stroke-width="0.9"/><path d="M-84,35 Q-55,42 -38,25 Q-22,6 -40,-14 Q-58,-34 -46,-58 Q-38,-72 -22,-74" fill="none" stroke="#8e6c12" stroke-width="3.4" stroke-linecap="round"/><path d="M-84,35 Q-55,42 -38,25 Q-22,6 -40,-14 Q-58,-34 -46,-58 Q-38,-72 -22,-74" fill="none" stroke="#f4e294" stroke-width="1.2" stroke-linecap="round"/><path d="M-42,-20 Q-70,-40 -78,-44" fill="none" stroke="#8e6c12" stroke-width="2.6" stroke-linecap="round"/><path d="M-88,-26 Q-80,-40 -60,-36 Q-66,-24 -88,-26Z" fill="#e6ca58" stroke="#8e6c12" stroke-width="1.5"/><path d="M-52,-77 Q-44,-88 -26,-82 Q-36,-72 -52,-77Z" fill="#e6ca58" stroke="#8e6c12" stroke-width="1.5"/><path d="M-36,-1 Q-30,-20 -25,-34 Q-18,-18 -26,-2Z" fill="#e6ca58" stroke="#8e6c12" stroke-width="1.5"/><path d="M-48,27 Q-50,10 -44,-6 Q-34,10 -38,26Z" fill="#e6ca58" stroke="#8e6c12" stroke-width="1.5"/></g><text x="-1.5" y="40.5" transform="scale(0.74,1)" text-anchor="middle" font-family="Liberation Serif" font-weight="700" font-size="190" fill="#8e6c12">1</text><text x="0" y="38.5" transform="scale(0.74,1)" text-anchor="middle" font-family="Liberation Serif" font-weight="700" font-size="190" fill="url(#gn26)" stroke="#8e6c12" stroke-width="2">1</text><text x="0" y="71" text-anchor="middle" font-family="Liberation Sans" font-weight="700" font-size="31" fill="#e8cc5a" stroke="#8e6c12" stroke-width="1.5" letter-spacing="2.5" transform="scale(0.92,1)">ГРИВНЯ</text></svg>
<div style="position:absolute;left:322.9px;top:1953.0px;width:65.0px;height:194.7px;background:#c4975a;"></div>
<div style="position:absolute;left:533.3px;top:1953.0px;width:65.1px;height:110.4px;background:#c4975a;"></div>
<div style="position:absolute;left:777.0px;top:1953.0px;width:65.0px;height:145.4px;background:#c4975a;"></div>
<div style="position:absolute;left:1035.8px;top:1953.0px;width:65.0px;height:124.0px;background:#c4975a;"></div>
<div style="position:absolute;left:1303.0px;top:1953.0px;width:65.2px;height:33.0px;background:#c4975a;"></div>
<div class="t" style="left:277.2px;top:2193.1px;font-size:65.4px;font-weight:700;color:#4b4b4b;transform:scaleX(0.9500);">16,0</div>
<div class="t" style="left:398.2px;top:2203.9px;font-size:52.7px;font-weight:400;color:#4b4b4b;transform:scaleX(0.7800);">%</div>
<div class="t" style="left:504.4px;top:2109.1px;font-size:65.4px;font-weight:700;color:#4b4b4b;transform:scaleX(0.9500);">9,2</div>
<div class="t" style="left:590.8px;top:2119.9px;font-size:52.7px;font-weight:400;color:#4b4b4b;transform:scaleX(0.7800);">%</div>
<div class="t" style="left:731.4px;top:2144.6px;font-size:65.4px;font-weight:700;color:#4b4b4b;transform:scaleX(0.9500);">12,1</div>
<div class="t" style="left:852.3px;top:2155.4px;font-size:52.7px;font-weight:400;color:#4b4b4b;transform:scaleX(0.7800);">%</div>
<div class="t" style="left:989.5px;top:2121.6px;font-size:65.4px;font-weight:700;color:#4b4b4b;transform:scaleX(0.9500);">10,2</div>
<div class="t" style="left:1110.5px;top:2132.4px;font-size:52.7px;font-weight:400;color:#4b4b4b;transform:scaleX(0.7800);">%</div>
<div class="t" style="left:1274.2px;top:2032.4px;font-size:65.4px;font-weight:700;color:#4b4b4b;transform:scaleX(0.9500);">2,7</div>
<div class="t" style="left:1360.6px;top:2043.2px;font-size:52.7px;font-weight:400;color:#4b4b4b;transform:scaleX(0.7800);">%</div>
<div style="position:absolute;left:1564.0px;top:1436.0px;width:570.0px;height:809.0px;background:#f7f2ed;"></div>
<div class="t" style="left:1779.1px;top:1502.4px;font-size:85.6px;font-weight:700;color:#0a7d4a;font-family:'Liberation Sans',sans-serif;transform:scaleX(0.9870);">193</div>
<div class="t" style="left:1794.9px;top:1587.7px;font-size:37.8px;font-weight:400;color:#4b4b4b;font-family:'Liberation Sans',sans-serif;transform:scaleX(1.0276);">монет</div>
<div style="position:absolute;left:1701.0px;top:1671.0px;width:296.0px;height:4.5px;background:#c4975a;"></div>
<div class="t" style="left:1648.1px;top:1706.2px;font-size:47.8px;font-weight:400;color:#4e4e4e;font-family:'Liberation Sans',sans-serif;transform:scaleX(0.9865);-webkit-text-stroke:1.4px #f7f2ed;">Середня кількість</div>
<div class="t" style="left:1626.0px;top:1760.5px;font-size:47.8px;font-weight:400;color:#4e4e4e;font-family:'Liberation Sans',sans-serif;transform:scaleX(0.9948);-webkit-text-stroke:1.4px #f7f2ed;">банкнот і розмінних</div>
<div class="t" style="left:1651.3px;top:1814.7px;font-size:47.8px;font-weight:400;color:#4e4e4e;font-family:'Liberation Sans',sans-serif;transform:scaleX(0.9794);-webkit-text-stroke:1.4px #f7f2ed;">та обігових монет,</div>
<div class="t" style="left:1598.5px;top:1870.0px;font-size:47.8px;font-weight:400;color:#4e4e4e;font-family:'Liberation Sans',sans-serif;transform:scaleX(0.9802);-webkit-text-stroke:1.4px #f7f2ed;">що є засобом платежу,</div>
<div class="t" style="left:1641.8px;top:1925.2px;font-size:47.8px;font-weight:400;color:#4e4e4e;font-family:'Liberation Sans',sans-serif;transform:scaleX(0.9822);-webkit-text-stroke:1.4px #f7f2ed;">на одного українця</div>
<div style="position:absolute;left:1701.0px;top:2005.0px;width:296.0px;height:4.6px;background:#52738b;"></div>
<div class="t" style="left:1801.0px;top:2051.5px;font-size:85.6px;font-weight:700;color:#0a7d4a;font-family:'Liberation Sans',sans-serif;">64</div>
<div class="t" style="left:1765.5px;top:2135.4px;font-size:37.8px;font-weight:400;color:#4b4b4b;font-family:'Liberation Sans',sans-serif;transform:scaleX(1.0468);">банкноти</div>
<div class="t" style="left:2425.1px;top:1442.2px;font-size:30.5px;font-weight:400;color:#a63a7c;font-family:'Liberation Sans',sans-serif;transform:scaleX(1.0103);">Поступово замінюються обіговими монетами</div>
<div style="position:absolute;left:2335.0px;top:1500.0px;width:831.0px;height:3px;background:repeating-linear-gradient(90deg,#d272ab 0 16px,transparent 16px 33px);"></div>
<div style="position:absolute;left:2330.7px;top:1513.5px;width:3px;height:52.5px;background:repeating-linear-gradient(180deg,#d272ab 0 16px,transparent 16px 33px);"></div>
<div style="position:absolute;left:3162.9px;top:1501.5px;width:3px;height:48.5px;background:repeating-linear-gradient(180deg,#d272ab 0 16px,transparent 16px 33px);"></div>
<div class="t" style="left:2263.5px;top:1598.7px;font-size:54.9px;font-weight:700;color:#53768f;font-family:'Liberation Sans',sans-serif;transform:scaleX(0.9900);">347,4</div>
<div class="t" style="left:2262.7px;top:1658.6px;font-size:38.0px;font-weight:400;color:#4b4b4b;font-family:'Liberation Sans',sans-serif;transform:scaleX(1.0100);">млн шт.</div>
<div class="t" style="left:2541.3px;top:1598.7px;font-size:54.9px;font-weight:700;color:#53768f;font-family:'Liberation Sans',sans-serif;transform:scaleX(0.9900);">138,0</div>
<div class="t" style="left:2540.7px;top:1658.6px;font-size:38.0px;font-weight:400;color:#4b4b4b;font-family:'Liberation Sans',sans-serif;transform:scaleX(1.0100);">млн шт.</div>
<div class="t" style="left:2817.0px;top:1598.7px;font-size:54.9px;font-weight:700;color:#53768f;font-family:'Liberation Sans',sans-serif;transform:scaleX(0.9900);">107,1</div>
<div class="t" style="left:2816.7px;top:1658.6px;font-size:38.0px;font-weight:400;color:#4b4b4b;font-family:'Liberation Sans',sans-serif;transform:scaleX(1.0100);">млн шт.</div>
<div class="t" style="left:3111.1px;top:1598.7px;font-size:54.9px;font-weight:700;color:#53768f;font-family:'Liberation Sans',sans-serif;transform:scaleX(0.9900);">64,9</div>
<div class="t" style="left:3094.7px;top:1658.6px;font-size:38.0px;font-weight:400;color:#4b4b4b;font-family:'Liberation Sans',sans-serif;transform:scaleX(1.0100);">млн шт.</div>
<svg style="position:absolute;left:2242px;top:1744px" width="181" height="124" viewBox="70 70 2130 1460" preserveAspectRatio="none"><rect x="70" y="70" width="2130" height="1460" fill="#fdfcf0" /><rect x="70" y="70" width="2130" height="385" fill="#b0dcf4" /><rect x="70" y="1150" width="2130" height="380" fill="#b0dcf4" /><rect x="70" y="70" width="260" height="385" fill="#e6f4fc" /><rect x="70" y="1150" width="260" height="380" fill="#e6f4fc" /><rect x="330" y="455" width="230" height="695" fill="#f2e0d8" /><rect x="560" y="455" width="170" height="695" fill="#fbf0c0" /><rect x="730" y="455" width="150" height="695" fill="#f2e2a8" /><rect x="880" y="455" width="100" height="695" fill="#fbe6a0" /><rect x="880" y="70" width="100" height="385" fill="#a8d4b0" /><rect x="880" y="1150" width="100" height="380" fill="#a8d4b0" /><rect x="980" y="70" width="1220" height="385" fill="#fcd054" /><rect x="980" y="455" width="920" height="695" fill="#fce6a0" /><rect x="980" y="1150" width="1220" height="380" fill="#f8e088" /><rect x="980" y="560" width="120" height="590" fill="#e0d8b8" /><rect x="1900" y="455" width="220" height="695" fill="#fcd860" /><rect x="2120" y="455" width="80" height="695" fill="#fdf0c0" /><rect x="1900" y="160" width="210" height="1270" fill="#f8dc78" /><rect x="1900" y="160" width="210" height="290" fill="#fbe694" /><rect x="1900" y="810" width="210" height="340" fill="#fcd04c" /><rect x="1900" y="1150" width="210" height="280" fill="#ecb024" /><rect x="445" y="70" width="35" height="1460" fill="#7aa8c8" /><rect x="510" y="165" width="335" height="335" fill="#2aa8cc" /><path d="M580,200 L775,200 L775,380 Q775,450 678,470 Q580,450 580,380Z" fill="#fad660"/><path d="M620,240 L640,400 L678,440 L716,400 L736,240 M678,215 L678,430" stroke="#2a90c0" stroke-width="22" fill="none"/><polygon points="1010,430 1100,340 1240,220 1450,85 1640,150 1800,320 1890,480 1890,750 1820,800 1840,1000 1800,1150 1880,1160 1880,1430 850,1420 860,1300 1000,1210 1220,1140 1110,1100 1090,800 1060,650 1010,550" fill="#8e7a62" /><polygon points="290,1240 370,1240 395,1330 370,1420 290,1420 260,1330" fill="#f0c050" /><text x="2005" y="300" transform="rotate(90 2005 300)" text-anchor="middle" font-family="Liberation Sans" font-weight="700" font-size="150" fill="#e8a820">1</text><text x="2005" y="1300" transform="rotate(90 2005 1300)" text-anchor="middle" font-family="Liberation Sans" font-weight="700" font-size="150" fill="#fdf0c0">1</text></svg>
<svg style="position:absolute;left:2519px;top:1744px" width="181" height="124" viewBox="70 70 2130 1460" preserveAspectRatio="none"><rect x="80" y="70" width="2110" height="1460" fill="#fdf4f0" /><rect x="80" y="70" width="2110" height="390" fill="#e4c8b0" /><rect x="80" y="1160" width="2110" height="370" fill="#e4c8b0" /><rect x="80" y="70" width="250" height="390" fill="#fde4dc" /><rect x="80" y="1160" width="250" height="370" fill="#fde4dc" /><rect x="880" y="70" width="650" height="390" fill="#e6ae9c" /><rect x="880" y="1160" width="650" height="370" fill="#e6ae9c" /><rect x="1530" y="70" width="320" height="390" fill="#e6c8a0" /><rect x="1530" y="1160" width="320" height="370" fill="#e6c8a0" /><rect x="330" y="460" width="170" height="700" fill="#dcdfa6" /><rect x="500" y="460" width="100" height="700" fill="#f4b896" /><rect x="600" y="460" width="1250" height="700" fill="#d4d498" /><rect x="660" y="555" width="490" height="605" fill="#bab6bc" /><rect x="880" y="165" width="220" height="295" fill="#dc9c8c" /><rect x="1690" y="760" width="160" height="320" fill="#e2e08c" /><rect x="1850" y="165" width="220" height="295" fill="#f4d4bc" /><rect x="1850" y="460" width="220" height="210" fill="#b8b4a4" /><rect x="1850" y="670" width="220" height="270" fill="#b46c74" /><rect x="1850" y="940" width="220" height="220" fill="#b8b4a4" /><rect x="1850" y="1160" width="220" height="280" fill="#b45e60" /><rect x="2070" y="460" width="120" height="700" fill="#f4d4bc" /><rect x="430" y="1160" width="1420" height="280" fill="#c8847a" /><rect x="440" y="1210" width="110" height="230" fill="#b07070" /><rect x="495" y="140" width="350" height="350" fill="#b65e62" /><circle cx="670" cy="315" r="155" fill="#9aaaa0"/><polygon points="1100,170 1800,170 1840,270 1830,470 1830,750 1700,820 1690,1010 1840,1080 1840,1440 930,1440 820,1300 860,1200 1000,1120 1140,1080 1130,900 1110,700 1050,580 1060,250" fill="#9c664e" /><polygon points="310,1240 380,1240 405,1330 380,1420 310,1420 280,1330" fill="#e07890" /><text x="1960" y="310" transform="rotate(90 1960 310)" text-anchor="middle" font-family="Liberation Sans" font-weight="700" font-size="160" fill="#b65e62">2</text><text x="1960" y="1300" transform="rotate(90 1960 1300)" text-anchor="middle" font-family="Liberation Sans" font-weight="700" font-size="160" fill="#f4d4bc">2</text><g transform="translate(670,315) scale(0.9)" fill="none" stroke="#5a5040" stroke-width="14"><path d="M-40,-70 L-40,30 L0,70 L40,30 L40,-70 M0,-85 L0,60 M-40,-10 Q-20,20 0,10 Q20,20 40,-10"/></g></svg>
<svg style="position:absolute;left:2797px;top:1744px" width="181" height="124" viewBox="70 70 2130 1460" preserveAspectRatio="none"><rect x="70" y="70" width="2130" height="1460" fill="#f4f4f4" /><rect x="70" y="70" width="2130" height="390" fill="#a4d8ee" /><rect x="70" y="1150" width="2130" height="380" fill="#a4d8ee" /><rect x="70" y="70" width="260" height="390" fill="#d4ecf0" /><rect x="70" y="1150" width="260" height="380" fill="#d4ecf0" /><rect x="330" y="70" width="550" height="390" fill="#b0dcf4" /><rect x="330" y="1150" width="550" height="380" fill="#b0dcf4" /><rect x="330" y="460" width="170" height="690" fill="#f8dcea" /><rect x="500" y="460" width="1380" height="690" fill="#98d0d8" /><rect x="880" y="460" width="170" height="55" fill="#f8dcea" /><rect x="880" y="165" width="1000" height="290" fill="#6496a8" /><rect x="420" y="1150" width="1460" height="290" fill="#70a8bc" /><rect x="420" y="1190" width="120" height="250" fill="#5a8ea4" /><rect x="1880" y="165" width="230" height="295" fill="#b0dcf4" /><rect x="1880" y="460" width="230" height="270" fill="#b8c8b4" /><rect x="1880" y="730" width="230" height="150" fill="#6496a8" /><rect x="1880" y="880" width="230" height="270" fill="#b8c8b4" /><rect x="1880" y="1150" width="230" height="290" fill="#4a8aa8" /><rect x="2110" y="460" width="90" height="690" fill="#d4ecf0" /><rect x="495" y="155" width="350" height="360" fill="#5e8ea6" /><rect x="515" y="170" width="320" height="330" rx="60" fill="#c4c6a0"/><polygon points="1060,380 1200,200 1450,160 1700,200 1860,350 1870,600 1870,850 1720,890 1870,950 1870,1430 1000,1430 910,1200 950,1050 1150,900 1150,730 1050,660 1020,540" fill="#5a88a0" /><polygon points="290,1250 355,1250 385,1335 355,1420 290,1420 260,1335" fill="#70c4d8" /><text x="1995" y="300" transform="rotate(90 1995 300)" text-anchor="middle" font-family="Liberation Sans" font-weight="700" font-size="160" fill="#4a8aa8">5</text><text x="1995" y="1300" transform="rotate(90 1995 1300)" text-anchor="middle" font-family="Liberation Sans" font-weight="700" font-size="160" fill="#b0dcf4">5</text><g transform="translate(670,330) scale(1.0)" fill="none" stroke="#5e8ea6" stroke-width="14"><path d="M-40,-70 L-40,30 L0,70 L40,30 L40,-70 M0,-85 L0,60 M-40,-10 Q-20,20 0,10 Q20,20 40,-10"/></g></svg>
<svg style="position:absolute;left:3075px;top:1744px" width="181" height="124" viewBox="70 70 2130 1460" preserveAspectRatio="none"><rect x="70" y="70" width="2120" height="1460" fill="#fde8ee" /><rect x="70" y="70" width="2120" height="375" fill="#f0808a" /><rect x="70" y="1165" width="2120" height="365" fill="#f0808a" /><rect x="70" y="70" width="210" height="375" fill="#f4b4bc" /><rect x="70" y="1165" width="210" height="365" fill="#f4b4bc" /><rect x="280" y="70" width="600" height="375" fill="#f29a90" /><rect x="280" y="1165" width="600" height="365" fill="#f29a90" /><rect x="1460" y="70" width="730" height="375" fill="#f4aec0" /><rect x="1460" y="1165" width="730" height="365" fill="#f4aec0" /><rect x="280" y="445" width="330" height="720" fill="#b2c4e6" /><rect x="610" y="445" width="1260" height="720" fill="#d0a0c4" /><rect x="820" y="140" width="1050" height="315" fill="#d87a7a" /><rect x="1720" y="455" width="150" height="655" fill="#b2c4e6" /><rect x="1870" y="140" width="220" height="320" fill="#f08898" /><rect x="1870" y="460" width="220" height="220" fill="#d2c4a8" /><rect x="1870" y="680" width="220" height="225" fill="#f08090" /><rect x="1870" y="905" width="220" height="215" fill="#d2c4a8" /><rect x="1870" y="1120" width="220" height="320" fill="#e8608a" /><rect x="2090" y="460" width="100" height="705" fill="#f8c8d4" /><rect x="540" y="1165" width="1330" height="255" fill="#d87a7a" /><rect x="400" y="1215" width="105" height="205" fill="#e06068" /><rect x="470" y="145" width="355" height="335" fill="#ea6088" /><circle cx="648" cy="315" r="152" fill="#d2c0a4"/><polygon points="1060,430 1180,230 1450,150 1700,230 1830,420 1850,620 1780,850 1690,950 1700,1030 1850,1120 1860,1440 930,1430 830,1330 900,1250 1200,1130 1210,1030 1130,1000 1150,900 1130,600 1070,500" fill="#8a5c58" /><polygon points="240,1235 320,1235 350,1335 320,1430 240,1430 210,1335" fill="#e8608c" /><text x="1980" y="300" transform="rotate(90 1980 300)" text-anchor="middle" font-family="Liberation Sans" font-weight="700" font-size="150" fill="#f4a4b4">10</text><text x="1980" y="1290" transform="rotate(90 1980 1290)" text-anchor="middle" font-family="Liberation Sans" font-weight="700" font-size="150" fill="#fde0e8">10</text><g transform="translate(648,320) scale(0.9)" fill="none" stroke="#8a5040" stroke-width="14"><path d="M-40,-70 L-40,30 L0,70 L40,30 L40,-70 M0,-85 L0,60 M-40,-10 Q-20,20 0,10 Q20,20 40,-10"/></g></svg>
<div style="position:absolute;left:2299.6px;top:1904.0px;width:65.2px;height:162.0px;background:#52738b;"></div>
<div style="position:absolute;left:2577.0px;top:1904.0px;width:65.2px;height:63.7px;background:#52738b;"></div>
<div style="position:absolute;left:2855.0px;top:1904.0px;width:64.6px;height:54.6px;background:#52738b;"></div>
<div style="position:absolute;left:3132.3px;top:1904.0px;width:65.2px;height:33.0px;background:#52738b;"></div>
<div class="t" style="left:2252.5px;top:2112.6px;font-size:65.4px;font-weight:700;color:#4b4b4b;transform:scaleX(0.9500);">13,1</div>
<div class="t" style="left:2373.5px;top:2123.4px;font-size:52.7px;font-weight:400;color:#4b4b4b;transform:scaleX(0.7800);">%</div>
<div class="t" style="left:2548.3px;top:2013.4px;font-size:65.4px;font-weight:700;color:#4b4b4b;transform:scaleX(0.9500);">5,2</div>
<div class="t" style="left:2634.7px;top:2024.2px;font-size:52.7px;font-weight:400;color:#4b4b4b;transform:scaleX(0.7800);">%</div>
<div class="t" style="left:2825.8px;top:2003.8px;font-size:65.4px;font-weight:700;color:#4b4b4b;transform:scaleX(0.9500);">4,1</div>
<div class="t" style="left:2912.2px;top:2014.6px;font-size:52.7px;font-weight:400;color:#4b4b4b;transform:scaleX(0.7800);">%</div>
<div class="t" style="left:3103.2px;top:1984.6px;font-size:65.4px;font-weight:700;color:#4b4b4b;transform:scaleX(0.9500);">2,5</div>
<div class="t" style="left:3189.6px;top:1995.4px;font-size:52.7px;font-weight:400;color:#4b4b4b;transform:scaleX(0.7800);">%</div>
<div style="position:absolute;left:0.0px;top:2328.0px;width:354.0px;height:152.0px;background:#077c4a;"></div>
<div style="position:absolute;left:354.0px;top:2456.5px;width:3154.0px;height:23.5px;background:#93cb6a;"></div>
<svg style="position:absolute;left:30px;top:2360px" width="60" height="85" viewBox="30 2360 60 85"><path d="M48.5,2369.5 L70,2369.5 L79.4,2401.5 L70,2435 L48.5,2435 L39.3,2401.5Z" fill="none" stroke="#fff" stroke-width="2.4" stroke-linejoin="miter"/><path d="M52,2373 L66,2373 L55,2430 L43.5,2401.5Z" fill="#fff"/></svg>
<div class="t" style="left:96.5px;top:2363.1px;font-size:38.1px;font-weight:400;color:#fff;font-family:'Liberation Sans',sans-serif;transform:scaleX(0.8934);">Національний</div>
<div class="t" style="left:97.8px;top:2402.8px;font-size:38.1px;font-weight:400;color:#fff;font-family:'Liberation Sans',sans-serif;transform:scaleX(0.9695);">банк України</div>
<div class="t" style="left:481.3px;top:2296.3px;font-size:43.0px;font-weight:400;color:#4a4a4a;font-family:'Liberation Sans',sans-serif;transform:scaleX(0.9891);white-space:pre;">Монети  номіналами 1, 2, 5 та 25 копійок враховуються у структурі готівкового обігу на період дії правового режиму воєнного стану в Україні</div>
<div class="t" style="left:484.1px;top:2342.4px;font-size:43.0px;font-weight:400;color:#4a4a4a;font-family:'Liberation Sans',sans-serif;transform:scaleX(0.9919);white-space:pre;">та протягом 90 днів із дня його припинення чи скасування включно, поки громадяни можуть їх обміняти на монети та банкноти інших</div>
<div class="t" style="left:481.9px;top:2388.6px;font-size:43.0px;font-weight:400;color:#4a4a4a;font-family:'Liberation Sans',sans-serif;transform:scaleX(0.9805);white-space:pre;">номіналів, що перебувають в обігу.</div>
</body></html>
